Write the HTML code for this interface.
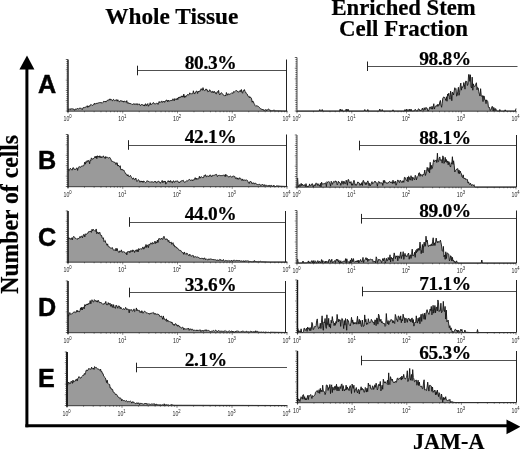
<!DOCTYPE html>
<html><head><meta charset="utf-8"><title>JAM-A flow cytometry</title>
<style>
html,body{margin:0;padding:0;background:#fff;}
body{width:520px;height:451px;overflow:hidden;font-family:"Liberation Sans",sans-serif;}
svg{display:block;will-change:transform;}
.sf{font-family:"Liberation Serif",serif;font-weight:bold;stroke:#000;stroke-width:0.2px;}
.pc{letter-spacing:-0.35px;}
.sn{font-family:"Liberation Sans",sans-serif;}
.sb{font-family:"Liberation Sans",sans-serif;font-weight:bold;}
</style></head><body>
<svg width="520" height="451" viewBox="0 0 520 451">
<rect x="0" y="0" width="520" height="451" fill="#fff"/>
<g>
<path d="M68.0 111.0 L68.0 109.03 L68.6 109.23 L69.2 109.13 L69.8 109.23 L70.4 109.71 L71.0 108.45 L71.6 109.10 L72.2 108.99 L72.8 108.75 L73.4 109.10 L74.0 109.13 L74.6 110.37 L75.2 109.21 L75.8 109.01 L76.4 109.43 L77.0 108.39 L77.6 108.58 L78.2 109.15 L78.8 108.56 L79.4 108.26 L80.0 108.44 L80.6 107.83 L81.2 109.02 L81.8 108.92 L82.4 109.52 L83.0 107.68 L83.6 107.54 L84.2 107.37 L84.8 107.63 L85.4 107.14 L86.0 107.43 L86.6 106.58 L87.2 105.70 L87.8 107.41 L88.4 105.91 L89.0 106.79 L89.6 105.65 L90.2 105.78 L90.8 104.42 L91.4 104.68 L92.0 105.41 L92.6 105.37 L93.2 104.63 L93.8 104.71 L94.4 103.16 L95.0 104.28 L95.6 103.60 L96.2 103.16 L96.8 103.96 L97.4 103.21 L98.0 102.71 L98.6 102.88 L99.2 102.70 L99.8 102.60 L100.4 102.68 L101.0 102.12 L101.6 102.95 L102.2 103.27 L102.8 102.67 L103.4 101.47 L104.0 101.06 L104.6 101.67 L105.2 101.04 L105.8 102.13 L106.4 101.09 L107.0 101.14 L107.6 100.19 L108.2 100.63 L108.8 99.49 L109.4 99.04 L110.0 100.24 L110.6 99.04 L111.2 99.31 L111.8 100.37 L112.4 100.80 L113.0 99.64 L113.6 99.37 L114.2 100.45 L114.8 100.73 L115.4 100.50 L116.0 99.51 L116.6 99.93 L117.2 101.25 L117.8 99.70 L118.4 100.73 L119.0 101.75 L119.6 101.72 L120.2 100.54 L120.8 100.94 L121.4 101.11 L122.0 100.55 L122.6 101.58 L123.2 100.99 L123.8 102.22 L124.4 101.07 L125.0 101.52 L125.6 101.69 L126.2 102.32 L126.8 100.61 L127.4 103.28 L128.0 102.55 L128.6 102.96 L129.2 103.91 L129.8 103.17 L130.4 103.60 L131.0 103.54 L131.6 104.19 L132.2 104.22 L132.8 104.68 L133.4 103.98 L134.0 103.44 L134.6 104.49 L135.2 103.70 L135.8 104.59 L136.4 104.52 L137.0 103.45 L137.6 104.78 L138.2 104.38 L138.8 104.22 L139.4 103.94 L140.0 105.45 L140.6 105.61 L141.2 104.50 L141.8 104.60 L142.4 104.77 L143.0 104.68 L143.6 105.77 L144.2 104.79 L144.8 106.08 L145.4 103.84 L146.0 104.09 L146.6 105.70 L147.2 104.78 L147.8 103.55 L148.4 106.26 L149.0 105.13 L149.6 104.77 L150.2 102.71 L150.8 104.90 L151.4 104.15 L152.0 103.91 L152.6 103.64 L153.2 102.55 L153.8 102.84 L154.4 103.86 L155.0 104.12 L155.6 103.79 L156.2 103.49 L156.8 103.23 L157.4 103.34 L158.0 104.43 L158.6 102.78 L159.2 101.47 L159.8 102.82 L160.4 102.12 L161.0 101.45 L161.6 101.20 L162.2 102.57 L162.8 101.38 L163.4 101.62 L164.0 101.00 L164.6 102.39 L165.2 101.09 L165.8 100.96 L166.4 100.01 L167.0 100.09 L167.6 101.76 L168.2 100.04 L168.8 101.48 L169.4 100.97 L170.0 100.73 L170.6 100.52 L171.2 100.23 L171.8 101.02 L172.4 100.09 L173.0 98.77 L173.6 99.53 L174.2 100.88 L174.8 98.58 L175.4 99.31 L176.0 99.06 L176.6 99.80 L177.2 97.97 L177.8 99.60 L178.4 97.35 L179.0 98.13 L179.6 96.86 L180.2 97.73 L180.8 96.87 L181.4 95.88 L182.0 97.21 L182.6 95.87 L183.2 97.10 L183.8 94.09 L184.4 97.46 L185.0 95.77 L185.6 97.19 L186.2 96.09 L186.8 95.26 L187.4 94.81 L188.0 94.36 L188.6 95.22 L189.2 94.22 L189.8 92.82 L190.4 93.75 L191.0 94.26 L191.6 93.69 L192.2 93.66 L192.8 93.66 L193.4 90.79 L194.0 93.01 L194.6 94.06 L195.2 92.92 L195.8 91.96 L196.4 91.03 L197.0 91.31 L197.6 93.48 L198.2 91.07 L198.8 91.83 L199.4 91.06 L200.0 91.53 L200.6 89.57 L201.2 88.65 L201.8 89.97 L202.4 90.25 L203.0 87.65 L203.6 90.06 L204.2 90.58 L204.8 90.31 L205.4 90.24 L206.0 88.87 L206.6 89.99 L207.2 89.81 L207.8 91.77 L208.4 91.35 L209.0 91.69 L209.6 89.79 L210.2 90.23 L210.8 91.77 L211.4 91.64 L212.0 92.75 L212.6 91.31 L213.2 91.41 L213.8 92.86 L214.4 91.42 L215.0 91.89 L215.6 93.59 L216.2 94.06 L216.8 92.34 L217.4 91.58 L218.0 92.48 L218.6 90.39 L219.2 94.00 L219.8 94.88 L220.4 93.84 L221.0 92.83 L221.6 92.77 L222.2 93.49 L222.8 94.32 L223.4 95.03 L224.0 95.46 L224.6 96.10 L225.2 95.00 L225.8 95.82 L226.4 92.54 L227.0 93.85 L227.6 95.18 L228.2 93.82 L228.8 94.13 L229.4 94.24 L230.0 94.49 L230.6 93.69 L231.2 93.41 L231.8 92.73 L232.4 93.11 L233.0 93.42 L233.6 91.52 L234.2 92.08 L234.8 91.57 L235.4 91.12 L236.0 90.41 L236.6 90.67 L237.2 90.93 L237.8 91.84 L238.4 91.85 L239.0 92.20 L239.6 91.40 L240.2 90.33 L240.8 91.77 L241.4 89.51 L242.0 92.40 L242.6 93.25 L243.2 90.65 L243.8 91.06 L244.4 89.57 L245.0 91.43 L245.6 91.98 L246.2 93.28 L246.8 94.17 L247.4 94.32 L248.0 96.26 L248.6 96.73 L249.2 96.29 L249.8 97.92 L250.4 97.06 L251.0 97.60 L251.6 98.91 L252.2 102.21 L252.8 100.94 L253.4 101.91 L254.0 103.39 L254.6 104.38 L255.2 105.67 L255.8 106.31 L256.4 105.74 L257.0 105.93 L257.6 106.10 L258.2 106.40 L258.8 106.75 L259.4 107.37 L260.0 108.11 L260.6 108.87 L261.2 109.06 L261.8 109.01 L262.4 109.84 L263.0 109.09 L263.6 110.40 L264.2 110.07 L264.8 110.64 L265.4 109.89 L266.0 109.29 L266.6 110.80 L267.2 109.91 L267.8 109.60 L268.4 109.15 L269.0 109.21 L269.6 110.35 L270.2 110.53 L270.8 110.13 L271.4 111.00 L272.0 110.46 L272.6 110.82 L273.2 110.16 L273.8 110.28 L274.4 110.25 L275.0 110.75 L275.6 110.76 L276.2 110.77 L276.8 110.79 L277.4 110.80 L278.0 110.81 L278.6 110.82 L279.2 110.84 L279.8 110.85 L280.4 110.86 L281.0 110.87 L281.6 110.89 L282.2 110.90 L282.8 110.91 L283.4 110.92 L284.0 110.94 L284.6 110.95 L285.2 110.96 L285.8 110.97 L286.4 110.99 L287.0 111.00 L287.0 111.0 Z" fill="#9a9a9a" stroke="none"/><path d="M68.0 109.03 L68.6 109.23 L69.2 109.13 L69.8 109.23 L70.4 109.71 L71.0 108.45 L71.6 109.10 L72.2 108.99 L72.8 108.75 L73.4 109.10 L74.0 109.13 L74.6 110.37 L75.2 109.21 L75.8 109.01 L76.4 109.43 L77.0 108.39 L77.6 108.58 L78.2 109.15 L78.8 108.56 L79.4 108.26 L80.0 108.44 L80.6 107.83 L81.2 109.02 L81.8 108.92 L82.4 109.52 L83.0 107.68 L83.6 107.54 L84.2 107.37 L84.8 107.63 L85.4 107.14 L86.0 107.43 L86.6 106.58 L87.2 105.70 L87.8 107.41 L88.4 105.91 L89.0 106.79 L89.6 105.65 L90.2 105.78 L90.8 104.42 L91.4 104.68 L92.0 105.41 L92.6 105.37 L93.2 104.63 L93.8 104.71 L94.4 103.16 L95.0 104.28 L95.6 103.60 L96.2 103.16 L96.8 103.96 L97.4 103.21 L98.0 102.71 L98.6 102.88 L99.2 102.70 L99.8 102.60 L100.4 102.68 L101.0 102.12 L101.6 102.95 L102.2 103.27 L102.8 102.67 L103.4 101.47 L104.0 101.06 L104.6 101.67 L105.2 101.04 L105.8 102.13 L106.4 101.09 L107.0 101.14 L107.6 100.19 L108.2 100.63 L108.8 99.49 L109.4 99.04 L110.0 100.24 L110.6 99.04 L111.2 99.31 L111.8 100.37 L112.4 100.80 L113.0 99.64 L113.6 99.37 L114.2 100.45 L114.8 100.73 L115.4 100.50 L116.0 99.51 L116.6 99.93 L117.2 101.25 L117.8 99.70 L118.4 100.73 L119.0 101.75 L119.6 101.72 L120.2 100.54 L120.8 100.94 L121.4 101.11 L122.0 100.55 L122.6 101.58 L123.2 100.99 L123.8 102.22 L124.4 101.07 L125.0 101.52 L125.6 101.69 L126.2 102.32 L126.8 100.61 L127.4 103.28 L128.0 102.55 L128.6 102.96 L129.2 103.91 L129.8 103.17 L130.4 103.60 L131.0 103.54 L131.6 104.19 L132.2 104.22 L132.8 104.68 L133.4 103.98 L134.0 103.44 L134.6 104.49 L135.2 103.70 L135.8 104.59 L136.4 104.52 L137.0 103.45 L137.6 104.78 L138.2 104.38 L138.8 104.22 L139.4 103.94 L140.0 105.45 L140.6 105.61 L141.2 104.50 L141.8 104.60 L142.4 104.77 L143.0 104.68 L143.6 105.77 L144.2 104.79 L144.8 106.08 L145.4 103.84 L146.0 104.09 L146.6 105.70 L147.2 104.78 L147.8 103.55 L148.4 106.26 L149.0 105.13 L149.6 104.77 L150.2 102.71 L150.8 104.90 L151.4 104.15 L152.0 103.91 L152.6 103.64 L153.2 102.55 L153.8 102.84 L154.4 103.86 L155.0 104.12 L155.6 103.79 L156.2 103.49 L156.8 103.23 L157.4 103.34 L158.0 104.43 L158.6 102.78 L159.2 101.47 L159.8 102.82 L160.4 102.12 L161.0 101.45 L161.6 101.20 L162.2 102.57 L162.8 101.38 L163.4 101.62 L164.0 101.00 L164.6 102.39 L165.2 101.09 L165.8 100.96 L166.4 100.01 L167.0 100.09 L167.6 101.76 L168.2 100.04 L168.8 101.48 L169.4 100.97 L170.0 100.73 L170.6 100.52 L171.2 100.23 L171.8 101.02 L172.4 100.09 L173.0 98.77 L173.6 99.53 L174.2 100.88 L174.8 98.58 L175.4 99.31 L176.0 99.06 L176.6 99.80 L177.2 97.97 L177.8 99.60 L178.4 97.35 L179.0 98.13 L179.6 96.86 L180.2 97.73 L180.8 96.87 L181.4 95.88 L182.0 97.21 L182.6 95.87 L183.2 97.10 L183.8 94.09 L184.4 97.46 L185.0 95.77 L185.6 97.19 L186.2 96.09 L186.8 95.26 L187.4 94.81 L188.0 94.36 L188.6 95.22 L189.2 94.22 L189.8 92.82 L190.4 93.75 L191.0 94.26 L191.6 93.69 L192.2 93.66 L192.8 93.66 L193.4 90.79 L194.0 93.01 L194.6 94.06 L195.2 92.92 L195.8 91.96 L196.4 91.03 L197.0 91.31 L197.6 93.48 L198.2 91.07 L198.8 91.83 L199.4 91.06 L200.0 91.53 L200.6 89.57 L201.2 88.65 L201.8 89.97 L202.4 90.25 L203.0 87.65 L203.6 90.06 L204.2 90.58 L204.8 90.31 L205.4 90.24 L206.0 88.87 L206.6 89.99 L207.2 89.81 L207.8 91.77 L208.4 91.35 L209.0 91.69 L209.6 89.79 L210.2 90.23 L210.8 91.77 L211.4 91.64 L212.0 92.75 L212.6 91.31 L213.2 91.41 L213.8 92.86 L214.4 91.42 L215.0 91.89 L215.6 93.59 L216.2 94.06 L216.8 92.34 L217.4 91.58 L218.0 92.48 L218.6 90.39 L219.2 94.00 L219.8 94.88 L220.4 93.84 L221.0 92.83 L221.6 92.77 L222.2 93.49 L222.8 94.32 L223.4 95.03 L224.0 95.46 L224.6 96.10 L225.2 95.00 L225.8 95.82 L226.4 92.54 L227.0 93.85 L227.6 95.18 L228.2 93.82 L228.8 94.13 L229.4 94.24 L230.0 94.49 L230.6 93.69 L231.2 93.41 L231.8 92.73 L232.4 93.11 L233.0 93.42 L233.6 91.52 L234.2 92.08 L234.8 91.57 L235.4 91.12 L236.0 90.41 L236.6 90.67 L237.2 90.93 L237.8 91.84 L238.4 91.85 L239.0 92.20 L239.6 91.40 L240.2 90.33 L240.8 91.77 L241.4 89.51 L242.0 92.40 L242.6 93.25 L243.2 90.65 L243.8 91.06 L244.4 89.57 L245.0 91.43 L245.6 91.98 L246.2 93.28 L246.8 94.17 L247.4 94.32 L248.0 96.26 L248.6 96.73 L249.2 96.29 L249.8 97.92 L250.4 97.06 L251.0 97.60 L251.6 98.91 L252.2 102.21 L252.8 100.94 L253.4 101.91 L254.0 103.39 L254.6 104.38 L255.2 105.67 L255.8 106.31 L256.4 105.74 L257.0 105.93 L257.6 106.10 L258.2 106.40 L258.8 106.75 L259.4 107.37 L260.0 108.11 L260.6 108.87 L261.2 109.06 L261.8 109.01 L262.4 109.84 L263.0 109.09 L263.6 110.40 L264.2 110.07 L264.8 110.64 L265.4 109.89 L266.0 109.29 L266.6 110.80 L267.2 109.91 L267.8 109.60 L268.4 109.15 L269.0 109.21 L269.6 110.35 L270.2 110.53 L270.8 110.13 L271.4 111.00 L272.0 110.46 L272.6 110.82 L273.2 110.16 L273.8 110.28 L274.4 110.25 L275.0 110.75 L275.6 110.76 L276.2 110.77 L276.8 110.79 L277.4 110.80 L278.0 110.81 L278.6 110.82 L279.2 110.84 L279.8 110.85 L280.4 110.86 L281.0 110.87 L281.6 110.89 L282.2 110.90 L282.8 110.91 L283.4 110.92 L284.0 110.94 L284.6 110.95 L285.2 110.96 L285.8 110.97 L286.4 110.99 L287.0 111.00" fill="none" stroke="#111" stroke-width="0.9" stroke-linejoin="round"/>
<line x1="68.0" y1="59.5" x2="68.0" y2="112.2" stroke="#151515" stroke-width="1.4"/><line x1="65.8" y1="111.00" x2="68.0" y2="111.00" stroke="#222" stroke-width="0.7"/><line x1="66.4" y1="108.94" x2="68.0" y2="108.94" stroke="#222" stroke-width="0.7"/><line x1="66.4" y1="106.88" x2="68.0" y2="106.88" stroke="#222" stroke-width="0.7"/><line x1="66.4" y1="104.82" x2="68.0" y2="104.82" stroke="#222" stroke-width="0.7"/><line x1="66.4" y1="102.76" x2="68.0" y2="102.76" stroke="#222" stroke-width="0.7"/><line x1="65.8" y1="100.70" x2="68.0" y2="100.70" stroke="#222" stroke-width="0.7"/><line x1="66.4" y1="98.64" x2="68.0" y2="98.64" stroke="#222" stroke-width="0.7"/><line x1="66.4" y1="96.58" x2="68.0" y2="96.58" stroke="#222" stroke-width="0.7"/><line x1="66.4" y1="94.52" x2="68.0" y2="94.52" stroke="#222" stroke-width="0.7"/><line x1="66.4" y1="92.46" x2="68.0" y2="92.46" stroke="#222" stroke-width="0.7"/><line x1="65.8" y1="90.40" x2="68.0" y2="90.40" stroke="#222" stroke-width="0.7"/><line x1="66.4" y1="88.34" x2="68.0" y2="88.34" stroke="#222" stroke-width="0.7"/><line x1="66.4" y1="86.28" x2="68.0" y2="86.28" stroke="#222" stroke-width="0.7"/><line x1="66.4" y1="84.22" x2="68.0" y2="84.22" stroke="#222" stroke-width="0.7"/><line x1="66.4" y1="82.16" x2="68.0" y2="82.16" stroke="#222" stroke-width="0.7"/><line x1="65.8" y1="80.10" x2="68.0" y2="80.10" stroke="#222" stroke-width="0.7"/><line x1="66.4" y1="78.04" x2="68.0" y2="78.04" stroke="#222" stroke-width="0.7"/><line x1="66.4" y1="75.98" x2="68.0" y2="75.98" stroke="#222" stroke-width="0.7"/><line x1="66.4" y1="73.92" x2="68.0" y2="73.92" stroke="#222" stroke-width="0.7"/><line x1="66.4" y1="71.86" x2="68.0" y2="71.86" stroke="#222" stroke-width="0.7"/><line x1="65.8" y1="69.80" x2="68.0" y2="69.80" stroke="#222" stroke-width="0.7"/><line x1="66.4" y1="67.74" x2="68.0" y2="67.74" stroke="#222" stroke-width="0.7"/><line x1="66.4" y1="65.68" x2="68.0" y2="65.68" stroke="#222" stroke-width="0.7"/><line x1="66.4" y1="63.62" x2="68.0" y2="63.62" stroke="#222" stroke-width="0.7"/><line x1="66.4" y1="61.56" x2="68.0" y2="61.56" stroke="#222" stroke-width="0.7"/><line x1="65.8" y1="59.50" x2="68.0" y2="59.50" stroke="#222" stroke-width="0.7"/>
<line x1="67.5" y1="111.2" x2="287.5" y2="111.2" stroke="#222" stroke-width="0.9"/><line x1="68.00" y1="111.0" x2="68.00" y2="113.4" stroke="#222" stroke-width="0.5"/><line x1="84.48" y1="111.0" x2="84.48" y2="112.3" stroke="#222" stroke-width="0.5"/><line x1="94.12" y1="111.0" x2="94.12" y2="112.3" stroke="#222" stroke-width="0.5"/><line x1="100.96" y1="111.0" x2="100.96" y2="112.3" stroke="#222" stroke-width="0.5"/><line x1="106.27" y1="111.0" x2="106.27" y2="112.3" stroke="#222" stroke-width="0.5"/><line x1="110.60" y1="111.0" x2="110.60" y2="112.3" stroke="#222" stroke-width="0.5"/><line x1="114.27" y1="111.0" x2="114.27" y2="112.3" stroke="#222" stroke-width="0.5"/><line x1="117.44" y1="111.0" x2="117.44" y2="112.3" stroke="#222" stroke-width="0.5"/><line x1="120.24" y1="111.0" x2="120.24" y2="112.3" stroke="#222" stroke-width="0.5"/><line x1="122.75" y1="111.0" x2="122.75" y2="113.4" stroke="#222" stroke-width="0.5"/><line x1="139.23" y1="111.0" x2="139.23" y2="112.3" stroke="#222" stroke-width="0.5"/><line x1="148.87" y1="111.0" x2="148.87" y2="112.3" stroke="#222" stroke-width="0.5"/><line x1="155.71" y1="111.0" x2="155.71" y2="112.3" stroke="#222" stroke-width="0.5"/><line x1="161.02" y1="111.0" x2="161.02" y2="112.3" stroke="#222" stroke-width="0.5"/><line x1="165.35" y1="111.0" x2="165.35" y2="112.3" stroke="#222" stroke-width="0.5"/><line x1="169.02" y1="111.0" x2="169.02" y2="112.3" stroke="#222" stroke-width="0.5"/><line x1="172.19" y1="111.0" x2="172.19" y2="112.3" stroke="#222" stroke-width="0.5"/><line x1="174.99" y1="111.0" x2="174.99" y2="112.3" stroke="#222" stroke-width="0.5"/><line x1="177.50" y1="111.0" x2="177.50" y2="113.4" stroke="#222" stroke-width="0.5"/><line x1="193.98" y1="111.0" x2="193.98" y2="112.3" stroke="#222" stroke-width="0.5"/><line x1="203.62" y1="111.0" x2="203.62" y2="112.3" stroke="#222" stroke-width="0.5"/><line x1="210.46" y1="111.0" x2="210.46" y2="112.3" stroke="#222" stroke-width="0.5"/><line x1="215.77" y1="111.0" x2="215.77" y2="112.3" stroke="#222" stroke-width="0.5"/><line x1="220.10" y1="111.0" x2="220.10" y2="112.3" stroke="#222" stroke-width="0.5"/><line x1="223.77" y1="111.0" x2="223.77" y2="112.3" stroke="#222" stroke-width="0.5"/><line x1="226.94" y1="111.0" x2="226.94" y2="112.3" stroke="#222" stroke-width="0.5"/><line x1="229.74" y1="111.0" x2="229.74" y2="112.3" stroke="#222" stroke-width="0.5"/><line x1="232.25" y1="111.0" x2="232.25" y2="113.4" stroke="#222" stroke-width="0.5"/><line x1="248.73" y1="111.0" x2="248.73" y2="112.3" stroke="#222" stroke-width="0.5"/><line x1="258.37" y1="111.0" x2="258.37" y2="112.3" stroke="#222" stroke-width="0.5"/><line x1="265.21" y1="111.0" x2="265.21" y2="112.3" stroke="#222" stroke-width="0.5"/><line x1="270.52" y1="111.0" x2="270.52" y2="112.3" stroke="#222" stroke-width="0.5"/><line x1="274.85" y1="111.0" x2="274.85" y2="112.3" stroke="#222" stroke-width="0.5"/><line x1="278.52" y1="111.0" x2="278.52" y2="112.3" stroke="#222" stroke-width="0.5"/><line x1="281.69" y1="111.0" x2="281.69" y2="112.3" stroke="#222" stroke-width="0.5"/><line x1="284.49" y1="111.0" x2="284.49" y2="112.3" stroke="#222" stroke-width="0.5"/><line x1="287.00" y1="111.0" x2="287.00" y2="113.4" stroke="#222" stroke-width="0.5"/><text class="sn" transform="translate(67.6,121.3) scale(0.82,1)" font-size="6.4" text-anchor="middle" fill="#222">10<tspan dy="-3.3" font-size="5.1">0</tspan></text><text class="sn" transform="translate(122.3,121.3) scale(0.82,1)" font-size="6.4" text-anchor="middle" fill="#222">10<tspan dy="-3.3" font-size="5.1">1</tspan></text><text class="sn" transform="translate(177.1,121.3) scale(0.82,1)" font-size="6.4" text-anchor="middle" fill="#222">10<tspan dy="-3.3" font-size="5.1">2</tspan></text><text class="sn" transform="translate(231.8,121.3) scale(0.82,1)" font-size="6.4" text-anchor="middle" fill="#222">10<tspan dy="-3.3" font-size="5.1">3</tspan></text><text class="sn" transform="translate(286.6,121.3) scale(0.82,1)" font-size="6.4" text-anchor="middle" fill="#222">10<tspan dy="-3.3" font-size="5.1">4</tspan></text>
<line x1="137.5" y1="70.5" x2="286.5" y2="70.5" stroke="#505050" stroke-width="1"/><line x1="137.5" y1="65.7" x2="137.5" y2="75.3" stroke="#222" stroke-width="1"/><line x1="286.5" y1="59.5" x2="286.5" y2="111.0" stroke="#222" stroke-width="1"/><text x="210.5" y="68.7" class="sf pc" font-size="19.4" text-anchor="middle" fill="#000">80.3%</text>
<path d="M68.0 186.5 L68.0 168.89 L68.6 170.22 L69.2 170.66 L69.8 169.16 L70.4 168.28 L71.0 169.31 L71.6 169.69 L72.2 170.14 L72.8 167.87 L73.4 167.67 L74.0 169.41 L74.6 169.07 L75.2 169.93 L75.8 169.30 L76.4 168.15 L77.0 167.87 L77.6 170.43 L78.2 167.60 L78.8 167.01 L79.4 166.54 L80.0 167.59 L80.6 167.19 L81.2 166.27 L81.8 166.09 L82.4 165.97 L83.0 165.93 L83.6 165.89 L84.2 164.56 L84.8 162.09 L85.4 164.16 L86.0 161.55 L86.6 162.37 L87.2 160.57 L87.8 161.65 L88.4 160.38 L89.0 160.98 L89.6 163.81 L90.2 159.85 L90.8 160.50 L91.4 157.87 L92.0 158.69 L92.6 159.42 L93.2 158.30 L93.8 158.51 L94.4 157.91 L95.0 156.39 L95.6 157.82 L96.2 156.00 L96.8 158.69 L97.4 155.73 L98.0 157.06 L98.6 156.34 L99.2 157.44 L99.8 155.75 L100.4 157.58 L101.0 156.37 L101.6 157.97 L102.2 157.30 L102.8 156.80 L103.4 155.82 L104.0 157.59 L104.6 157.30 L105.2 158.65 L105.8 156.45 L106.4 157.53 L107.0 157.53 L107.6 157.38 L108.2 157.70 L108.8 158.08 L109.4 157.63 L110.0 157.59 L110.6 158.66 L111.2 160.13 L111.8 161.52 L112.4 161.35 L113.0 161.83 L113.6 161.94 L114.2 162.25 L114.8 162.12 L115.4 163.13 L116.0 164.56 L116.6 162.81 L117.2 162.84 L117.8 166.06 L118.4 165.01 L119.0 166.40 L119.6 166.96 L120.2 165.69 L120.8 169.78 L121.4 169.81 L122.0 168.98 L122.6 170.18 L123.2 170.28 L123.8 170.05 L124.4 171.41 L125.0 172.51 L125.6 173.82 L126.2 174.13 L126.8 174.26 L127.4 175.99 L128.0 174.69 L128.6 176.29 L129.2 176.90 L129.8 176.15 L130.4 175.36 L131.0 176.41 L131.6 177.64 L132.2 178.21 L132.8 179.32 L133.4 177.81 L134.0 178.90 L134.6 179.72 L135.2 179.43 L135.8 178.03 L136.4 180.37 L137.0 181.54 L137.6 180.77 L138.2 179.59 L138.8 180.08 L139.4 180.64 L140.0 182.29 L140.6 181.17 L141.2 180.97 L141.8 182.05 L142.4 181.11 L143.0 182.51 L143.6 180.99 L144.2 181.27 L144.8 182.16 L145.4 182.66 L146.0 182.18 L146.6 181.96 L147.2 180.62 L147.8 181.33 L148.4 181.40 L149.0 181.46 L149.6 182.17 L150.2 181.60 L150.8 182.31 L151.4 181.87 L152.0 181.62 L152.6 181.91 L153.2 182.11 L153.8 182.39 L154.4 181.55 L155.0 181.71 L155.6 181.01 L156.2 182.88 L156.8 182.79 L157.4 181.78 L158.0 181.59 L158.6 181.12 L159.2 182.01 L159.8 182.04 L160.4 183.29 L161.0 182.08 L161.6 181.45 L162.2 180.41 L162.8 182.83 L163.4 182.07 L164.0 180.95 L164.6 182.08 L165.2 180.97 L165.8 184.16 L166.4 182.69 L167.0 182.35 L167.6 181.89 L168.2 180.63 L168.8 181.87 L169.4 180.94 L170.0 182.27 L170.6 180.52 L171.2 181.27 L171.8 182.59 L172.4 182.83 L173.0 181.02 L173.6 180.77 L174.2 182.27 L174.8 182.23 L175.4 181.03 L176.0 181.19 L176.6 181.17 L177.2 180.82 L177.8 181.12 L178.4 182.33 L179.0 181.95 L179.6 182.80 L180.2 181.40 L180.8 181.34 L181.4 180.77 L182.0 181.30 L182.6 180.50 L183.2 180.18 L183.8 181.75 L184.4 182.21 L185.0 181.79 L185.6 182.03 L186.2 181.24 L186.8 180.51 L187.4 180.95 L188.0 180.55 L188.6 179.97 L189.2 179.49 L189.8 179.53 L190.4 180.38 L191.0 180.32 L191.6 179.73 L192.2 180.87 L192.8 179.84 L193.4 179.96 L194.0 180.24 L194.6 178.63 L195.2 177.64 L195.8 179.42 L196.4 178.21 L197.0 179.49 L197.6 178.62 L198.2 178.95 L198.8 178.60 L199.4 176.32 L200.0 178.24 L200.6 177.03 L201.2 176.79 L201.8 176.86 L202.4 177.62 L203.0 177.60 L203.6 177.60 L204.2 175.45 L204.8 176.17 L205.4 174.69 L206.0 176.36 L206.6 176.81 L207.2 175.65 L207.8 176.34 L208.4 176.24 L209.0 176.76 L209.6 175.21 L210.2 175.11 L210.8 175.06 L211.4 176.98 L212.0 176.35 L212.6 175.28 L213.2 175.47 L213.8 175.28 L214.4 175.26 L215.0 174.83 L215.6 174.79 L216.2 174.10 L216.8 174.66 L217.4 176.57 L218.0 175.73 L218.6 175.41 L219.2 175.25 L219.8 175.53 L220.4 175.82 L221.0 175.08 L221.6 175.82 L222.2 175.91 L222.8 175.19 L223.4 175.21 L224.0 175.11 L224.6 175.12 L225.2 176.72 L225.8 174.22 L226.4 175.93 L227.0 175.72 L227.6 175.77 L228.2 176.40 L228.8 177.26 L229.4 176.50 L230.0 176.39 L230.6 176.08 L231.2 176.52 L231.8 177.39 L232.4 176.44 L233.0 176.02 L233.6 176.11 L234.2 176.42 L234.8 176.39 L235.4 178.45 L236.0 178.07 L236.6 177.80 L237.2 179.24 L237.8 177.86 L238.4 179.07 L239.0 179.28 L239.6 177.77 L240.2 177.95 L240.8 178.58 L241.4 180.06 L242.0 180.51 L242.6 178.93 L243.2 180.68 L243.8 179.88 L244.4 180.05 L245.0 180.13 L245.6 180.48 L246.2 179.68 L246.8 180.42 L247.4 180.47 L248.0 181.78 L248.6 182.98 L249.2 183.57 L249.8 181.83 L250.4 181.17 L251.0 182.17 L251.6 182.05 L252.2 183.99 L252.8 183.33 L253.4 182.76 L254.0 183.92 L254.6 183.87 L255.2 182.86 L255.8 183.66 L256.4 184.02 L257.0 184.35 L257.6 184.58 L258.2 184.39 L258.8 184.73 L259.4 184.39 L260.0 184.29 L260.6 185.58 L261.2 185.05 L261.8 185.15 L262.4 184.20 L263.0 184.97 L263.6 185.51 L264.2 184.55 L264.8 185.76 L265.4 185.10 L266.0 185.54 L266.6 185.35 L267.2 185.57 L267.8 186.08 L268.4 185.41 L269.0 186.35 L269.6 185.36 L270.2 185.35 L270.8 186.10 L271.4 185.35 L272.0 185.68 L272.6 186.26 L273.2 186.41 L273.8 185.16 L274.4 186.16 L275.0 186.50 L275.6 186.50 L276.2 185.92 L276.8 185.80 L277.4 185.95 L278.0 185.63 L278.6 186.02 L279.2 186.08 L279.8 186.12 L280.4 186.21 L281.0 186.24 L281.6 186.26 L282.2 186.29 L282.8 186.31 L283.4 186.34 L284.0 186.37 L284.6 186.39 L285.2 186.42 L285.8 186.45 L286.4 186.47 L287.0 186.50 L287.0 186.5 Z" fill="#9a9a9a" stroke="none"/><path d="M68.0 168.89 L68.6 170.22 L69.2 170.66 L69.8 169.16 L70.4 168.28 L71.0 169.31 L71.6 169.69 L72.2 170.14 L72.8 167.87 L73.4 167.67 L74.0 169.41 L74.6 169.07 L75.2 169.93 L75.8 169.30 L76.4 168.15 L77.0 167.87 L77.6 170.43 L78.2 167.60 L78.8 167.01 L79.4 166.54 L80.0 167.59 L80.6 167.19 L81.2 166.27 L81.8 166.09 L82.4 165.97 L83.0 165.93 L83.6 165.89 L84.2 164.56 L84.8 162.09 L85.4 164.16 L86.0 161.55 L86.6 162.37 L87.2 160.57 L87.8 161.65 L88.4 160.38 L89.0 160.98 L89.6 163.81 L90.2 159.85 L90.8 160.50 L91.4 157.87 L92.0 158.69 L92.6 159.42 L93.2 158.30 L93.8 158.51 L94.4 157.91 L95.0 156.39 L95.6 157.82 L96.2 156.00 L96.8 158.69 L97.4 155.73 L98.0 157.06 L98.6 156.34 L99.2 157.44 L99.8 155.75 L100.4 157.58 L101.0 156.37 L101.6 157.97 L102.2 157.30 L102.8 156.80 L103.4 155.82 L104.0 157.59 L104.6 157.30 L105.2 158.65 L105.8 156.45 L106.4 157.53 L107.0 157.53 L107.6 157.38 L108.2 157.70 L108.8 158.08 L109.4 157.63 L110.0 157.59 L110.6 158.66 L111.2 160.13 L111.8 161.52 L112.4 161.35 L113.0 161.83 L113.6 161.94 L114.2 162.25 L114.8 162.12 L115.4 163.13 L116.0 164.56 L116.6 162.81 L117.2 162.84 L117.8 166.06 L118.4 165.01 L119.0 166.40 L119.6 166.96 L120.2 165.69 L120.8 169.78 L121.4 169.81 L122.0 168.98 L122.6 170.18 L123.2 170.28 L123.8 170.05 L124.4 171.41 L125.0 172.51 L125.6 173.82 L126.2 174.13 L126.8 174.26 L127.4 175.99 L128.0 174.69 L128.6 176.29 L129.2 176.90 L129.8 176.15 L130.4 175.36 L131.0 176.41 L131.6 177.64 L132.2 178.21 L132.8 179.32 L133.4 177.81 L134.0 178.90 L134.6 179.72 L135.2 179.43 L135.8 178.03 L136.4 180.37 L137.0 181.54 L137.6 180.77 L138.2 179.59 L138.8 180.08 L139.4 180.64 L140.0 182.29 L140.6 181.17 L141.2 180.97 L141.8 182.05 L142.4 181.11 L143.0 182.51 L143.6 180.99 L144.2 181.27 L144.8 182.16 L145.4 182.66 L146.0 182.18 L146.6 181.96 L147.2 180.62 L147.8 181.33 L148.4 181.40 L149.0 181.46 L149.6 182.17 L150.2 181.60 L150.8 182.31 L151.4 181.87 L152.0 181.62 L152.6 181.91 L153.2 182.11 L153.8 182.39 L154.4 181.55 L155.0 181.71 L155.6 181.01 L156.2 182.88 L156.8 182.79 L157.4 181.78 L158.0 181.59 L158.6 181.12 L159.2 182.01 L159.8 182.04 L160.4 183.29 L161.0 182.08 L161.6 181.45 L162.2 180.41 L162.8 182.83 L163.4 182.07 L164.0 180.95 L164.6 182.08 L165.2 180.97 L165.8 184.16 L166.4 182.69 L167.0 182.35 L167.6 181.89 L168.2 180.63 L168.8 181.87 L169.4 180.94 L170.0 182.27 L170.6 180.52 L171.2 181.27 L171.8 182.59 L172.4 182.83 L173.0 181.02 L173.6 180.77 L174.2 182.27 L174.8 182.23 L175.4 181.03 L176.0 181.19 L176.6 181.17 L177.2 180.82 L177.8 181.12 L178.4 182.33 L179.0 181.95 L179.6 182.80 L180.2 181.40 L180.8 181.34 L181.4 180.77 L182.0 181.30 L182.6 180.50 L183.2 180.18 L183.8 181.75 L184.4 182.21 L185.0 181.79 L185.6 182.03 L186.2 181.24 L186.8 180.51 L187.4 180.95 L188.0 180.55 L188.6 179.97 L189.2 179.49 L189.8 179.53 L190.4 180.38 L191.0 180.32 L191.6 179.73 L192.2 180.87 L192.8 179.84 L193.4 179.96 L194.0 180.24 L194.6 178.63 L195.2 177.64 L195.8 179.42 L196.4 178.21 L197.0 179.49 L197.6 178.62 L198.2 178.95 L198.8 178.60 L199.4 176.32 L200.0 178.24 L200.6 177.03 L201.2 176.79 L201.8 176.86 L202.4 177.62 L203.0 177.60 L203.6 177.60 L204.2 175.45 L204.8 176.17 L205.4 174.69 L206.0 176.36 L206.6 176.81 L207.2 175.65 L207.8 176.34 L208.4 176.24 L209.0 176.76 L209.6 175.21 L210.2 175.11 L210.8 175.06 L211.4 176.98 L212.0 176.35 L212.6 175.28 L213.2 175.47 L213.8 175.28 L214.4 175.26 L215.0 174.83 L215.6 174.79 L216.2 174.10 L216.8 174.66 L217.4 176.57 L218.0 175.73 L218.6 175.41 L219.2 175.25 L219.8 175.53 L220.4 175.82 L221.0 175.08 L221.6 175.82 L222.2 175.91 L222.8 175.19 L223.4 175.21 L224.0 175.11 L224.6 175.12 L225.2 176.72 L225.8 174.22 L226.4 175.93 L227.0 175.72 L227.6 175.77 L228.2 176.40 L228.8 177.26 L229.4 176.50 L230.0 176.39 L230.6 176.08 L231.2 176.52 L231.8 177.39 L232.4 176.44 L233.0 176.02 L233.6 176.11 L234.2 176.42 L234.8 176.39 L235.4 178.45 L236.0 178.07 L236.6 177.80 L237.2 179.24 L237.8 177.86 L238.4 179.07 L239.0 179.28 L239.6 177.77 L240.2 177.95 L240.8 178.58 L241.4 180.06 L242.0 180.51 L242.6 178.93 L243.2 180.68 L243.8 179.88 L244.4 180.05 L245.0 180.13 L245.6 180.48 L246.2 179.68 L246.8 180.42 L247.4 180.47 L248.0 181.78 L248.6 182.98 L249.2 183.57 L249.8 181.83 L250.4 181.17 L251.0 182.17 L251.6 182.05 L252.2 183.99 L252.8 183.33 L253.4 182.76 L254.0 183.92 L254.6 183.87 L255.2 182.86 L255.8 183.66 L256.4 184.02 L257.0 184.35 L257.6 184.58 L258.2 184.39 L258.8 184.73 L259.4 184.39 L260.0 184.29 L260.6 185.58 L261.2 185.05 L261.8 185.15 L262.4 184.20 L263.0 184.97 L263.6 185.51 L264.2 184.55 L264.8 185.76 L265.4 185.10 L266.0 185.54 L266.6 185.35 L267.2 185.57 L267.8 186.08 L268.4 185.41 L269.0 186.35 L269.6 185.36 L270.2 185.35 L270.8 186.10 L271.4 185.35 L272.0 185.68 L272.6 186.26 L273.2 186.41 L273.8 185.16 L274.4 186.16 L275.0 186.50 L275.6 186.50 L276.2 185.92 L276.8 185.80 L277.4 185.95 L278.0 185.63 L278.6 186.02 L279.2 186.08 L279.8 186.12 L280.4 186.21 L281.0 186.24 L281.6 186.26 L282.2 186.29 L282.8 186.31 L283.4 186.34 L284.0 186.37 L284.6 186.39 L285.2 186.42 L285.8 186.45 L286.4 186.47 L287.0 186.50" fill="none" stroke="#111" stroke-width="0.9" stroke-linejoin="round"/>
<line x1="68.0" y1="134.5" x2="68.0" y2="187.7" stroke="#151515" stroke-width="1.4"/><line x1="65.8" y1="186.50" x2="68.0" y2="186.50" stroke="#222" stroke-width="0.7"/><line x1="66.4" y1="184.42" x2="68.0" y2="184.42" stroke="#222" stroke-width="0.7"/><line x1="66.4" y1="182.34" x2="68.0" y2="182.34" stroke="#222" stroke-width="0.7"/><line x1="66.4" y1="180.26" x2="68.0" y2="180.26" stroke="#222" stroke-width="0.7"/><line x1="66.4" y1="178.18" x2="68.0" y2="178.18" stroke="#222" stroke-width="0.7"/><line x1="65.8" y1="176.10" x2="68.0" y2="176.10" stroke="#222" stroke-width="0.7"/><line x1="66.4" y1="174.02" x2="68.0" y2="174.02" stroke="#222" stroke-width="0.7"/><line x1="66.4" y1="171.94" x2="68.0" y2="171.94" stroke="#222" stroke-width="0.7"/><line x1="66.4" y1="169.86" x2="68.0" y2="169.86" stroke="#222" stroke-width="0.7"/><line x1="66.4" y1="167.78" x2="68.0" y2="167.78" stroke="#222" stroke-width="0.7"/><line x1="65.8" y1="165.70" x2="68.0" y2="165.70" stroke="#222" stroke-width="0.7"/><line x1="66.4" y1="163.62" x2="68.0" y2="163.62" stroke="#222" stroke-width="0.7"/><line x1="66.4" y1="161.54" x2="68.0" y2="161.54" stroke="#222" stroke-width="0.7"/><line x1="66.4" y1="159.46" x2="68.0" y2="159.46" stroke="#222" stroke-width="0.7"/><line x1="66.4" y1="157.38" x2="68.0" y2="157.38" stroke="#222" stroke-width="0.7"/><line x1="65.8" y1="155.30" x2="68.0" y2="155.30" stroke="#222" stroke-width="0.7"/><line x1="66.4" y1="153.22" x2="68.0" y2="153.22" stroke="#222" stroke-width="0.7"/><line x1="66.4" y1="151.14" x2="68.0" y2="151.14" stroke="#222" stroke-width="0.7"/><line x1="66.4" y1="149.06" x2="68.0" y2="149.06" stroke="#222" stroke-width="0.7"/><line x1="66.4" y1="146.98" x2="68.0" y2="146.98" stroke="#222" stroke-width="0.7"/><line x1="65.8" y1="144.90" x2="68.0" y2="144.90" stroke="#222" stroke-width="0.7"/><line x1="66.4" y1="142.82" x2="68.0" y2="142.82" stroke="#222" stroke-width="0.7"/><line x1="66.4" y1="140.74" x2="68.0" y2="140.74" stroke="#222" stroke-width="0.7"/><line x1="66.4" y1="138.66" x2="68.0" y2="138.66" stroke="#222" stroke-width="0.7"/><line x1="66.4" y1="136.58" x2="68.0" y2="136.58" stroke="#222" stroke-width="0.7"/><line x1="65.8" y1="134.50" x2="68.0" y2="134.50" stroke="#222" stroke-width="0.7"/>
<line x1="67.5" y1="186.7" x2="287.5" y2="186.7" stroke="#222" stroke-width="0.9"/><line x1="68.00" y1="186.5" x2="68.00" y2="188.9" stroke="#222" stroke-width="0.5"/><line x1="84.48" y1="186.5" x2="84.48" y2="187.8" stroke="#222" stroke-width="0.5"/><line x1="94.12" y1="186.5" x2="94.12" y2="187.8" stroke="#222" stroke-width="0.5"/><line x1="100.96" y1="186.5" x2="100.96" y2="187.8" stroke="#222" stroke-width="0.5"/><line x1="106.27" y1="186.5" x2="106.27" y2="187.8" stroke="#222" stroke-width="0.5"/><line x1="110.60" y1="186.5" x2="110.60" y2="187.8" stroke="#222" stroke-width="0.5"/><line x1="114.27" y1="186.5" x2="114.27" y2="187.8" stroke="#222" stroke-width="0.5"/><line x1="117.44" y1="186.5" x2="117.44" y2="187.8" stroke="#222" stroke-width="0.5"/><line x1="120.24" y1="186.5" x2="120.24" y2="187.8" stroke="#222" stroke-width="0.5"/><line x1="122.75" y1="186.5" x2="122.75" y2="188.9" stroke="#222" stroke-width="0.5"/><line x1="139.23" y1="186.5" x2="139.23" y2="187.8" stroke="#222" stroke-width="0.5"/><line x1="148.87" y1="186.5" x2="148.87" y2="187.8" stroke="#222" stroke-width="0.5"/><line x1="155.71" y1="186.5" x2="155.71" y2="187.8" stroke="#222" stroke-width="0.5"/><line x1="161.02" y1="186.5" x2="161.02" y2="187.8" stroke="#222" stroke-width="0.5"/><line x1="165.35" y1="186.5" x2="165.35" y2="187.8" stroke="#222" stroke-width="0.5"/><line x1="169.02" y1="186.5" x2="169.02" y2="187.8" stroke="#222" stroke-width="0.5"/><line x1="172.19" y1="186.5" x2="172.19" y2="187.8" stroke="#222" stroke-width="0.5"/><line x1="174.99" y1="186.5" x2="174.99" y2="187.8" stroke="#222" stroke-width="0.5"/><line x1="177.50" y1="186.5" x2="177.50" y2="188.9" stroke="#222" stroke-width="0.5"/><line x1="193.98" y1="186.5" x2="193.98" y2="187.8" stroke="#222" stroke-width="0.5"/><line x1="203.62" y1="186.5" x2="203.62" y2="187.8" stroke="#222" stroke-width="0.5"/><line x1="210.46" y1="186.5" x2="210.46" y2="187.8" stroke="#222" stroke-width="0.5"/><line x1="215.77" y1="186.5" x2="215.77" y2="187.8" stroke="#222" stroke-width="0.5"/><line x1="220.10" y1="186.5" x2="220.10" y2="187.8" stroke="#222" stroke-width="0.5"/><line x1="223.77" y1="186.5" x2="223.77" y2="187.8" stroke="#222" stroke-width="0.5"/><line x1="226.94" y1="186.5" x2="226.94" y2="187.8" stroke="#222" stroke-width="0.5"/><line x1="229.74" y1="186.5" x2="229.74" y2="187.8" stroke="#222" stroke-width="0.5"/><line x1="232.25" y1="186.5" x2="232.25" y2="188.9" stroke="#222" stroke-width="0.5"/><line x1="248.73" y1="186.5" x2="248.73" y2="187.8" stroke="#222" stroke-width="0.5"/><line x1="258.37" y1="186.5" x2="258.37" y2="187.8" stroke="#222" stroke-width="0.5"/><line x1="265.21" y1="186.5" x2="265.21" y2="187.8" stroke="#222" stroke-width="0.5"/><line x1="270.52" y1="186.5" x2="270.52" y2="187.8" stroke="#222" stroke-width="0.5"/><line x1="274.85" y1="186.5" x2="274.85" y2="187.8" stroke="#222" stroke-width="0.5"/><line x1="278.52" y1="186.5" x2="278.52" y2="187.8" stroke="#222" stroke-width="0.5"/><line x1="281.69" y1="186.5" x2="281.69" y2="187.8" stroke="#222" stroke-width="0.5"/><line x1="284.49" y1="186.5" x2="284.49" y2="187.8" stroke="#222" stroke-width="0.5"/><line x1="287.00" y1="186.5" x2="287.00" y2="188.9" stroke="#222" stroke-width="0.5"/><text class="sn" transform="translate(67.6,196.8) scale(0.82,1)" font-size="6.4" text-anchor="middle" fill="#222">10<tspan dy="-3.3" font-size="5.1">0</tspan></text><text class="sn" transform="translate(122.3,196.8) scale(0.82,1)" font-size="6.4" text-anchor="middle" fill="#222">10<tspan dy="-3.3" font-size="5.1">1</tspan></text><text class="sn" transform="translate(177.1,196.8) scale(0.82,1)" font-size="6.4" text-anchor="middle" fill="#222">10<tspan dy="-3.3" font-size="5.1">2</tspan></text><text class="sn" transform="translate(231.8,196.8) scale(0.82,1)" font-size="6.4" text-anchor="middle" fill="#222">10<tspan dy="-3.3" font-size="5.1">3</tspan></text><text class="sn" transform="translate(286.6,196.8) scale(0.82,1)" font-size="6.4" text-anchor="middle" fill="#222">10<tspan dy="-3.3" font-size="5.1">4</tspan></text>
<line x1="128.5" y1="145.5" x2="286.5" y2="145.5" stroke="#505050" stroke-width="1"/><line x1="128.5" y1="140.2" x2="128.5" y2="149.8" stroke="#222" stroke-width="1"/><line x1="286.5" y1="134.5" x2="286.5" y2="186.5" stroke="#222" stroke-width="1"/><text x="210.5" y="143.2" class="sf pc" font-size="19.4" text-anchor="middle" fill="#000">42.1%</text>
<path d="M68.0 262.0 L68.0 237.28 L68.6 238.90 L69.2 238.29 L69.8 238.00 L70.4 239.39 L71.0 238.38 L71.6 237.94 L72.2 239.99 L72.8 237.54 L73.4 236.66 L74.0 236.45 L74.6 237.24 L75.2 238.38 L75.8 238.50 L76.4 238.71 L77.0 239.36 L77.6 239.14 L78.2 237.96 L78.8 238.59 L79.4 237.81 L80.0 236.45 L80.6 237.58 L81.2 236.44 L81.8 235.82 L82.4 237.85 L83.0 236.21 L83.6 234.52 L84.2 234.62 L84.8 236.93 L85.4 233.76 L86.0 234.51 L86.6 234.05 L87.2 233.60 L87.8 233.35 L88.4 231.82 L89.0 231.50 L89.6 231.50 L90.2 230.94 L90.8 231.94 L91.4 232.45 L92.0 229.32 L92.6 230.75 L93.2 229.28 L93.8 229.92 L94.4 230.74 L95.0 231.44 L95.6 231.11 L96.2 228.96 L96.8 233.78 L97.4 232.21 L98.0 232.10 L98.6 233.87 L99.2 232.75 L99.8 232.13 L100.4 234.95 L101.0 235.76 L101.6 235.32 L102.2 238.00 L102.8 238.40 L103.4 237.74 L104.0 241.59 L104.6 240.97 L105.2 240.48 L105.8 242.94 L106.4 243.52 L107.0 245.22 L107.6 243.86 L108.2 246.48 L108.8 246.78 L109.4 246.95 L110.0 247.26 L110.6 248.29 L111.2 248.15 L111.8 248.03 L112.4 247.59 L113.0 249.67 L113.6 249.95 L114.2 249.76 L114.8 250.04 L115.4 250.74 L116.0 248.21 L116.6 250.71 L117.2 248.54 L117.8 250.94 L118.4 251.75 L119.0 252.58 L119.6 250.81 L120.2 251.69 L120.8 251.43 L121.4 249.87 L122.0 252.37 L122.6 251.93 L123.2 252.14 L123.8 251.50 L124.4 252.36 L125.0 252.60 L125.6 253.41 L126.2 252.53 L126.8 254.92 L127.4 251.74 L128.0 251.73 L128.6 251.78 L129.2 251.05 L129.8 252.79 L130.4 251.98 L131.0 250.31 L131.6 251.31 L132.2 252.03 L132.8 249.83 L133.4 250.98 L134.0 250.54 L134.6 252.53 L135.2 250.84 L135.8 250.04 L136.4 249.79 L137.0 251.71 L137.6 249.63 L138.2 251.81 L138.8 248.47 L139.4 249.50 L140.0 249.34 L140.6 248.67 L141.2 248.81 L141.8 249.31 L142.4 247.86 L143.0 246.91 L143.6 249.07 L144.2 248.91 L144.8 246.72 L145.4 247.33 L146.0 244.47 L146.6 247.45 L147.2 245.02 L147.8 245.45 L148.4 247.67 L149.0 244.24 L149.6 245.15 L150.2 243.85 L150.8 242.84 L151.4 243.20 L152.0 244.28 L152.6 242.49 L153.2 242.84 L153.8 243.77 L154.4 242.58 L155.0 241.13 L155.6 243.54 L156.2 241.86 L156.8 242.80 L157.4 240.03 L158.0 242.43 L158.6 239.05 L159.2 238.30 L159.8 239.31 L160.4 239.03 L161.0 239.35 L161.6 238.16 L162.2 239.07 L162.8 239.47 L163.4 237.06 L164.0 236.27 L164.6 237.71 L165.2 239.39 L165.8 239.79 L166.4 239.01 L167.0 238.77 L167.6 240.17 L168.2 241.57 L168.8 240.29 L169.4 242.71 L170.0 242.05 L170.6 242.52 L171.2 242.04 L171.8 244.38 L172.4 243.52 L173.0 242.66 L173.6 245.46 L174.2 244.94 L174.8 246.94 L175.4 246.74 L176.0 246.66 L176.6 247.99 L177.2 248.05 L177.8 248.27 L178.4 249.37 L179.0 250.44 L179.6 250.18 L180.2 250.43 L180.8 250.42 L181.4 251.72 L182.0 251.85 L182.6 252.77 L183.2 252.68 L183.8 254.41 L184.4 251.96 L185.0 253.49 L185.6 254.14 L186.2 254.62 L186.8 253.04 L187.4 253.48 L188.0 254.55 L188.6 255.55 L189.2 255.78 L189.8 254.14 L190.4 255.51 L191.0 256.44 L191.6 255.86 L192.2 255.35 L192.8 255.77 L193.4 255.58 L194.0 257.47 L194.6 256.72 L195.2 256.79 L195.8 256.61 L196.4 257.19 L197.0 256.81 L197.6 256.88 L198.2 257.58 L198.8 257.57 L199.4 258.10 L200.0 258.02 L200.6 258.76 L201.2 258.11 L201.8 258.41 L202.4 258.49 L203.0 257.98 L203.6 259.28 L204.2 258.35 L204.8 257.86 L205.4 259.62 L206.0 259.38 L206.6 258.79 L207.2 259.76 L207.8 259.83 L208.4 259.72 L209.0 258.71 L209.6 259.50 L210.2 258.86 L210.8 259.13 L211.4 259.20 L212.0 259.08 L212.6 259.85 L213.2 259.18 L213.8 259.99 L214.4 259.78 L215.0 259.39 L215.6 259.85 L216.2 260.16 L216.8 260.44 L217.4 259.73 L218.0 260.83 L218.6 260.24 L219.2 260.63 L219.8 259.30 L220.4 259.49 L221.0 260.72 L221.6 260.00 L222.2 260.39 L222.8 260.81 L223.4 259.48 L224.0 260.49 L224.6 261.29 L225.2 260.74 L225.8 260.41 L226.4 260.69 L227.0 260.44 L227.6 260.86 L228.2 261.16 L228.8 260.44 L229.4 260.87 L230.0 260.77 L230.6 261.02 L231.2 261.10 L231.8 260.21 L232.4 261.33 L233.0 261.20 L233.6 260.28 L234.2 260.69 L234.8 260.15 L235.4 260.73 L236.0 261.04 L236.6 260.36 L237.2 260.56 L237.8 260.53 L238.4 260.64 L239.0 260.62 L239.6 260.51 L240.2 261.29 L240.8 260.95 L241.4 260.69 L242.0 261.54 L242.6 260.85 L243.2 261.53 L243.8 260.58 L244.4 261.80 L245.0 260.98 L245.6 260.78 L246.2 261.41 L246.8 260.65 L247.4 260.78 L248.0 261.39 L248.6 261.09 L249.2 261.50 L249.8 261.41 L250.4 261.47 L251.0 261.44 L251.6 261.71 L252.2 261.42 L252.8 261.92 L253.4 261.87 L254.0 260.65 L254.6 260.76 L255.2 262.00 L255.8 261.36 L256.4 261.64 L257.0 261.54 L257.6 261.72 L258.2 262.00 L258.8 261.35 L259.4 261.69 L260.0 261.68 L260.6 261.27 L261.2 261.71 L261.8 261.73 L262.4 261.75 L263.0 261.77 L263.6 261.79 L264.2 261.81 L264.8 261.83 L265.4 261.85 L266.0 261.87 L266.6 261.89 L267.2 261.91 L267.8 261.93 L268.4 261.95 L269.0 261.97 L269.6 261.99 L270.2 262.00 L270.8 262.00 L271.4 262.00 L272.0 262.00 L272.6 262.00 L273.2 262.00 L273.8 262.00 L274.4 262.00 L275.0 262.00 L275.6 262.00 L276.2 262.00 L276.8 262.00 L277.4 262.00 L278.0 262.00 L278.6 262.00 L279.2 262.00 L279.8 262.00 L280.4 262.00 L281.0 262.00 L281.6 262.00 L282.2 262.00 L282.8 262.00 L283.4 262.00 L284.0 262.00 L284.6 262.00 L285.2 262.00 L285.8 262.00 L286.4 262.00 L287.0 262.00 L287.0 262.0 Z" fill="#9a9a9a" stroke="none"/><path d="M68.0 237.28 L68.6 238.90 L69.2 238.29 L69.8 238.00 L70.4 239.39 L71.0 238.38 L71.6 237.94 L72.2 239.99 L72.8 237.54 L73.4 236.66 L74.0 236.45 L74.6 237.24 L75.2 238.38 L75.8 238.50 L76.4 238.71 L77.0 239.36 L77.6 239.14 L78.2 237.96 L78.8 238.59 L79.4 237.81 L80.0 236.45 L80.6 237.58 L81.2 236.44 L81.8 235.82 L82.4 237.85 L83.0 236.21 L83.6 234.52 L84.2 234.62 L84.8 236.93 L85.4 233.76 L86.0 234.51 L86.6 234.05 L87.2 233.60 L87.8 233.35 L88.4 231.82 L89.0 231.50 L89.6 231.50 L90.2 230.94 L90.8 231.94 L91.4 232.45 L92.0 229.32 L92.6 230.75 L93.2 229.28 L93.8 229.92 L94.4 230.74 L95.0 231.44 L95.6 231.11 L96.2 228.96 L96.8 233.78 L97.4 232.21 L98.0 232.10 L98.6 233.87 L99.2 232.75 L99.8 232.13 L100.4 234.95 L101.0 235.76 L101.6 235.32 L102.2 238.00 L102.8 238.40 L103.4 237.74 L104.0 241.59 L104.6 240.97 L105.2 240.48 L105.8 242.94 L106.4 243.52 L107.0 245.22 L107.6 243.86 L108.2 246.48 L108.8 246.78 L109.4 246.95 L110.0 247.26 L110.6 248.29 L111.2 248.15 L111.8 248.03 L112.4 247.59 L113.0 249.67 L113.6 249.95 L114.2 249.76 L114.8 250.04 L115.4 250.74 L116.0 248.21 L116.6 250.71 L117.2 248.54 L117.8 250.94 L118.4 251.75 L119.0 252.58 L119.6 250.81 L120.2 251.69 L120.8 251.43 L121.4 249.87 L122.0 252.37 L122.6 251.93 L123.2 252.14 L123.8 251.50 L124.4 252.36 L125.0 252.60 L125.6 253.41 L126.2 252.53 L126.8 254.92 L127.4 251.74 L128.0 251.73 L128.6 251.78 L129.2 251.05 L129.8 252.79 L130.4 251.98 L131.0 250.31 L131.6 251.31 L132.2 252.03 L132.8 249.83 L133.4 250.98 L134.0 250.54 L134.6 252.53 L135.2 250.84 L135.8 250.04 L136.4 249.79 L137.0 251.71 L137.6 249.63 L138.2 251.81 L138.8 248.47 L139.4 249.50 L140.0 249.34 L140.6 248.67 L141.2 248.81 L141.8 249.31 L142.4 247.86 L143.0 246.91 L143.6 249.07 L144.2 248.91 L144.8 246.72 L145.4 247.33 L146.0 244.47 L146.6 247.45 L147.2 245.02 L147.8 245.45 L148.4 247.67 L149.0 244.24 L149.6 245.15 L150.2 243.85 L150.8 242.84 L151.4 243.20 L152.0 244.28 L152.6 242.49 L153.2 242.84 L153.8 243.77 L154.4 242.58 L155.0 241.13 L155.6 243.54 L156.2 241.86 L156.8 242.80 L157.4 240.03 L158.0 242.43 L158.6 239.05 L159.2 238.30 L159.8 239.31 L160.4 239.03 L161.0 239.35 L161.6 238.16 L162.2 239.07 L162.8 239.47 L163.4 237.06 L164.0 236.27 L164.6 237.71 L165.2 239.39 L165.8 239.79 L166.4 239.01 L167.0 238.77 L167.6 240.17 L168.2 241.57 L168.8 240.29 L169.4 242.71 L170.0 242.05 L170.6 242.52 L171.2 242.04 L171.8 244.38 L172.4 243.52 L173.0 242.66 L173.6 245.46 L174.2 244.94 L174.8 246.94 L175.4 246.74 L176.0 246.66 L176.6 247.99 L177.2 248.05 L177.8 248.27 L178.4 249.37 L179.0 250.44 L179.6 250.18 L180.2 250.43 L180.8 250.42 L181.4 251.72 L182.0 251.85 L182.6 252.77 L183.2 252.68 L183.8 254.41 L184.4 251.96 L185.0 253.49 L185.6 254.14 L186.2 254.62 L186.8 253.04 L187.4 253.48 L188.0 254.55 L188.6 255.55 L189.2 255.78 L189.8 254.14 L190.4 255.51 L191.0 256.44 L191.6 255.86 L192.2 255.35 L192.8 255.77 L193.4 255.58 L194.0 257.47 L194.6 256.72 L195.2 256.79 L195.8 256.61 L196.4 257.19 L197.0 256.81 L197.6 256.88 L198.2 257.58 L198.8 257.57 L199.4 258.10 L200.0 258.02 L200.6 258.76 L201.2 258.11 L201.8 258.41 L202.4 258.49 L203.0 257.98 L203.6 259.28 L204.2 258.35 L204.8 257.86 L205.4 259.62 L206.0 259.38 L206.6 258.79 L207.2 259.76 L207.8 259.83 L208.4 259.72 L209.0 258.71 L209.6 259.50 L210.2 258.86 L210.8 259.13 L211.4 259.20 L212.0 259.08 L212.6 259.85 L213.2 259.18 L213.8 259.99 L214.4 259.78 L215.0 259.39 L215.6 259.85 L216.2 260.16 L216.8 260.44 L217.4 259.73 L218.0 260.83 L218.6 260.24 L219.2 260.63 L219.8 259.30 L220.4 259.49 L221.0 260.72 L221.6 260.00 L222.2 260.39 L222.8 260.81 L223.4 259.48 L224.0 260.49 L224.6 261.29 L225.2 260.74 L225.8 260.41 L226.4 260.69 L227.0 260.44 L227.6 260.86 L228.2 261.16 L228.8 260.44 L229.4 260.87 L230.0 260.77 L230.6 261.02 L231.2 261.10 L231.8 260.21 L232.4 261.33 L233.0 261.20 L233.6 260.28 L234.2 260.69 L234.8 260.15 L235.4 260.73 L236.0 261.04 L236.6 260.36 L237.2 260.56 L237.8 260.53 L238.4 260.64 L239.0 260.62 L239.6 260.51 L240.2 261.29 L240.8 260.95 L241.4 260.69 L242.0 261.54 L242.6 260.85 L243.2 261.53 L243.8 260.58 L244.4 261.80 L245.0 260.98 L245.6 260.78 L246.2 261.41 L246.8 260.65 L247.4 260.78 L248.0 261.39 L248.6 261.09 L249.2 261.50 L249.8 261.41 L250.4 261.47 L251.0 261.44 L251.6 261.71 L252.2 261.42 L252.8 261.92 L253.4 261.87 L254.0 260.65 L254.6 260.76 L255.2 262.00 L255.8 261.36 L256.4 261.64 L257.0 261.54 L257.6 261.72 L258.2 262.00 L258.8 261.35 L259.4 261.69 L260.0 261.68 L260.6 261.27 L261.2 261.71 L261.8 261.73 L262.4 261.75 L263.0 261.77 L263.6 261.79 L264.2 261.81 L264.8 261.83 L265.4 261.85 L266.0 261.87 L266.6 261.89 L267.2 261.91 L267.8 261.93 L268.4 261.95 L269.0 261.97 L269.6 261.99 L270.2 262.00 L270.8 262.00 L271.4 262.00 L272.0 262.00 L272.6 262.00 L273.2 262.00 L273.8 262.00 L274.4 262.00 L275.0 262.00 L275.6 262.00 L276.2 262.00 L276.8 262.00 L277.4 262.00 L278.0 262.00 L278.6 262.00 L279.2 262.00 L279.8 262.00 L280.4 262.00 L281.0 262.00 L281.6 262.00 L282.2 262.00 L282.8 262.00 L283.4 262.00 L284.0 262.00 L284.6 262.00 L285.2 262.00 L285.8 262.00 L286.4 262.00 L287.0 262.00" fill="none" stroke="#111" stroke-width="0.9" stroke-linejoin="round"/>
<line x1="68.0" y1="211.0" x2="68.0" y2="263.2" stroke="#151515" stroke-width="1.6"/><line x1="65.8" y1="262.00" x2="68.0" y2="262.00" stroke="#222" stroke-width="0.7"/><line x1="66.4" y1="259.96" x2="68.0" y2="259.96" stroke="#222" stroke-width="0.7"/><line x1="66.4" y1="257.92" x2="68.0" y2="257.92" stroke="#222" stroke-width="0.7"/><line x1="66.4" y1="255.88" x2="68.0" y2="255.88" stroke="#222" stroke-width="0.7"/><line x1="66.4" y1="253.84" x2="68.0" y2="253.84" stroke="#222" stroke-width="0.7"/><line x1="65.8" y1="251.80" x2="68.0" y2="251.80" stroke="#222" stroke-width="0.7"/><line x1="66.4" y1="249.76" x2="68.0" y2="249.76" stroke="#222" stroke-width="0.7"/><line x1="66.4" y1="247.72" x2="68.0" y2="247.72" stroke="#222" stroke-width="0.7"/><line x1="66.4" y1="245.68" x2="68.0" y2="245.68" stroke="#222" stroke-width="0.7"/><line x1="66.4" y1="243.64" x2="68.0" y2="243.64" stroke="#222" stroke-width="0.7"/><line x1="65.8" y1="241.60" x2="68.0" y2="241.60" stroke="#222" stroke-width="0.7"/><line x1="66.4" y1="239.56" x2="68.0" y2="239.56" stroke="#222" stroke-width="0.7"/><line x1="66.4" y1="237.52" x2="68.0" y2="237.52" stroke="#222" stroke-width="0.7"/><line x1="66.4" y1="235.48" x2="68.0" y2="235.48" stroke="#222" stroke-width="0.7"/><line x1="66.4" y1="233.44" x2="68.0" y2="233.44" stroke="#222" stroke-width="0.7"/><line x1="65.8" y1="231.40" x2="68.0" y2="231.40" stroke="#222" stroke-width="0.7"/><line x1="66.4" y1="229.36" x2="68.0" y2="229.36" stroke="#222" stroke-width="0.7"/><line x1="66.4" y1="227.32" x2="68.0" y2="227.32" stroke="#222" stroke-width="0.7"/><line x1="66.4" y1="225.28" x2="68.0" y2="225.28" stroke="#222" stroke-width="0.7"/><line x1="66.4" y1="223.24" x2="68.0" y2="223.24" stroke="#222" stroke-width="0.7"/><line x1="65.8" y1="221.20" x2="68.0" y2="221.20" stroke="#222" stroke-width="0.7"/><line x1="66.4" y1="219.16" x2="68.0" y2="219.16" stroke="#222" stroke-width="0.7"/><line x1="66.4" y1="217.12" x2="68.0" y2="217.12" stroke="#222" stroke-width="0.7"/><line x1="66.4" y1="215.08" x2="68.0" y2="215.08" stroke="#222" stroke-width="0.7"/><line x1="66.4" y1="213.04" x2="68.0" y2="213.04" stroke="#222" stroke-width="0.7"/><line x1="65.8" y1="211.00" x2="68.0" y2="211.00" stroke="#222" stroke-width="0.7"/>
<line x1="67.5" y1="262.2" x2="287.5" y2="262.2" stroke="#222" stroke-width="0.9"/><line x1="68.00" y1="262.0" x2="68.00" y2="264.4" stroke="#222" stroke-width="0.5"/><line x1="84.48" y1="262.0" x2="84.48" y2="263.3" stroke="#222" stroke-width="0.5"/><line x1="94.12" y1="262.0" x2="94.12" y2="263.3" stroke="#222" stroke-width="0.5"/><line x1="100.96" y1="262.0" x2="100.96" y2="263.3" stroke="#222" stroke-width="0.5"/><line x1="106.27" y1="262.0" x2="106.27" y2="263.3" stroke="#222" stroke-width="0.5"/><line x1="110.60" y1="262.0" x2="110.60" y2="263.3" stroke="#222" stroke-width="0.5"/><line x1="114.27" y1="262.0" x2="114.27" y2="263.3" stroke="#222" stroke-width="0.5"/><line x1="117.44" y1="262.0" x2="117.44" y2="263.3" stroke="#222" stroke-width="0.5"/><line x1="120.24" y1="262.0" x2="120.24" y2="263.3" stroke="#222" stroke-width="0.5"/><line x1="122.75" y1="262.0" x2="122.75" y2="264.4" stroke="#222" stroke-width="0.5"/><line x1="139.23" y1="262.0" x2="139.23" y2="263.3" stroke="#222" stroke-width="0.5"/><line x1="148.87" y1="262.0" x2="148.87" y2="263.3" stroke="#222" stroke-width="0.5"/><line x1="155.71" y1="262.0" x2="155.71" y2="263.3" stroke="#222" stroke-width="0.5"/><line x1="161.02" y1="262.0" x2="161.02" y2="263.3" stroke="#222" stroke-width="0.5"/><line x1="165.35" y1="262.0" x2="165.35" y2="263.3" stroke="#222" stroke-width="0.5"/><line x1="169.02" y1="262.0" x2="169.02" y2="263.3" stroke="#222" stroke-width="0.5"/><line x1="172.19" y1="262.0" x2="172.19" y2="263.3" stroke="#222" stroke-width="0.5"/><line x1="174.99" y1="262.0" x2="174.99" y2="263.3" stroke="#222" stroke-width="0.5"/><line x1="177.50" y1="262.0" x2="177.50" y2="264.4" stroke="#222" stroke-width="0.5"/><line x1="193.98" y1="262.0" x2="193.98" y2="263.3" stroke="#222" stroke-width="0.5"/><line x1="203.62" y1="262.0" x2="203.62" y2="263.3" stroke="#222" stroke-width="0.5"/><line x1="210.46" y1="262.0" x2="210.46" y2="263.3" stroke="#222" stroke-width="0.5"/><line x1="215.77" y1="262.0" x2="215.77" y2="263.3" stroke="#222" stroke-width="0.5"/><line x1="220.10" y1="262.0" x2="220.10" y2="263.3" stroke="#222" stroke-width="0.5"/><line x1="223.77" y1="262.0" x2="223.77" y2="263.3" stroke="#222" stroke-width="0.5"/><line x1="226.94" y1="262.0" x2="226.94" y2="263.3" stroke="#222" stroke-width="0.5"/><line x1="229.74" y1="262.0" x2="229.74" y2="263.3" stroke="#222" stroke-width="0.5"/><line x1="232.25" y1="262.0" x2="232.25" y2="264.4" stroke="#222" stroke-width="0.5"/><line x1="248.73" y1="262.0" x2="248.73" y2="263.3" stroke="#222" stroke-width="0.5"/><line x1="258.37" y1="262.0" x2="258.37" y2="263.3" stroke="#222" stroke-width="0.5"/><line x1="265.21" y1="262.0" x2="265.21" y2="263.3" stroke="#222" stroke-width="0.5"/><line x1="270.52" y1="262.0" x2="270.52" y2="263.3" stroke="#222" stroke-width="0.5"/><line x1="274.85" y1="262.0" x2="274.85" y2="263.3" stroke="#222" stroke-width="0.5"/><line x1="278.52" y1="262.0" x2="278.52" y2="263.3" stroke="#222" stroke-width="0.5"/><line x1="281.69" y1="262.0" x2="281.69" y2="263.3" stroke="#222" stroke-width="0.5"/><line x1="284.49" y1="262.0" x2="284.49" y2="263.3" stroke="#222" stroke-width="0.5"/><line x1="287.00" y1="262.0" x2="287.00" y2="264.4" stroke="#222" stroke-width="0.5"/><text class="sn" transform="translate(67.6,272.3) scale(0.82,1)" font-size="6.4" text-anchor="middle" fill="#222">10<tspan dy="-3.3" font-size="5.1">0</tspan></text><text class="sn" transform="translate(122.3,272.3) scale(0.82,1)" font-size="6.4" text-anchor="middle" fill="#222">10<tspan dy="-3.3" font-size="5.1">1</tspan></text><text class="sn" transform="translate(177.1,272.3) scale(0.82,1)" font-size="6.4" text-anchor="middle" fill="#222">10<tspan dy="-3.3" font-size="5.1">2</tspan></text><text class="sn" transform="translate(231.8,272.3) scale(0.82,1)" font-size="6.4" text-anchor="middle" fill="#222">10<tspan dy="-3.3" font-size="5.1">3</tspan></text><text class="sn" transform="translate(286.6,272.3) scale(0.82,1)" font-size="6.4" text-anchor="middle" fill="#222">10<tspan dy="-3.3" font-size="5.1">4</tspan></text>
<line x1="129.5" y1="222.5" x2="285.5" y2="222.5" stroke="#505050" stroke-width="1"/><line x1="129.5" y1="217.2" x2="129.5" y2="226.8" stroke="#222" stroke-width="1"/><line x1="285.5" y1="211.0" x2="285.5" y2="262.0" stroke="#222" stroke-width="1"/><text x="210.5" y="220.2" class="sf pc" font-size="19.4" text-anchor="middle" fill="#000">44.0%</text>
<path d="M68.0 332.5 L68.0 314.92 L68.6 316.16 L69.2 313.77 L69.8 312.58 L70.4 314.27 L71.0 314.38 L71.6 313.91 L72.2 313.80 L72.8 312.95 L73.4 312.24 L74.0 311.84 L74.6 312.12 L75.2 311.71 L75.8 312.75 L76.4 312.21 L77.0 310.10 L77.6 311.79 L78.2 310.82 L78.8 311.73 L79.4 311.87 L80.0 310.67 L80.6 307.84 L81.2 309.88 L81.8 307.14 L82.4 309.95 L83.0 307.17 L83.6 307.21 L84.2 308.90 L84.8 304.62 L85.4 306.10 L86.0 304.45 L86.6 304.60 L87.2 303.84 L87.8 305.02 L88.4 303.49 L89.0 303.76 L89.6 303.64 L90.2 300.59 L90.8 303.81 L91.4 301.65 L92.0 299.73 L92.6 300.57 L93.2 302.03 L93.8 301.89 L94.4 299.63 L95.0 300.25 L95.6 300.63 L96.2 301.78 L96.8 300.65 L97.4 302.16 L98.0 300.23 L98.6 300.65 L99.2 302.47 L99.8 302.76 L100.4 302.10 L101.0 303.07 L101.6 302.84 L102.2 303.70 L102.8 304.37 L103.4 303.86 L104.0 304.43 L104.6 303.29 L105.2 303.30 L105.8 301.44 L106.4 304.67 L107.0 304.40 L107.6 305.10 L108.2 302.58 L108.8 304.26 L109.4 304.33 L110.0 303.10 L110.6 306.23 L111.2 306.72 L111.8 304.13 L112.4 306.16 L113.0 307.70 L113.6 304.64 L114.2 307.19 L114.8 307.98 L115.4 308.43 L116.0 305.07 L116.6 305.54 L117.2 307.06 L117.8 308.28 L118.4 305.77 L119.0 306.47 L119.6 306.22 L120.2 308.75 L120.8 307.11 L121.4 308.47 L122.0 308.69 L122.6 309.37 L123.2 308.69 L123.8 308.72 L124.4 309.70 L125.0 309.09 L125.6 307.37 L126.2 308.24 L126.8 309.87 L127.4 309.18 L128.0 308.77 L128.6 309.51 L129.2 312.83 L129.8 309.42 L130.4 310.09 L131.0 310.17 L131.6 309.53 L132.2 311.16 L132.8 310.92 L133.4 310.56 L134.0 308.86 L134.6 311.66 L135.2 311.26 L135.8 310.50 L136.4 307.94 L137.0 310.75 L137.6 309.68 L138.2 310.80 L138.8 310.62 L139.4 310.41 L140.0 312.39 L140.6 311.58 L141.2 312.82 L141.8 310.70 L142.4 311.58 L143.0 313.25 L143.6 312.31 L144.2 311.36 L144.8 311.29 L145.4 311.70 L146.0 312.31 L146.6 313.18 L147.2 312.74 L147.8 313.45 L148.4 313.63 L149.0 313.02 L149.6 314.28 L150.2 313.84 L150.8 313.03 L151.4 313.15 L152.0 313.40 L152.6 312.80 L153.2 312.31 L153.8 313.76 L154.4 313.33 L155.0 314.50 L155.6 313.45 L156.2 314.23 L156.8 314.43 L157.4 313.89 L158.0 314.84 L158.6 314.33 L159.2 314.97 L159.8 316.49 L160.4 316.46 L161.0 316.45 L161.6 316.09 L162.2 317.81 L162.8 319.34 L163.4 315.93 L164.0 319.19 L164.6 318.80 L165.2 319.94 L165.8 320.36 L166.4 318.84 L167.0 321.58 L167.6 319.97 L168.2 320.63 L168.8 321.74 L169.4 321.52 L170.0 322.18 L170.6 321.92 L171.2 321.88 L171.8 323.10 L172.4 322.61 L173.0 324.86 L173.6 324.39 L174.2 325.63 L174.8 324.03 L175.4 323.71 L176.0 323.80 L176.6 325.40 L177.2 324.98 L177.8 326.38 L178.4 325.33 L179.0 325.61 L179.6 326.99 L180.2 326.75 L180.8 327.70 L181.4 328.01 L182.0 327.93 L182.6 327.13 L183.2 327.59 L183.8 329.80 L184.4 328.45 L185.0 328.99 L185.6 328.97 L186.2 328.95 L186.8 328.93 L187.4 328.77 L188.0 328.88 L188.6 328.06 L189.2 330.33 L189.8 329.35 L190.4 328.72 L191.0 329.86 L191.6 330.02 L192.2 328.88 L192.8 329.49 L193.4 330.71 L194.0 330.24 L194.6 330.25 L195.2 330.63 L195.8 330.03 L196.4 329.98 L197.0 331.06 L197.6 330.11 L198.2 330.21 L198.8 330.64 L199.4 330.34 L200.0 329.68 L200.6 331.42 L201.2 330.39 L201.8 331.43 L202.4 330.77 L203.0 330.05 L203.6 331.40 L204.2 330.51 L204.8 330.19 L205.4 330.66 L206.0 329.59 L206.6 330.96 L207.2 330.41 L207.8 330.68 L208.4 330.36 L209.0 331.20 L209.6 331.05 L210.2 331.43 L210.8 331.75 L211.4 331.05 L212.0 330.97 L212.6 331.10 L213.2 330.54 L213.8 330.69 L214.4 331.37 L215.0 330.57 L215.6 330.03 L216.2 330.86 L216.8 331.18 L217.4 331.81 L218.0 330.72 L218.6 330.63 L219.2 331.16 L219.8 331.05 L220.4 331.27 L221.0 330.90 L221.6 331.28 L222.2 330.90 L222.8 331.70 L223.4 331.36 L224.0 331.52 L224.6 331.04 L225.2 330.57 L225.8 331.29 L226.4 331.28 L227.0 331.86 L227.6 331.81 L228.2 331.33 L228.8 331.34 L229.4 330.90 L230.0 331.38 L230.6 331.52 L231.2 331.23 L231.8 330.93 L232.4 332.07 L233.0 331.04 L233.6 332.28 L234.2 332.07 L234.8 332.25 L235.4 331.14 L236.0 331.85 L236.6 330.92 L237.2 331.42 L237.8 330.89 L238.4 331.28 L239.0 331.40 L239.6 332.09 L240.2 332.16 L240.8 331.51 L241.4 331.57 L242.0 331.28 L242.6 331.21 L243.2 330.93 L243.8 331.66 L244.4 332.04 L245.0 331.45 L245.6 331.97 L246.2 331.30 L246.8 331.37 L247.4 331.60 L248.0 332.24 L248.6 331.62 L249.2 332.20 L249.8 331.72 L250.4 331.40 L251.0 331.01 L251.6 331.70 L252.2 331.50 L252.8 332.32 L253.4 332.13 L254.0 331.24 L254.6 332.32 L255.2 332.20 L255.8 330.73 L256.4 331.54 L257.0 332.10 L257.6 331.33 L258.2 331.71 L258.8 332.25 L259.4 332.15 L260.0 332.24 L260.6 332.32 L261.2 331.70 L261.8 332.50 L262.4 332.31 L263.0 332.50 L263.6 332.01 L264.2 332.36 L264.8 332.28 L265.4 332.09 L266.0 332.29 L266.6 332.27 L267.2 332.50 L267.8 332.32 L268.4 332.22 L269.0 332.41 L269.6 332.50 L270.2 332.26 L270.8 332.21 L271.4 332.22 L272.0 332.23 L272.6 332.24 L273.2 332.25 L273.8 332.26 L274.4 332.27 L275.0 332.29 L275.6 332.30 L276.2 332.31 L276.8 332.32 L277.4 332.33 L278.0 332.34 L278.6 332.35 L279.2 332.36 L279.8 332.37 L280.4 332.38 L281.0 332.39 L281.6 332.40 L282.2 332.41 L282.8 332.43 L283.4 332.44 L284.0 332.45 L284.6 332.46 L285.2 332.47 L285.8 332.48 L286.4 332.49 L287.0 332.50 L287.0 332.5 Z" fill="#9a9a9a" stroke="none"/><path d="M68.0 314.92 L68.6 316.16 L69.2 313.77 L69.8 312.58 L70.4 314.27 L71.0 314.38 L71.6 313.91 L72.2 313.80 L72.8 312.95 L73.4 312.24 L74.0 311.84 L74.6 312.12 L75.2 311.71 L75.8 312.75 L76.4 312.21 L77.0 310.10 L77.6 311.79 L78.2 310.82 L78.8 311.73 L79.4 311.87 L80.0 310.67 L80.6 307.84 L81.2 309.88 L81.8 307.14 L82.4 309.95 L83.0 307.17 L83.6 307.21 L84.2 308.90 L84.8 304.62 L85.4 306.10 L86.0 304.45 L86.6 304.60 L87.2 303.84 L87.8 305.02 L88.4 303.49 L89.0 303.76 L89.6 303.64 L90.2 300.59 L90.8 303.81 L91.4 301.65 L92.0 299.73 L92.6 300.57 L93.2 302.03 L93.8 301.89 L94.4 299.63 L95.0 300.25 L95.6 300.63 L96.2 301.78 L96.8 300.65 L97.4 302.16 L98.0 300.23 L98.6 300.65 L99.2 302.47 L99.8 302.76 L100.4 302.10 L101.0 303.07 L101.6 302.84 L102.2 303.70 L102.8 304.37 L103.4 303.86 L104.0 304.43 L104.6 303.29 L105.2 303.30 L105.8 301.44 L106.4 304.67 L107.0 304.40 L107.6 305.10 L108.2 302.58 L108.8 304.26 L109.4 304.33 L110.0 303.10 L110.6 306.23 L111.2 306.72 L111.8 304.13 L112.4 306.16 L113.0 307.70 L113.6 304.64 L114.2 307.19 L114.8 307.98 L115.4 308.43 L116.0 305.07 L116.6 305.54 L117.2 307.06 L117.8 308.28 L118.4 305.77 L119.0 306.47 L119.6 306.22 L120.2 308.75 L120.8 307.11 L121.4 308.47 L122.0 308.69 L122.6 309.37 L123.2 308.69 L123.8 308.72 L124.4 309.70 L125.0 309.09 L125.6 307.37 L126.2 308.24 L126.8 309.87 L127.4 309.18 L128.0 308.77 L128.6 309.51 L129.2 312.83 L129.8 309.42 L130.4 310.09 L131.0 310.17 L131.6 309.53 L132.2 311.16 L132.8 310.92 L133.4 310.56 L134.0 308.86 L134.6 311.66 L135.2 311.26 L135.8 310.50 L136.4 307.94 L137.0 310.75 L137.6 309.68 L138.2 310.80 L138.8 310.62 L139.4 310.41 L140.0 312.39 L140.6 311.58 L141.2 312.82 L141.8 310.70 L142.4 311.58 L143.0 313.25 L143.6 312.31 L144.2 311.36 L144.8 311.29 L145.4 311.70 L146.0 312.31 L146.6 313.18 L147.2 312.74 L147.8 313.45 L148.4 313.63 L149.0 313.02 L149.6 314.28 L150.2 313.84 L150.8 313.03 L151.4 313.15 L152.0 313.40 L152.6 312.80 L153.2 312.31 L153.8 313.76 L154.4 313.33 L155.0 314.50 L155.6 313.45 L156.2 314.23 L156.8 314.43 L157.4 313.89 L158.0 314.84 L158.6 314.33 L159.2 314.97 L159.8 316.49 L160.4 316.46 L161.0 316.45 L161.6 316.09 L162.2 317.81 L162.8 319.34 L163.4 315.93 L164.0 319.19 L164.6 318.80 L165.2 319.94 L165.8 320.36 L166.4 318.84 L167.0 321.58 L167.6 319.97 L168.2 320.63 L168.8 321.74 L169.4 321.52 L170.0 322.18 L170.6 321.92 L171.2 321.88 L171.8 323.10 L172.4 322.61 L173.0 324.86 L173.6 324.39 L174.2 325.63 L174.8 324.03 L175.4 323.71 L176.0 323.80 L176.6 325.40 L177.2 324.98 L177.8 326.38 L178.4 325.33 L179.0 325.61 L179.6 326.99 L180.2 326.75 L180.8 327.70 L181.4 328.01 L182.0 327.93 L182.6 327.13 L183.2 327.59 L183.8 329.80 L184.4 328.45 L185.0 328.99 L185.6 328.97 L186.2 328.95 L186.8 328.93 L187.4 328.77 L188.0 328.88 L188.6 328.06 L189.2 330.33 L189.8 329.35 L190.4 328.72 L191.0 329.86 L191.6 330.02 L192.2 328.88 L192.8 329.49 L193.4 330.71 L194.0 330.24 L194.6 330.25 L195.2 330.63 L195.8 330.03 L196.4 329.98 L197.0 331.06 L197.6 330.11 L198.2 330.21 L198.8 330.64 L199.4 330.34 L200.0 329.68 L200.6 331.42 L201.2 330.39 L201.8 331.43 L202.4 330.77 L203.0 330.05 L203.6 331.40 L204.2 330.51 L204.8 330.19 L205.4 330.66 L206.0 329.59 L206.6 330.96 L207.2 330.41 L207.8 330.68 L208.4 330.36 L209.0 331.20 L209.6 331.05 L210.2 331.43 L210.8 331.75 L211.4 331.05 L212.0 330.97 L212.6 331.10 L213.2 330.54 L213.8 330.69 L214.4 331.37 L215.0 330.57 L215.6 330.03 L216.2 330.86 L216.8 331.18 L217.4 331.81 L218.0 330.72 L218.6 330.63 L219.2 331.16 L219.8 331.05 L220.4 331.27 L221.0 330.90 L221.6 331.28 L222.2 330.90 L222.8 331.70 L223.4 331.36 L224.0 331.52 L224.6 331.04 L225.2 330.57 L225.8 331.29 L226.4 331.28 L227.0 331.86 L227.6 331.81 L228.2 331.33 L228.8 331.34 L229.4 330.90 L230.0 331.38 L230.6 331.52 L231.2 331.23 L231.8 330.93 L232.4 332.07 L233.0 331.04 L233.6 332.28 L234.2 332.07 L234.8 332.25 L235.4 331.14 L236.0 331.85 L236.6 330.92 L237.2 331.42 L237.8 330.89 L238.4 331.28 L239.0 331.40 L239.6 332.09 L240.2 332.16 L240.8 331.51 L241.4 331.57 L242.0 331.28 L242.6 331.21 L243.2 330.93 L243.8 331.66 L244.4 332.04 L245.0 331.45 L245.6 331.97 L246.2 331.30 L246.8 331.37 L247.4 331.60 L248.0 332.24 L248.6 331.62 L249.2 332.20 L249.8 331.72 L250.4 331.40 L251.0 331.01 L251.6 331.70 L252.2 331.50 L252.8 332.32 L253.4 332.13 L254.0 331.24 L254.6 332.32 L255.2 332.20 L255.8 330.73 L256.4 331.54 L257.0 332.10 L257.6 331.33 L258.2 331.71 L258.8 332.25 L259.4 332.15 L260.0 332.24 L260.6 332.32 L261.2 331.70 L261.8 332.50 L262.4 332.31 L263.0 332.50 L263.6 332.01 L264.2 332.36 L264.8 332.28 L265.4 332.09 L266.0 332.29 L266.6 332.27 L267.2 332.50 L267.8 332.32 L268.4 332.22 L269.0 332.41 L269.6 332.50 L270.2 332.26 L270.8 332.21 L271.4 332.22 L272.0 332.23 L272.6 332.24 L273.2 332.25 L273.8 332.26 L274.4 332.27 L275.0 332.29 L275.6 332.30 L276.2 332.31 L276.8 332.32 L277.4 332.33 L278.0 332.34 L278.6 332.35 L279.2 332.36 L279.8 332.37 L280.4 332.38 L281.0 332.39 L281.6 332.40 L282.2 332.41 L282.8 332.43 L283.4 332.44 L284.0 332.45 L284.6 332.46 L285.2 332.47 L285.8 332.48 L286.4 332.49 L287.0 332.50" fill="none" stroke="#111" stroke-width="0.9" stroke-linejoin="round"/>
<line x1="68.0" y1="281.0" x2="68.0" y2="333.7" stroke="#151515" stroke-width="1.6"/><line x1="65.8" y1="332.50" x2="68.0" y2="332.50" stroke="#222" stroke-width="0.7"/><line x1="66.4" y1="330.44" x2="68.0" y2="330.44" stroke="#222" stroke-width="0.7"/><line x1="66.4" y1="328.38" x2="68.0" y2="328.38" stroke="#222" stroke-width="0.7"/><line x1="66.4" y1="326.32" x2="68.0" y2="326.32" stroke="#222" stroke-width="0.7"/><line x1="66.4" y1="324.26" x2="68.0" y2="324.26" stroke="#222" stroke-width="0.7"/><line x1="65.8" y1="322.20" x2="68.0" y2="322.20" stroke="#222" stroke-width="0.7"/><line x1="66.4" y1="320.14" x2="68.0" y2="320.14" stroke="#222" stroke-width="0.7"/><line x1="66.4" y1="318.08" x2="68.0" y2="318.08" stroke="#222" stroke-width="0.7"/><line x1="66.4" y1="316.02" x2="68.0" y2="316.02" stroke="#222" stroke-width="0.7"/><line x1="66.4" y1="313.96" x2="68.0" y2="313.96" stroke="#222" stroke-width="0.7"/><line x1="65.8" y1="311.90" x2="68.0" y2="311.90" stroke="#222" stroke-width="0.7"/><line x1="66.4" y1="309.84" x2="68.0" y2="309.84" stroke="#222" stroke-width="0.7"/><line x1="66.4" y1="307.78" x2="68.0" y2="307.78" stroke="#222" stroke-width="0.7"/><line x1="66.4" y1="305.72" x2="68.0" y2="305.72" stroke="#222" stroke-width="0.7"/><line x1="66.4" y1="303.66" x2="68.0" y2="303.66" stroke="#222" stroke-width="0.7"/><line x1="65.8" y1="301.60" x2="68.0" y2="301.60" stroke="#222" stroke-width="0.7"/><line x1="66.4" y1="299.54" x2="68.0" y2="299.54" stroke="#222" stroke-width="0.7"/><line x1="66.4" y1="297.48" x2="68.0" y2="297.48" stroke="#222" stroke-width="0.7"/><line x1="66.4" y1="295.42" x2="68.0" y2="295.42" stroke="#222" stroke-width="0.7"/><line x1="66.4" y1="293.36" x2="68.0" y2="293.36" stroke="#222" stroke-width="0.7"/><line x1="65.8" y1="291.30" x2="68.0" y2="291.30" stroke="#222" stroke-width="0.7"/><line x1="66.4" y1="289.24" x2="68.0" y2="289.24" stroke="#222" stroke-width="0.7"/><line x1="66.4" y1="287.18" x2="68.0" y2="287.18" stroke="#222" stroke-width="0.7"/><line x1="66.4" y1="285.12" x2="68.0" y2="285.12" stroke="#222" stroke-width="0.7"/><line x1="66.4" y1="283.06" x2="68.0" y2="283.06" stroke="#222" stroke-width="0.7"/><line x1="65.8" y1="281.00" x2="68.0" y2="281.00" stroke="#222" stroke-width="0.7"/>
<line x1="67.5" y1="332.7" x2="287.5" y2="332.7" stroke="#222" stroke-width="0.9"/><line x1="68.00" y1="332.5" x2="68.00" y2="334.9" stroke="#222" stroke-width="0.5"/><line x1="84.48" y1="332.5" x2="84.48" y2="333.8" stroke="#222" stroke-width="0.5"/><line x1="94.12" y1="332.5" x2="94.12" y2="333.8" stroke="#222" stroke-width="0.5"/><line x1="100.96" y1="332.5" x2="100.96" y2="333.8" stroke="#222" stroke-width="0.5"/><line x1="106.27" y1="332.5" x2="106.27" y2="333.8" stroke="#222" stroke-width="0.5"/><line x1="110.60" y1="332.5" x2="110.60" y2="333.8" stroke="#222" stroke-width="0.5"/><line x1="114.27" y1="332.5" x2="114.27" y2="333.8" stroke="#222" stroke-width="0.5"/><line x1="117.44" y1="332.5" x2="117.44" y2="333.8" stroke="#222" stroke-width="0.5"/><line x1="120.24" y1="332.5" x2="120.24" y2="333.8" stroke="#222" stroke-width="0.5"/><line x1="122.75" y1="332.5" x2="122.75" y2="334.9" stroke="#222" stroke-width="0.5"/><line x1="139.23" y1="332.5" x2="139.23" y2="333.8" stroke="#222" stroke-width="0.5"/><line x1="148.87" y1="332.5" x2="148.87" y2="333.8" stroke="#222" stroke-width="0.5"/><line x1="155.71" y1="332.5" x2="155.71" y2="333.8" stroke="#222" stroke-width="0.5"/><line x1="161.02" y1="332.5" x2="161.02" y2="333.8" stroke="#222" stroke-width="0.5"/><line x1="165.35" y1="332.5" x2="165.35" y2="333.8" stroke="#222" stroke-width="0.5"/><line x1="169.02" y1="332.5" x2="169.02" y2="333.8" stroke="#222" stroke-width="0.5"/><line x1="172.19" y1="332.5" x2="172.19" y2="333.8" stroke="#222" stroke-width="0.5"/><line x1="174.99" y1="332.5" x2="174.99" y2="333.8" stroke="#222" stroke-width="0.5"/><line x1="177.50" y1="332.5" x2="177.50" y2="334.9" stroke="#222" stroke-width="0.5"/><line x1="193.98" y1="332.5" x2="193.98" y2="333.8" stroke="#222" stroke-width="0.5"/><line x1="203.62" y1="332.5" x2="203.62" y2="333.8" stroke="#222" stroke-width="0.5"/><line x1="210.46" y1="332.5" x2="210.46" y2="333.8" stroke="#222" stroke-width="0.5"/><line x1="215.77" y1="332.5" x2="215.77" y2="333.8" stroke="#222" stroke-width="0.5"/><line x1="220.10" y1="332.5" x2="220.10" y2="333.8" stroke="#222" stroke-width="0.5"/><line x1="223.77" y1="332.5" x2="223.77" y2="333.8" stroke="#222" stroke-width="0.5"/><line x1="226.94" y1="332.5" x2="226.94" y2="333.8" stroke="#222" stroke-width="0.5"/><line x1="229.74" y1="332.5" x2="229.74" y2="333.8" stroke="#222" stroke-width="0.5"/><line x1="232.25" y1="332.5" x2="232.25" y2="334.9" stroke="#222" stroke-width="0.5"/><line x1="248.73" y1="332.5" x2="248.73" y2="333.8" stroke="#222" stroke-width="0.5"/><line x1="258.37" y1="332.5" x2="258.37" y2="333.8" stroke="#222" stroke-width="0.5"/><line x1="265.21" y1="332.5" x2="265.21" y2="333.8" stroke="#222" stroke-width="0.5"/><line x1="270.52" y1="332.5" x2="270.52" y2="333.8" stroke="#222" stroke-width="0.5"/><line x1="274.85" y1="332.5" x2="274.85" y2="333.8" stroke="#222" stroke-width="0.5"/><line x1="278.52" y1="332.5" x2="278.52" y2="333.8" stroke="#222" stroke-width="0.5"/><line x1="281.69" y1="332.5" x2="281.69" y2="333.8" stroke="#222" stroke-width="0.5"/><line x1="284.49" y1="332.5" x2="284.49" y2="333.8" stroke="#222" stroke-width="0.5"/><line x1="287.00" y1="332.5" x2="287.00" y2="334.9" stroke="#222" stroke-width="0.5"/><text class="sn" transform="translate(67.6,342.8) scale(0.82,1)" font-size="6.4" text-anchor="middle" fill="#222">10<tspan dy="-3.3" font-size="5.1">0</tspan></text><text class="sn" transform="translate(122.3,342.8) scale(0.82,1)" font-size="6.4" text-anchor="middle" fill="#222">10<tspan dy="-3.3" font-size="5.1">1</tspan></text><text class="sn" transform="translate(177.1,342.8) scale(0.82,1)" font-size="6.4" text-anchor="middle" fill="#222">10<tspan dy="-3.3" font-size="5.1">2</tspan></text><text class="sn" transform="translate(231.8,342.8) scale(0.82,1)" font-size="6.4" text-anchor="middle" fill="#222">10<tspan dy="-3.3" font-size="5.1">3</tspan></text><text class="sn" transform="translate(286.6,342.8) scale(0.82,1)" font-size="6.4" text-anchor="middle" fill="#222">10<tspan dy="-3.3" font-size="5.1">4</tspan></text>
<line x1="129.5" y1="292.5" x2="285.5" y2="292.5" stroke="#505050" stroke-width="1"/><line x1="129.5" y1="287.7" x2="129.5" y2="297.3" stroke="#222" stroke-width="1"/><line x1="285.5" y1="281.0" x2="285.5" y2="332.5" stroke="#222" stroke-width="1"/><text x="210.5" y="290.7" class="sf pc" font-size="19.4" text-anchor="middle" fill="#000">33.6%</text>
<path d="M67.0 405.5 L67.0 386.19 L67.6 385.61 L68.2 382.95 L68.8 382.03 L69.4 383.51 L70.0 384.03 L70.6 382.78 L71.2 381.10 L71.8 381.72 L72.4 383.36 L73.0 380.11 L73.6 382.28 L74.2 381.39 L74.8 381.00 L75.4 380.96 L76.0 379.23 L76.6 379.34 L77.2 381.04 L77.8 378.36 L78.4 377.97 L79.0 376.56 L79.6 377.22 L80.2 378.13 L80.8 378.17 L81.4 376.99 L82.0 376.45 L82.6 375.88 L83.2 375.08 L83.8 375.32 L84.4 373.49 L85.0 374.36 L85.6 372.53 L86.2 370.24 L86.8 370.07 L87.4 370.80 L88.0 369.97 L88.6 368.55 L89.2 368.55 L89.8 369.15 L90.4 369.10 L91.0 369.42 L91.6 367.16 L92.2 368.44 L92.8 369.02 L93.4 367.99 L94.0 369.49 L94.6 366.57 L95.2 367.14 L95.8 367.79 L96.4 367.51 L97.0 368.36 L97.6 369.12 L98.2 369.23 L98.8 369.11 L99.4 369.60 L100.0 370.46 L100.6 369.19 L101.2 371.81 L101.8 371.39 L102.4 373.40 L103.0 373.51 L103.6 375.86 L104.2 376.38 L104.8 377.55 L105.4 378.09 L106.0 380.03 L106.6 382.57 L107.2 380.17 L107.8 383.46 L108.4 384.07 L109.0 384.38 L109.6 384.45 L110.2 388.03 L110.8 387.63 L111.4 389.26 L112.0 388.92 L112.6 389.49 L113.2 391.98 L113.8 392.57 L114.4 392.61 L115.0 393.58 L115.6 394.74 L116.2 394.13 L116.8 394.61 L117.4 395.72 L118.0 397.00 L118.6 397.38 L119.2 397.39 L119.8 398.70 L120.4 398.15 L121.0 398.42 L121.6 400.81 L122.2 399.43 L122.8 400.46 L123.4 400.57 L124.0 400.44 L124.6 400.65 L125.2 401.09 L125.8 401.14 L126.4 400.58 L127.0 401.09 L127.6 402.06 L128.2 401.81 L128.8 401.26 L129.4 401.70 L130.0 401.23 L130.6 401.21 L131.2 401.79 L131.8 403.14 L132.4 402.03 L133.0 401.43 L133.6 402.61 L134.2 402.44 L134.8 403.35 L135.4 403.69 L136.0 402.91 L136.6 403.19 L137.2 402.70 L137.8 403.85 L138.4 402.88 L139.0 403.32 L139.6 404.58 L140.2 402.92 L140.8 403.53 L141.4 403.46 L142.0 403.77 L142.6 403.81 L143.2 404.37 L143.8 403.91 L144.4 404.01 L145.0 403.15 L145.6 404.00 L146.2 403.19 L146.8 404.48 L147.4 403.91 L148.0 404.45 L148.6 403.79 L149.2 404.18 L149.8 404.16 L150.4 404.42 L151.0 404.16 L151.6 403.98 L152.2 404.12 L152.8 404.04 L153.4 403.97 L154.0 403.88 L154.6 403.82 L155.2 405.36 L155.8 404.21 L156.4 404.07 L157.0 405.02 L157.6 404.73 L158.2 404.57 L158.8 405.15 L159.4 405.48 L160.0 404.32 L160.6 405.33 L161.2 404.99 L161.8 405.26 L162.4 404.56 L163.0 405.50 L163.6 405.32 L164.2 403.76 L164.8 405.41 L165.4 405.46 L166.0 404.34 L166.6 405.08 L167.2 404.89 L167.8 405.08 L168.4 404.66 L169.0 405.29 L169.6 405.35 L170.2 405.04 L170.8 405.07 L171.4 404.44 L172.0 405.36 L172.6 404.67 L173.2 405.20 L173.8 405.20 L174.4 405.23 L175.0 405.25 L175.6 405.25 L176.2 405.25 L176.8 405.25 L177.4 405.26 L178.0 405.26 L178.6 405.26 L179.2 405.26 L179.8 405.26 L180.4 405.26 L181.0 405.26 L181.6 405.26 L182.2 405.27 L182.8 405.27 L183.4 405.27 L184.0 405.27 L184.6 405.27 L185.2 405.27 L185.8 405.27 L186.4 405.28 L187.0 405.28 L187.6 405.28 L188.2 405.28 L188.8 405.28 L189.4 405.28 L190.0 405.28 L190.6 405.28 L191.2 405.29 L191.8 405.29 L192.4 405.29 L193.0 405.29 L193.6 405.29 L194.2 405.29 L194.8 405.29 L195.4 405.30 L196.0 405.30 L196.6 405.30 L197.2 405.30 L197.8 405.30 L198.4 405.30 L199.0 405.30 L199.6 405.30 L200.2 405.31 L200.8 405.31 L201.4 405.31 L202.0 405.31 L202.6 405.31 L203.2 405.31 L203.8 405.31 L204.4 405.32 L205.0 405.32 L205.6 405.32 L206.2 405.32 L206.8 405.32 L207.4 405.32 L208.0 405.32 L208.6 405.32 L209.2 405.33 L209.8 405.33 L210.4 405.33 L211.0 405.33 L211.6 405.33 L212.2 405.33 L212.8 405.33 L213.4 405.34 L214.0 405.34 L214.6 405.34 L215.2 405.34 L215.8 405.34 L216.4 405.34 L217.0 405.34 L217.6 405.35 L218.2 405.35 L218.8 405.35 L219.4 405.35 L220.0 405.35 L220.6 405.35 L221.2 405.35 L221.8 405.35 L222.4 405.36 L223.0 405.36 L223.6 405.36 L224.2 405.36 L224.8 405.36 L225.4 405.36 L226.0 405.36 L226.6 405.37 L227.2 405.37 L227.8 405.37 L228.4 405.37 L229.0 405.37 L229.6 405.37 L230.2 405.37 L230.8 405.37 L231.4 405.38 L232.0 405.38 L232.6 405.38 L233.2 405.38 L233.8 405.38 L234.4 405.38 L235.0 405.38 L235.6 405.39 L236.2 405.39 L236.8 405.39 L237.4 405.39 L238.0 405.39 L238.6 405.39 L239.2 405.39 L239.8 405.39 L240.4 405.40 L241.0 405.40 L241.6 405.40 L242.2 405.40 L242.8 405.40 L243.4 405.40 L244.0 405.40 L244.6 405.41 L245.2 405.41 L245.8 405.41 L246.4 405.41 L247.0 405.41 L247.6 405.41 L248.2 405.41 L248.8 405.41 L249.4 405.42 L250.0 405.42 L250.6 405.42 L251.2 405.42 L251.8 405.42 L252.4 405.42 L253.0 405.42 L253.6 405.43 L254.2 405.43 L254.8 405.43 L255.4 405.43 L256.0 405.43 L256.6 405.43 L257.2 405.43 L257.8 405.43 L258.4 405.44 L259.0 405.44 L259.6 405.44 L260.2 405.44 L260.8 405.44 L261.4 405.44 L262.0 405.44 L262.6 405.45 L263.2 405.45 L263.8 405.45 L264.4 405.45 L265.0 405.45 L265.6 405.45 L266.2 405.45 L266.8 405.45 L267.4 405.46 L268.0 405.46 L268.6 405.46 L269.2 405.46 L269.8 405.46 L270.4 405.46 L271.0 405.46 L271.6 405.47 L272.2 405.47 L272.8 405.47 L273.4 405.47 L274.0 405.47 L274.6 405.47 L275.2 405.47 L275.8 405.48 L276.4 405.48 L277.0 405.48 L277.6 405.48 L278.2 405.48 L278.8 405.48 L279.4 405.48 L280.0 405.48 L280.6 405.49 L281.2 405.49 L281.8 405.49 L282.4 405.49 L283.0 405.49 L283.6 405.49 L284.2 405.49 L284.8 405.50 L285.4 405.50 L286.0 405.50 L286.6 405.50 L286.6 405.5 Z" fill="#9a9a9a" stroke="none"/><path d="M67.0 386.19 L67.6 385.61 L68.2 382.95 L68.8 382.03 L69.4 383.51 L70.0 384.03 L70.6 382.78 L71.2 381.10 L71.8 381.72 L72.4 383.36 L73.0 380.11 L73.6 382.28 L74.2 381.39 L74.8 381.00 L75.4 380.96 L76.0 379.23 L76.6 379.34 L77.2 381.04 L77.8 378.36 L78.4 377.97 L79.0 376.56 L79.6 377.22 L80.2 378.13 L80.8 378.17 L81.4 376.99 L82.0 376.45 L82.6 375.88 L83.2 375.08 L83.8 375.32 L84.4 373.49 L85.0 374.36 L85.6 372.53 L86.2 370.24 L86.8 370.07 L87.4 370.80 L88.0 369.97 L88.6 368.55 L89.2 368.55 L89.8 369.15 L90.4 369.10 L91.0 369.42 L91.6 367.16 L92.2 368.44 L92.8 369.02 L93.4 367.99 L94.0 369.49 L94.6 366.57 L95.2 367.14 L95.8 367.79 L96.4 367.51 L97.0 368.36 L97.6 369.12 L98.2 369.23 L98.8 369.11 L99.4 369.60 L100.0 370.46 L100.6 369.19 L101.2 371.81 L101.8 371.39 L102.4 373.40 L103.0 373.51 L103.6 375.86 L104.2 376.38 L104.8 377.55 L105.4 378.09 L106.0 380.03 L106.6 382.57 L107.2 380.17 L107.8 383.46 L108.4 384.07 L109.0 384.38 L109.6 384.45 L110.2 388.03 L110.8 387.63 L111.4 389.26 L112.0 388.92 L112.6 389.49 L113.2 391.98 L113.8 392.57 L114.4 392.61 L115.0 393.58 L115.6 394.74 L116.2 394.13 L116.8 394.61 L117.4 395.72 L118.0 397.00 L118.6 397.38 L119.2 397.39 L119.8 398.70 L120.4 398.15 L121.0 398.42 L121.6 400.81 L122.2 399.43 L122.8 400.46 L123.4 400.57 L124.0 400.44 L124.6 400.65 L125.2 401.09 L125.8 401.14 L126.4 400.58 L127.0 401.09 L127.6 402.06 L128.2 401.81 L128.8 401.26 L129.4 401.70 L130.0 401.23 L130.6 401.21 L131.2 401.79 L131.8 403.14 L132.4 402.03 L133.0 401.43 L133.6 402.61 L134.2 402.44 L134.8 403.35 L135.4 403.69 L136.0 402.91 L136.6 403.19 L137.2 402.70 L137.8 403.85 L138.4 402.88 L139.0 403.32 L139.6 404.58 L140.2 402.92 L140.8 403.53 L141.4 403.46 L142.0 403.77 L142.6 403.81 L143.2 404.37 L143.8 403.91 L144.4 404.01 L145.0 403.15 L145.6 404.00 L146.2 403.19 L146.8 404.48 L147.4 403.91 L148.0 404.45 L148.6 403.79 L149.2 404.18 L149.8 404.16 L150.4 404.42 L151.0 404.16 L151.6 403.98 L152.2 404.12 L152.8 404.04 L153.4 403.97 L154.0 403.88 L154.6 403.82 L155.2 405.36 L155.8 404.21 L156.4 404.07 L157.0 405.02 L157.6 404.73 L158.2 404.57 L158.8 405.15 L159.4 405.48 L160.0 404.32 L160.6 405.33 L161.2 404.99 L161.8 405.26 L162.4 404.56 L163.0 405.50 L163.6 405.32 L164.2 403.76 L164.8 405.41 L165.4 405.46 L166.0 404.34 L166.6 405.08 L167.2 404.89 L167.8 405.08 L168.4 404.66 L169.0 405.29 L169.6 405.35 L170.2 405.04 L170.8 405.07 L171.4 404.44 L172.0 405.36 L172.6 404.67 L173.2 405.20 L173.8 405.20 L174.4 405.23 L175.0 405.25 L175.6 405.25 L176.2 405.25 L176.8 405.25 L177.4 405.26 L178.0 405.26 L178.6 405.26 L179.2 405.26 L179.8 405.26 L180.4 405.26 L181.0 405.26 L181.6 405.26 L182.2 405.27 L182.8 405.27 L183.4 405.27 L184.0 405.27 L184.6 405.27 L185.2 405.27 L185.8 405.27 L186.4 405.28 L187.0 405.28 L187.6 405.28 L188.2 405.28 L188.8 405.28 L189.4 405.28 L190.0 405.28 L190.6 405.28 L191.2 405.29 L191.8 405.29 L192.4 405.29 L193.0 405.29 L193.6 405.29 L194.2 405.29 L194.8 405.29 L195.4 405.30 L196.0 405.30 L196.6 405.30 L197.2 405.30 L197.8 405.30 L198.4 405.30 L199.0 405.30 L199.6 405.30 L200.2 405.31 L200.8 405.31 L201.4 405.31 L202.0 405.31 L202.6 405.31 L203.2 405.31 L203.8 405.31 L204.4 405.32 L205.0 405.32 L205.6 405.32 L206.2 405.32 L206.8 405.32 L207.4 405.32 L208.0 405.32 L208.6 405.32 L209.2 405.33 L209.8 405.33 L210.4 405.33 L211.0 405.33 L211.6 405.33 L212.2 405.33 L212.8 405.33 L213.4 405.34 L214.0 405.34 L214.6 405.34 L215.2 405.34 L215.8 405.34 L216.4 405.34 L217.0 405.34 L217.6 405.35 L218.2 405.35 L218.8 405.35 L219.4 405.35 L220.0 405.35 L220.6 405.35 L221.2 405.35 L221.8 405.35 L222.4 405.36 L223.0 405.36 L223.6 405.36 L224.2 405.36 L224.8 405.36 L225.4 405.36 L226.0 405.36 L226.6 405.37 L227.2 405.37 L227.8 405.37 L228.4 405.37 L229.0 405.37 L229.6 405.37 L230.2 405.37 L230.8 405.37 L231.4 405.38 L232.0 405.38 L232.6 405.38 L233.2 405.38 L233.8 405.38 L234.4 405.38 L235.0 405.38 L235.6 405.39 L236.2 405.39 L236.8 405.39 L237.4 405.39 L238.0 405.39 L238.6 405.39 L239.2 405.39 L239.8 405.39 L240.4 405.40 L241.0 405.40 L241.6 405.40 L242.2 405.40 L242.8 405.40 L243.4 405.40 L244.0 405.40 L244.6 405.41 L245.2 405.41 L245.8 405.41 L246.4 405.41 L247.0 405.41 L247.6 405.41 L248.2 405.41 L248.8 405.41 L249.4 405.42 L250.0 405.42 L250.6 405.42 L251.2 405.42 L251.8 405.42 L252.4 405.42 L253.0 405.42 L253.6 405.43 L254.2 405.43 L254.8 405.43 L255.4 405.43 L256.0 405.43 L256.6 405.43 L257.2 405.43 L257.8 405.43 L258.4 405.44 L259.0 405.44 L259.6 405.44 L260.2 405.44 L260.8 405.44 L261.4 405.44 L262.0 405.44 L262.6 405.45 L263.2 405.45 L263.8 405.45 L264.4 405.45 L265.0 405.45 L265.6 405.45 L266.2 405.45 L266.8 405.45 L267.4 405.46 L268.0 405.46 L268.6 405.46 L269.2 405.46 L269.8 405.46 L270.4 405.46 L271.0 405.46 L271.6 405.47 L272.2 405.47 L272.8 405.47 L273.4 405.47 L274.0 405.47 L274.6 405.47 L275.2 405.47 L275.8 405.48 L276.4 405.48 L277.0 405.48 L277.6 405.48 L278.2 405.48 L278.8 405.48 L279.4 405.48 L280.0 405.48 L280.6 405.49 L281.2 405.49 L281.8 405.49 L282.4 405.49 L283.0 405.49 L283.6 405.49 L284.2 405.49 L284.8 405.50 L285.4 405.50 L286.0 405.50 L286.6 405.50" fill="none" stroke="#111" stroke-width="0.9" stroke-linejoin="round"/>
<line x1="67.0" y1="352.0" x2="67.0" y2="406.7" stroke="#151515" stroke-width="1.9"/><line x1="64.8" y1="405.50" x2="67.0" y2="405.50" stroke="#222" stroke-width="0.7"/><line x1="65.4" y1="403.36" x2="67.0" y2="403.36" stroke="#222" stroke-width="0.7"/><line x1="65.4" y1="401.22" x2="67.0" y2="401.22" stroke="#222" stroke-width="0.7"/><line x1="65.4" y1="399.08" x2="67.0" y2="399.08" stroke="#222" stroke-width="0.7"/><line x1="65.4" y1="396.94" x2="67.0" y2="396.94" stroke="#222" stroke-width="0.7"/><line x1="64.8" y1="394.80" x2="67.0" y2="394.80" stroke="#222" stroke-width="0.7"/><line x1="65.4" y1="392.66" x2="67.0" y2="392.66" stroke="#222" stroke-width="0.7"/><line x1="65.4" y1="390.52" x2="67.0" y2="390.52" stroke="#222" stroke-width="0.7"/><line x1="65.4" y1="388.38" x2="67.0" y2="388.38" stroke="#222" stroke-width="0.7"/><line x1="65.4" y1="386.24" x2="67.0" y2="386.24" stroke="#222" stroke-width="0.7"/><line x1="64.8" y1="384.10" x2="67.0" y2="384.10" stroke="#222" stroke-width="0.7"/><line x1="65.4" y1="381.96" x2="67.0" y2="381.96" stroke="#222" stroke-width="0.7"/><line x1="65.4" y1="379.82" x2="67.0" y2="379.82" stroke="#222" stroke-width="0.7"/><line x1="65.4" y1="377.68" x2="67.0" y2="377.68" stroke="#222" stroke-width="0.7"/><line x1="65.4" y1="375.54" x2="67.0" y2="375.54" stroke="#222" stroke-width="0.7"/><line x1="64.8" y1="373.40" x2="67.0" y2="373.40" stroke="#222" stroke-width="0.7"/><line x1="65.4" y1="371.26" x2="67.0" y2="371.26" stroke="#222" stroke-width="0.7"/><line x1="65.4" y1="369.12" x2="67.0" y2="369.12" stroke="#222" stroke-width="0.7"/><line x1="65.4" y1="366.98" x2="67.0" y2="366.98" stroke="#222" stroke-width="0.7"/><line x1="65.4" y1="364.84" x2="67.0" y2="364.84" stroke="#222" stroke-width="0.7"/><line x1="64.8" y1="362.70" x2="67.0" y2="362.70" stroke="#222" stroke-width="0.7"/><line x1="65.4" y1="360.56" x2="67.0" y2="360.56" stroke="#222" stroke-width="0.7"/><line x1="65.4" y1="358.42" x2="67.0" y2="358.42" stroke="#222" stroke-width="0.7"/><line x1="65.4" y1="356.28" x2="67.0" y2="356.28" stroke="#222" stroke-width="0.7"/><line x1="65.4" y1="354.14" x2="67.0" y2="354.14" stroke="#222" stroke-width="0.7"/><line x1="64.8" y1="352.00" x2="67.0" y2="352.00" stroke="#222" stroke-width="0.7"/>
<line x1="66.5" y1="405.7" x2="287.5" y2="405.7" stroke="#222" stroke-width="0.9"/><line x1="67.00" y1="405.5" x2="67.00" y2="407.9" stroke="#222" stroke-width="0.5"/><line x1="83.56" y1="405.5" x2="83.56" y2="406.8" stroke="#222" stroke-width="0.5"/><line x1="93.24" y1="405.5" x2="93.24" y2="406.8" stroke="#222" stroke-width="0.5"/><line x1="100.11" y1="405.5" x2="100.11" y2="406.8" stroke="#222" stroke-width="0.5"/><line x1="105.44" y1="405.5" x2="105.44" y2="406.8" stroke="#222" stroke-width="0.5"/><line x1="109.80" y1="405.5" x2="109.80" y2="406.8" stroke="#222" stroke-width="0.5"/><line x1="113.48" y1="405.5" x2="113.48" y2="406.8" stroke="#222" stroke-width="0.5"/><line x1="116.67" y1="405.5" x2="116.67" y2="406.8" stroke="#222" stroke-width="0.5"/><line x1="119.48" y1="405.5" x2="119.48" y2="406.8" stroke="#222" stroke-width="0.5"/><line x1="122.00" y1="405.5" x2="122.00" y2="407.9" stroke="#222" stroke-width="0.5"/><line x1="138.56" y1="405.5" x2="138.56" y2="406.8" stroke="#222" stroke-width="0.5"/><line x1="148.24" y1="405.5" x2="148.24" y2="406.8" stroke="#222" stroke-width="0.5"/><line x1="155.11" y1="405.5" x2="155.11" y2="406.8" stroke="#222" stroke-width="0.5"/><line x1="160.44" y1="405.5" x2="160.44" y2="406.8" stroke="#222" stroke-width="0.5"/><line x1="164.80" y1="405.5" x2="164.80" y2="406.8" stroke="#222" stroke-width="0.5"/><line x1="168.48" y1="405.5" x2="168.48" y2="406.8" stroke="#222" stroke-width="0.5"/><line x1="171.67" y1="405.5" x2="171.67" y2="406.8" stroke="#222" stroke-width="0.5"/><line x1="174.48" y1="405.5" x2="174.48" y2="406.8" stroke="#222" stroke-width="0.5"/><line x1="177.00" y1="405.5" x2="177.00" y2="407.9" stroke="#222" stroke-width="0.5"/><line x1="193.56" y1="405.5" x2="193.56" y2="406.8" stroke="#222" stroke-width="0.5"/><line x1="203.24" y1="405.5" x2="203.24" y2="406.8" stroke="#222" stroke-width="0.5"/><line x1="210.11" y1="405.5" x2="210.11" y2="406.8" stroke="#222" stroke-width="0.5"/><line x1="215.44" y1="405.5" x2="215.44" y2="406.8" stroke="#222" stroke-width="0.5"/><line x1="219.80" y1="405.5" x2="219.80" y2="406.8" stroke="#222" stroke-width="0.5"/><line x1="223.48" y1="405.5" x2="223.48" y2="406.8" stroke="#222" stroke-width="0.5"/><line x1="226.67" y1="405.5" x2="226.67" y2="406.8" stroke="#222" stroke-width="0.5"/><line x1="229.48" y1="405.5" x2="229.48" y2="406.8" stroke="#222" stroke-width="0.5"/><line x1="232.00" y1="405.5" x2="232.00" y2="407.9" stroke="#222" stroke-width="0.5"/><line x1="248.56" y1="405.5" x2="248.56" y2="406.8" stroke="#222" stroke-width="0.5"/><line x1="258.24" y1="405.5" x2="258.24" y2="406.8" stroke="#222" stroke-width="0.5"/><line x1="265.11" y1="405.5" x2="265.11" y2="406.8" stroke="#222" stroke-width="0.5"/><line x1="270.44" y1="405.5" x2="270.44" y2="406.8" stroke="#222" stroke-width="0.5"/><line x1="274.80" y1="405.5" x2="274.80" y2="406.8" stroke="#222" stroke-width="0.5"/><line x1="278.48" y1="405.5" x2="278.48" y2="406.8" stroke="#222" stroke-width="0.5"/><line x1="281.67" y1="405.5" x2="281.67" y2="406.8" stroke="#222" stroke-width="0.5"/><line x1="284.48" y1="405.5" x2="284.48" y2="406.8" stroke="#222" stroke-width="0.5"/><line x1="287.00" y1="405.5" x2="287.00" y2="407.9" stroke="#222" stroke-width="0.5"/><text class="sn" transform="translate(66.6,415.8) scale(0.82,1)" font-size="6.4" text-anchor="middle" fill="#222">10<tspan dy="-3.3" font-size="5.1">0</tspan></text><text class="sn" transform="translate(121.6,415.8) scale(0.82,1)" font-size="6.4" text-anchor="middle" fill="#222">10<tspan dy="-3.3" font-size="5.1">1</tspan></text><text class="sn" transform="translate(176.6,415.8) scale(0.82,1)" font-size="6.4" text-anchor="middle" fill="#222">10<tspan dy="-3.3" font-size="5.1">2</tspan></text><text class="sn" transform="translate(231.6,415.8) scale(0.82,1)" font-size="6.4" text-anchor="middle" fill="#222">10<tspan dy="-3.3" font-size="5.1">3</tspan></text><text class="sn" transform="translate(286.6,415.8) scale(0.82,1)" font-size="6.4" text-anchor="middle" fill="#222">10<tspan dy="-3.3" font-size="5.1">4</tspan></text>
<line x1="136.5" y1="367.5" x2="287.0" y2="367.5" stroke="#505050" stroke-width="1"/><line x1="136.5" y1="362.7" x2="136.5" y2="372.3" stroke="#222" stroke-width="1"/><text x="205.8" y="365.7" class="sf pc" font-size="19.4" text-anchor="middle" fill="#000">2.1%</text>
<path d="M297.0 111.0 L297.0 111.00 L297.6 111.00 L298.2 111.00 L298.8 111.00 L299.4 111.00 L300.0 111.00 L300.6 111.00 L301.2 111.00 L301.8 111.00 L302.4 111.00 L303.0 111.00 L303.6 111.00 L304.2 111.00 L304.8 111.00 L305.4 111.00 L306.0 111.00 L306.6 111.00 L307.2 111.00 L307.8 111.00 L308.4 111.00 L309.0 111.00 L309.6 111.00 L310.2 111.00 L310.8 111.00 L311.4 111.00 L312.0 111.00 L312.6 111.00 L313.2 111.00 L313.8 111.00 L314.4 111.00 L315.0 111.00 L315.6 111.00 L316.2 111.00 L316.8 111.00 L317.4 111.00 L318.0 111.00 L318.6 111.00 L319.2 111.00 L319.8 109.50 L320.4 111.00 L321.0 111.00 L321.6 111.00 L322.2 109.50 L322.8 111.00 L323.4 111.00 L324.0 111.00 L324.6 111.00 L325.2 111.00 L325.8 111.00 L326.4 111.00 L327.0 111.00 L327.6 111.00 L328.2 111.00 L328.8 111.00 L329.4 111.00 L330.0 111.00 L330.6 111.00 L331.2 111.00 L331.8 111.00 L332.4 111.00 L333.0 111.00 L333.6 111.00 L334.2 111.00 L334.8 111.00 L335.4 111.00 L336.0 111.00 L336.6 111.00 L337.2 111.00 L337.8 111.00 L338.4 111.00 L339.0 111.00 L339.6 111.00 L340.2 109.00 L340.8 111.00 L341.4 111.00 L342.0 109.50 L342.6 111.00 L343.2 111.00 L343.8 111.00 L344.4 111.00 L345.0 111.00 L345.6 111.00 L346.2 109.00 L346.8 111.00 L347.4 111.00 L348.0 109.00 L348.6 111.00 L349.2 111.00 L349.8 111.00 L350.4 111.00 L351.0 111.00 L351.6 111.00 L352.2 111.00 L352.8 111.00 L353.4 111.00 L354.0 111.00 L354.6 111.00 L355.2 111.00 L355.8 111.00 L356.4 111.00 L357.0 111.00 L357.6 111.00 L358.2 111.00 L358.8 111.00 L359.4 111.00 L360.0 111.00 L360.6 111.00 L361.2 111.00 L361.8 111.00 L362.4 111.00 L363.0 111.00 L363.6 111.00 L364.2 111.00 L364.8 109.50 L365.4 111.00 L366.0 111.00 L366.6 111.00 L367.2 111.00 L367.8 109.50 L368.4 111.00 L369.0 111.00 L369.6 111.00 L370.2 111.00 L370.8 111.00 L371.4 111.00 L372.0 111.00 L372.6 111.00 L373.2 111.00 L373.8 111.00 L374.4 111.00 L375.0 111.00 L375.6 111.00 L376.2 111.00 L376.8 111.00 L377.4 111.00 L378.0 111.00 L378.6 111.00 L379.2 111.00 L379.8 109.00 L380.4 111.00 L381.0 111.00 L381.6 111.00 L382.2 109.50 L382.8 111.00 L383.4 111.00 L384.0 111.00 L384.6 111.00 L385.2 111.00 L385.8 111.00 L386.4 111.00 L387.0 111.00 L387.6 111.00 L388.2 111.00 L388.8 111.00 L389.4 111.00 L390.0 111.00 L390.6 111.00 L391.2 111.00 L391.8 111.00 L392.4 111.00 L393.0 109.80 L393.6 111.00 L394.2 111.00 L394.8 111.00 L395.4 111.00 L396.0 111.00 L396.6 111.00 L397.2 111.00 L397.8 111.00 L398.4 111.00 L399.0 111.00 L399.6 111.00 L400.2 111.00 L400.8 111.00 L401.4 111.00 L402.0 111.00 L402.6 111.00 L403.2 111.00 L403.8 111.00 L404.4 111.00 L405.0 109.50 L405.6 111.00 L406.2 111.00 L406.8 109.00 L407.4 111.00 L408.0 111.00 L408.6 111.00 L409.2 109.00 L409.8 111.00 L410.4 111.00 L411.0 109.00 L411.6 111.00 L412.2 110.98 L412.8 110.92 L413.4 110.86 L414.0 110.80 L414.6 110.74 L415.2 109.28 L415.8 109.92 L416.4 111.00 L417.0 111.00 L417.6 111.00 L418.2 109.12 L418.8 108.82 L419.4 109.40 L420.0 111.00 L420.6 109.92 L421.2 110.51 L421.8 109.42 L422.4 108.13 L423.0 110.23 L423.6 110.38 L424.2 107.72 L424.8 109.86 L425.4 109.52 L426.0 107.32 L426.6 108.42 L427.2 108.37 L427.8 111.00 L428.4 111.00 L429.0 109.62 L429.6 107.35 L430.2 106.86 L430.8 108.70 L431.4 108.90 L432.0 106.29 L432.6 109.18 L433.2 106.92 L433.8 103.73 L434.4 109.06 L435.0 107.15 L435.6 106.23 L436.2 105.52 L436.8 106.41 L437.4 104.42 L438.0 106.30 L438.6 104.56 L439.2 105.20 L439.8 101.98 L440.4 100.45 L441.0 105.15 L441.6 107.26 L442.2 103.28 L442.8 98.26 L443.4 97.30 L444.0 96.83 L444.6 98.06 L445.2 98.57 L445.8 100.45 L446.4 96.72 L447.0 101.25 L447.6 93.98 L448.2 95.64 L448.8 93.19 L449.4 97.59 L450.0 99.18 L450.6 91.16 L451.2 94.38 L451.8 100.73 L452.4 92.05 L453.0 93.02 L453.6 94.99 L454.2 90.94 L454.8 87.73 L455.4 89.33 L456.0 88.69 L456.6 96.11 L457.2 95.65 L457.8 91.25 L458.4 87.31 L459.0 95.30 L459.6 92.58 L460.2 86.27 L460.8 83.05 L461.4 90.17 L462.0 86.44 L462.6 87.52 L463.2 86.61 L463.8 82.55 L464.4 84.81 L465.0 89.18 L465.6 81.24 L466.2 81.38 L466.8 81.43 L467.4 85.50 L468.0 84.12 L468.6 74.60 L469.2 74.60 L469.8 81.36 L470.4 74.77 L471.0 86.89 L471.6 88.04 L472.2 77.13 L472.8 90.23 L473.4 83.87 L474.0 86.13 L474.6 86.72 L475.2 85.95 L475.8 84.13 L476.4 82.76 L477.0 89.79 L477.6 87.34 L478.2 87.91 L478.8 91.76 L479.4 94.20 L480.0 96.05 L480.6 88.70 L481.2 95.16 L481.8 96.47 L482.4 95.61 L483.0 101.56 L483.6 95.92 L484.2 96.10 L484.8 100.06 L485.4 100.01 L486.0 103.67 L486.6 99.85 L487.2 100.78 L487.8 101.72 L488.4 107.02 L489.0 107.87 L489.6 107.53 L490.2 110.64 L490.8 110.05 L491.4 108.89 L492.0 106.36 L492.6 106.73 L493.2 111.00 L493.8 107.46 L494.4 109.05 L495.0 110.96 L495.6 108.55 L496.2 109.58 L496.8 110.77 L497.4 110.95 L498.0 111.00 L498.6 111.00 L499.2 111.00 L499.8 109.50 L500.4 111.00 L501.0 111.00 L501.6 111.00 L502.2 111.00 L502.8 111.00 L503.4 111.00 L504.0 111.00 L504.6 111.00 L505.2 109.80 L505.8 111.00 L506.4 111.00 L507.0 111.00 L507.6 111.00 L508.2 111.00 L508.8 111.00 L509.4 111.00 L510.0 111.00 L510.6 111.00 L511.2 111.00 L511.8 111.00 L512.4 111.00 L513.0 111.00 L513.6 111.00 L514.2 111.00 L514.8 111.00 L515.4 111.00 L516.0 108.50 L516.0 111.0 Z" fill="#9a9a9a" stroke="none"/><path d="M297.0 111.00 L297.6 111.00 L298.2 111.00 L298.8 111.00 L299.4 111.00 L300.0 111.00 L300.6 111.00 L301.2 111.00 L301.8 111.00 L302.4 111.00 L303.0 111.00 L303.6 111.00 L304.2 111.00 L304.8 111.00 L305.4 111.00 L306.0 111.00 L306.6 111.00 L307.2 111.00 L307.8 111.00 L308.4 111.00 L309.0 111.00 L309.6 111.00 L310.2 111.00 L310.8 111.00 L311.4 111.00 L312.0 111.00 L312.6 111.00 L313.2 111.00 L313.8 111.00 L314.4 111.00 L315.0 111.00 L315.6 111.00 L316.2 111.00 L316.8 111.00 L317.4 111.00 L318.0 111.00 L318.6 111.00 L319.2 111.00 L319.8 109.50 L320.4 111.00 L321.0 111.00 L321.6 111.00 L322.2 109.50 L322.8 111.00 L323.4 111.00 L324.0 111.00 L324.6 111.00 L325.2 111.00 L325.8 111.00 L326.4 111.00 L327.0 111.00 L327.6 111.00 L328.2 111.00 L328.8 111.00 L329.4 111.00 L330.0 111.00 L330.6 111.00 L331.2 111.00 L331.8 111.00 L332.4 111.00 L333.0 111.00 L333.6 111.00 L334.2 111.00 L334.8 111.00 L335.4 111.00 L336.0 111.00 L336.6 111.00 L337.2 111.00 L337.8 111.00 L338.4 111.00 L339.0 111.00 L339.6 111.00 L340.2 109.00 L340.8 111.00 L341.4 111.00 L342.0 109.50 L342.6 111.00 L343.2 111.00 L343.8 111.00 L344.4 111.00 L345.0 111.00 L345.6 111.00 L346.2 109.00 L346.8 111.00 L347.4 111.00 L348.0 109.00 L348.6 111.00 L349.2 111.00 L349.8 111.00 L350.4 111.00 L351.0 111.00 L351.6 111.00 L352.2 111.00 L352.8 111.00 L353.4 111.00 L354.0 111.00 L354.6 111.00 L355.2 111.00 L355.8 111.00 L356.4 111.00 L357.0 111.00 L357.6 111.00 L358.2 111.00 L358.8 111.00 L359.4 111.00 L360.0 111.00 L360.6 111.00 L361.2 111.00 L361.8 111.00 L362.4 111.00 L363.0 111.00 L363.6 111.00 L364.2 111.00 L364.8 109.50 L365.4 111.00 L366.0 111.00 L366.6 111.00 L367.2 111.00 L367.8 109.50 L368.4 111.00 L369.0 111.00 L369.6 111.00 L370.2 111.00 L370.8 111.00 L371.4 111.00 L372.0 111.00 L372.6 111.00 L373.2 111.00 L373.8 111.00 L374.4 111.00 L375.0 111.00 L375.6 111.00 L376.2 111.00 L376.8 111.00 L377.4 111.00 L378.0 111.00 L378.6 111.00 L379.2 111.00 L379.8 109.00 L380.4 111.00 L381.0 111.00 L381.6 111.00 L382.2 109.50 L382.8 111.00 L383.4 111.00 L384.0 111.00 L384.6 111.00 L385.2 111.00 L385.8 111.00 L386.4 111.00 L387.0 111.00 L387.6 111.00 L388.2 111.00 L388.8 111.00 L389.4 111.00 L390.0 111.00 L390.6 111.00 L391.2 111.00 L391.8 111.00 L392.4 111.00 L393.0 109.80 L393.6 111.00 L394.2 111.00 L394.8 111.00 L395.4 111.00 L396.0 111.00 L396.6 111.00 L397.2 111.00 L397.8 111.00 L398.4 111.00 L399.0 111.00 L399.6 111.00 L400.2 111.00 L400.8 111.00 L401.4 111.00 L402.0 111.00 L402.6 111.00 L403.2 111.00 L403.8 111.00 L404.4 111.00 L405.0 109.50 L405.6 111.00 L406.2 111.00 L406.8 109.00 L407.4 111.00 L408.0 111.00 L408.6 111.00 L409.2 109.00 L409.8 111.00 L410.4 111.00 L411.0 109.00 L411.6 111.00 L412.2 110.98 L412.8 110.92 L413.4 110.86 L414.0 110.80 L414.6 110.74 L415.2 109.28 L415.8 109.92 L416.4 111.00 L417.0 111.00 L417.6 111.00 L418.2 109.12 L418.8 108.82 L419.4 109.40 L420.0 111.00 L420.6 109.92 L421.2 110.51 L421.8 109.42 L422.4 108.13 L423.0 110.23 L423.6 110.38 L424.2 107.72 L424.8 109.86 L425.4 109.52 L426.0 107.32 L426.6 108.42 L427.2 108.37 L427.8 111.00 L428.4 111.00 L429.0 109.62 L429.6 107.35 L430.2 106.86 L430.8 108.70 L431.4 108.90 L432.0 106.29 L432.6 109.18 L433.2 106.92 L433.8 103.73 L434.4 109.06 L435.0 107.15 L435.6 106.23 L436.2 105.52 L436.8 106.41 L437.4 104.42 L438.0 106.30 L438.6 104.56 L439.2 105.20 L439.8 101.98 L440.4 100.45 L441.0 105.15 L441.6 107.26 L442.2 103.28 L442.8 98.26 L443.4 97.30 L444.0 96.83 L444.6 98.06 L445.2 98.57 L445.8 100.45 L446.4 96.72 L447.0 101.25 L447.6 93.98 L448.2 95.64 L448.8 93.19 L449.4 97.59 L450.0 99.18 L450.6 91.16 L451.2 94.38 L451.8 100.73 L452.4 92.05 L453.0 93.02 L453.6 94.99 L454.2 90.94 L454.8 87.73 L455.4 89.33 L456.0 88.69 L456.6 96.11 L457.2 95.65 L457.8 91.25 L458.4 87.31 L459.0 95.30 L459.6 92.58 L460.2 86.27 L460.8 83.05 L461.4 90.17 L462.0 86.44 L462.6 87.52 L463.2 86.61 L463.8 82.55 L464.4 84.81 L465.0 89.18 L465.6 81.24 L466.2 81.38 L466.8 81.43 L467.4 85.50 L468.0 84.12 L468.6 74.60 L469.2 74.60 L469.8 81.36 L470.4 74.77 L471.0 86.89 L471.6 88.04 L472.2 77.13 L472.8 90.23 L473.4 83.87 L474.0 86.13 L474.6 86.72 L475.2 85.95 L475.8 84.13 L476.4 82.76 L477.0 89.79 L477.6 87.34 L478.2 87.91 L478.8 91.76 L479.4 94.20 L480.0 96.05 L480.6 88.70 L481.2 95.16 L481.8 96.47 L482.4 95.61 L483.0 101.56 L483.6 95.92 L484.2 96.10 L484.8 100.06 L485.4 100.01 L486.0 103.67 L486.6 99.85 L487.2 100.78 L487.8 101.72 L488.4 107.02 L489.0 107.87 L489.6 107.53 L490.2 110.64 L490.8 110.05 L491.4 108.89 L492.0 106.36 L492.6 106.73 L493.2 111.00 L493.8 107.46 L494.4 109.05 L495.0 110.96 L495.6 108.55 L496.2 109.58 L496.8 110.77 L497.4 110.95 L498.0 111.00 L498.6 111.00 L499.2 111.00 L499.8 109.50 L500.4 111.00 L501.0 111.00 L501.6 111.00 L502.2 111.00 L502.8 111.00 L503.4 111.00 L504.0 111.00 L504.6 111.00 L505.2 109.80 L505.8 111.00 L506.4 111.00 L507.0 111.00 L507.6 111.00 L508.2 111.00 L508.8 111.00 L509.4 111.00 L510.0 111.00 L510.6 111.00 L511.2 111.00 L511.8 111.00 L512.4 111.00 L513.0 111.00 L513.6 111.00 L514.2 111.00 L514.8 111.00 L515.4 111.00 L516.0 108.50" fill="none" stroke="#111" stroke-width="0.9" stroke-linejoin="round"/>
<line x1="297.0" y1="57.5" x2="297.0" y2="112.2" stroke="#4a4a4a" stroke-width="1.0"/><line x1="294.8" y1="111.00" x2="297.0" y2="111.00" stroke="#222" stroke-width="0.7"/><line x1="295.4" y1="108.86" x2="297.0" y2="108.86" stroke="#222" stroke-width="0.7"/><line x1="295.4" y1="106.72" x2="297.0" y2="106.72" stroke="#222" stroke-width="0.7"/><line x1="295.4" y1="104.58" x2="297.0" y2="104.58" stroke="#222" stroke-width="0.7"/><line x1="295.4" y1="102.44" x2="297.0" y2="102.44" stroke="#222" stroke-width="0.7"/><line x1="294.8" y1="100.30" x2="297.0" y2="100.30" stroke="#222" stroke-width="0.7"/><line x1="295.4" y1="98.16" x2="297.0" y2="98.16" stroke="#222" stroke-width="0.7"/><line x1="295.4" y1="96.02" x2="297.0" y2="96.02" stroke="#222" stroke-width="0.7"/><line x1="295.4" y1="93.88" x2="297.0" y2="93.88" stroke="#222" stroke-width="0.7"/><line x1="295.4" y1="91.74" x2="297.0" y2="91.74" stroke="#222" stroke-width="0.7"/><line x1="294.8" y1="89.60" x2="297.0" y2="89.60" stroke="#222" stroke-width="0.7"/><line x1="295.4" y1="87.46" x2="297.0" y2="87.46" stroke="#222" stroke-width="0.7"/><line x1="295.4" y1="85.32" x2="297.0" y2="85.32" stroke="#222" stroke-width="0.7"/><line x1="295.4" y1="83.18" x2="297.0" y2="83.18" stroke="#222" stroke-width="0.7"/><line x1="295.4" y1="81.04" x2="297.0" y2="81.04" stroke="#222" stroke-width="0.7"/><line x1="294.8" y1="78.90" x2="297.0" y2="78.90" stroke="#222" stroke-width="0.7"/><line x1="295.4" y1="76.76" x2="297.0" y2="76.76" stroke="#222" stroke-width="0.7"/><line x1="295.4" y1="74.62" x2="297.0" y2="74.62" stroke="#222" stroke-width="0.7"/><line x1="295.4" y1="72.48" x2="297.0" y2="72.48" stroke="#222" stroke-width="0.7"/><line x1="295.4" y1="70.34" x2="297.0" y2="70.34" stroke="#222" stroke-width="0.7"/><line x1="294.8" y1="68.20" x2="297.0" y2="68.20" stroke="#222" stroke-width="0.7"/><line x1="295.4" y1="66.06" x2="297.0" y2="66.06" stroke="#222" stroke-width="0.7"/><line x1="295.4" y1="63.92" x2="297.0" y2="63.92" stroke="#222" stroke-width="0.7"/><line x1="295.4" y1="61.78" x2="297.0" y2="61.78" stroke="#222" stroke-width="0.7"/><line x1="295.4" y1="59.64" x2="297.0" y2="59.64" stroke="#222" stroke-width="0.7"/><line x1="294.8" y1="57.50" x2="297.0" y2="57.50" stroke="#222" stroke-width="0.7"/>
<line x1="296.5" y1="111.2" x2="516.5" y2="111.2" stroke="#222" stroke-width="0.9"/><line x1="297.00" y1="111.0" x2="297.00" y2="113.4" stroke="#222" stroke-width="0.5"/><line x1="313.48" y1="111.0" x2="313.48" y2="112.3" stroke="#222" stroke-width="0.5"/><line x1="323.12" y1="111.0" x2="323.12" y2="112.3" stroke="#222" stroke-width="0.5"/><line x1="329.96" y1="111.0" x2="329.96" y2="112.3" stroke="#222" stroke-width="0.5"/><line x1="335.27" y1="111.0" x2="335.27" y2="112.3" stroke="#222" stroke-width="0.5"/><line x1="339.60" y1="111.0" x2="339.60" y2="112.3" stroke="#222" stroke-width="0.5"/><line x1="343.27" y1="111.0" x2="343.27" y2="112.3" stroke="#222" stroke-width="0.5"/><line x1="346.44" y1="111.0" x2="346.44" y2="112.3" stroke="#222" stroke-width="0.5"/><line x1="349.24" y1="111.0" x2="349.24" y2="112.3" stroke="#222" stroke-width="0.5"/><line x1="351.75" y1="111.0" x2="351.75" y2="113.4" stroke="#222" stroke-width="0.5"/><line x1="368.23" y1="111.0" x2="368.23" y2="112.3" stroke="#222" stroke-width="0.5"/><line x1="377.87" y1="111.0" x2="377.87" y2="112.3" stroke="#222" stroke-width="0.5"/><line x1="384.71" y1="111.0" x2="384.71" y2="112.3" stroke="#222" stroke-width="0.5"/><line x1="390.02" y1="111.0" x2="390.02" y2="112.3" stroke="#222" stroke-width="0.5"/><line x1="394.35" y1="111.0" x2="394.35" y2="112.3" stroke="#222" stroke-width="0.5"/><line x1="398.02" y1="111.0" x2="398.02" y2="112.3" stroke="#222" stroke-width="0.5"/><line x1="401.19" y1="111.0" x2="401.19" y2="112.3" stroke="#222" stroke-width="0.5"/><line x1="403.99" y1="111.0" x2="403.99" y2="112.3" stroke="#222" stroke-width="0.5"/><line x1="406.50" y1="111.0" x2="406.50" y2="113.4" stroke="#222" stroke-width="0.5"/><line x1="422.98" y1="111.0" x2="422.98" y2="112.3" stroke="#222" stroke-width="0.5"/><line x1="432.62" y1="111.0" x2="432.62" y2="112.3" stroke="#222" stroke-width="0.5"/><line x1="439.46" y1="111.0" x2="439.46" y2="112.3" stroke="#222" stroke-width="0.5"/><line x1="444.77" y1="111.0" x2="444.77" y2="112.3" stroke="#222" stroke-width="0.5"/><line x1="449.10" y1="111.0" x2="449.10" y2="112.3" stroke="#222" stroke-width="0.5"/><line x1="452.77" y1="111.0" x2="452.77" y2="112.3" stroke="#222" stroke-width="0.5"/><line x1="455.94" y1="111.0" x2="455.94" y2="112.3" stroke="#222" stroke-width="0.5"/><line x1="458.74" y1="111.0" x2="458.74" y2="112.3" stroke="#222" stroke-width="0.5"/><line x1="461.25" y1="111.0" x2="461.25" y2="113.4" stroke="#222" stroke-width="0.5"/><line x1="477.73" y1="111.0" x2="477.73" y2="112.3" stroke="#222" stroke-width="0.5"/><line x1="487.37" y1="111.0" x2="487.37" y2="112.3" stroke="#222" stroke-width="0.5"/><line x1="494.21" y1="111.0" x2="494.21" y2="112.3" stroke="#222" stroke-width="0.5"/><line x1="499.52" y1="111.0" x2="499.52" y2="112.3" stroke="#222" stroke-width="0.5"/><line x1="503.85" y1="111.0" x2="503.85" y2="112.3" stroke="#222" stroke-width="0.5"/><line x1="507.52" y1="111.0" x2="507.52" y2="112.3" stroke="#222" stroke-width="0.5"/><line x1="510.69" y1="111.0" x2="510.69" y2="112.3" stroke="#222" stroke-width="0.5"/><line x1="513.49" y1="111.0" x2="513.49" y2="112.3" stroke="#222" stroke-width="0.5"/><line x1="516.00" y1="111.0" x2="516.00" y2="113.4" stroke="#222" stroke-width="0.5"/><text class="sn" transform="translate(296.6,121.3) scale(0.82,1)" font-size="6.4" text-anchor="middle" fill="#222">10<tspan dy="-3.3" font-size="5.1">0</tspan></text><text class="sn" transform="translate(351.4,121.3) scale(0.82,1)" font-size="6.4" text-anchor="middle" fill="#222">10<tspan dy="-3.3" font-size="5.1">1</tspan></text><text class="sn" transform="translate(406.1,121.3) scale(0.82,1)" font-size="6.4" text-anchor="middle" fill="#222">10<tspan dy="-3.3" font-size="5.1">2</tspan></text><text class="sn" transform="translate(460.9,121.3) scale(0.82,1)" font-size="6.4" text-anchor="middle" fill="#222">10<tspan dy="-3.3" font-size="5.1">3</tspan></text><text class="sn" transform="translate(515.6,121.3) scale(0.82,1)" font-size="6.4" text-anchor="middle" fill="#222">10<tspan dy="-3.3" font-size="5.1">4</tspan></text>
<line x1="367.5" y1="66.5" x2="517.5" y2="66.5" stroke="#505050" stroke-width="1"/><line x1="367.5" y1="61.5" x2="367.5" y2="71.0" stroke="#222" stroke-width="1"/><text x="445.0" y="64.5" class="sf pc" font-size="19.4" text-anchor="middle" fill="#000">98.8%</text>
<path d="M297.0 187.0 L297.0 187.00 L297.6 178.00 L298.2 187.00 L298.8 185.45 L299.4 184.59 L300.0 186.63 L300.6 184.42 L301.2 183.38 L301.8 185.80 L302.4 184.11 L303.0 185.10 L303.6 185.74 L304.2 184.69 L304.8 185.03 L305.4 186.66 L306.0 183.62 L306.6 186.57 L307.2 186.12 L307.8 187.00 L308.4 186.11 L309.0 186.38 L309.6 183.92 L310.2 185.85 L310.8 185.93 L311.4 184.95 L312.0 183.59 L312.6 183.97 L313.2 187.00 L313.8 185.43 L314.4 184.77 L315.0 186.09 L315.6 183.76 L316.2 182.88 L316.8 183.58 L317.4 185.43 L318.0 183.65 L318.6 185.33 L319.2 185.06 L319.8 186.31 L320.4 183.40 L321.0 186.88 L321.6 182.20 L322.2 184.32 L322.8 183.76 L323.4 183.81 L324.0 183.74 L324.6 183.81 L325.2 182.77 L325.8 183.15 L326.4 186.65 L327.0 181.68 L327.6 182.58 L328.2 182.11 L328.8 181.49 L329.4 182.33 L330.0 183.80 L330.6 186.18 L331.2 181.25 L331.8 182.42 L332.4 184.38 L333.0 182.93 L333.6 181.47 L334.2 181.90 L334.8 182.17 L335.4 180.81 L336.0 182.13 L336.6 181.60 L337.2 184.87 L337.8 183.64 L338.4 181.25 L339.0 182.52 L339.6 182.41 L340.2 183.02 L340.8 185.39 L341.4 183.06 L342.0 180.88 L342.6 183.51 L343.2 184.30 L343.8 181.12 L344.4 181.86 L345.0 184.06 L345.6 183.49 L346.2 180.17 L346.8 182.29 L347.4 185.27 L348.0 179.58 L348.6 179.62 L349.2 181.75 L349.8 183.01 L350.4 183.12 L351.0 181.55 L351.6 185.29 L352.2 183.69 L352.8 185.40 L353.4 181.81 L354.0 180.25 L354.6 182.45 L355.2 185.37 L355.8 184.27 L356.4 185.35 L357.0 184.09 L357.6 182.04 L358.2 182.04 L358.8 182.86 L359.4 183.15 L360.0 185.45 L360.6 183.81 L361.2 184.94 L361.8 182.59 L362.4 185.56 L363.0 180.56 L363.6 180.60 L364.2 182.79 L364.8 182.63 L365.4 184.68 L366.0 182.49 L366.6 184.45 L367.2 182.35 L367.8 180.87 L368.4 182.26 L369.0 185.56 L369.6 183.38 L370.2 185.90 L370.8 184.95 L371.4 182.86 L372.0 181.65 L372.6 183.77 L373.2 183.49 L373.8 182.44 L374.4 182.18 L375.0 181.01 L375.6 182.35 L376.2 182.38 L376.8 183.25 L377.4 186.18 L378.0 182.71 L378.6 181.55 L379.2 181.79 L379.8 183.29 L380.4 182.82 L381.0 182.97 L381.6 182.84 L382.2 183.00 L382.8 185.45 L383.4 180.47 L384.0 183.08 L384.6 180.39 L385.2 182.10 L385.8 182.75 L386.4 182.61 L387.0 183.71 L387.6 182.77 L388.2 182.95 L388.8 182.11 L389.4 181.47 L390.0 181.54 L390.6 182.77 L391.2 182.08 L391.8 181.99 L392.4 183.55 L393.0 180.17 L393.6 183.10 L394.2 183.50 L394.8 181.78 L395.4 181.10 L396.0 185.28 L396.6 183.85 L397.2 181.56 L397.8 179.91 L398.4 180.61 L399.0 182.20 L399.6 182.59 L400.2 180.02 L400.8 180.71 L401.4 181.90 L402.0 182.75 L402.6 180.91 L403.2 180.75 L403.8 182.37 L404.4 177.43 L405.0 177.27 L405.6 179.35 L406.2 179.83 L406.8 180.73 L407.4 177.23 L408.0 181.80 L408.6 176.34 L409.2 176.91 L409.8 180.08 L410.4 180.06 L411.0 175.71 L411.6 178.32 L412.2 180.59 L412.8 176.98 L413.4 178.76 L414.0 178.80 L414.6 179.73 L415.2 175.28 L415.8 175.90 L416.4 179.90 L417.0 177.64 L417.6 176.59 L418.2 176.06 L418.8 173.08 L419.4 172.68 L420.0 176.34 L420.6 174.12 L421.2 174.49 L421.8 175.75 L422.4 176.27 L423.0 174.18 L423.6 174.83 L424.2 173.32 L424.8 170.10 L425.4 175.53 L426.0 173.73 L426.6 171.32 L427.2 167.35 L427.8 170.70 L428.4 171.54 L429.0 167.78 L429.6 173.02 L430.2 162.34 L430.8 169.47 L431.4 165.35 L432.0 168.58 L432.6 166.82 L433.2 162.66 L433.8 159.74 L434.4 161.72 L435.0 160.92 L435.6 160.62 L436.2 159.86 L436.8 162.53 L437.4 153.19 L438.0 161.55 L438.6 161.69 L439.2 158.45 L439.8 156.95 L440.4 160.30 L441.0 160.11 L441.6 159.80 L442.2 163.14 L442.8 155.85 L443.4 157.18 L444.0 163.43 L444.6 162.06 L445.2 157.32 L445.8 161.96 L446.4 159.53 L447.0 162.65 L447.6 160.93 L448.2 164.85 L448.8 161.54 L449.4 162.65 L450.0 166.05 L450.6 167.06 L451.2 162.71 L451.8 163.84 L452.4 156.73 L453.0 164.37 L453.6 160.77 L454.2 165.14 L454.8 171.98 L455.4 170.63 L456.0 170.19 L456.6 169.10 L457.2 168.90 L457.8 168.58 L458.4 173.38 L459.0 169.97 L459.6 173.69 L460.2 171.06 L460.8 172.96 L461.4 173.68 L462.0 176.66 L462.6 177.56 L463.2 174.86 L463.8 178.21 L464.4 179.00 L465.0 178.09 L465.6 179.55 L466.2 179.66 L466.8 179.13 L467.4 179.49 L468.0 183.04 L468.6 181.92 L469.2 183.75 L469.8 184.66 L470.4 183.16 L471.0 184.35 L471.6 185.64 L472.2 184.51 L472.8 185.23 L473.4 185.61 L474.0 184.67 L474.6 186.74 L475.2 187.00 L475.8 187.00 L476.4 187.00 L477.0 187.00 L477.6 187.00 L478.2 187.00 L478.8 187.00 L479.4 187.00 L480.0 187.00 L480.6 187.00 L481.2 187.00 L481.8 187.00 L482.4 187.00 L483.0 187.00 L483.6 187.00 L484.2 187.00 L484.8 187.00 L485.4 187.00 L486.0 187.00 L486.6 187.00 L487.2 187.00 L487.8 187.00 L488.4 187.00 L489.0 187.00 L489.6 187.00 L490.2 187.00 L490.8 187.00 L491.4 187.00 L492.0 187.00 L492.6 187.00 L493.2 187.00 L493.8 187.00 L494.4 187.00 L495.0 187.00 L495.6 187.00 L496.2 187.00 L496.8 187.00 L497.4 187.00 L498.0 187.00 L498.6 187.00 L499.2 187.00 L499.8 187.00 L500.4 187.00 L501.0 187.00 L501.6 187.00 L502.2 187.00 L502.8 187.00 L503.4 187.00 L504.0 187.00 L504.6 187.00 L505.2 187.00 L505.8 187.00 L506.4 187.00 L507.0 187.00 L507.6 187.00 L508.2 187.00 L508.8 187.00 L509.4 187.00 L510.0 187.00 L510.6 187.00 L511.2 187.00 L511.8 187.00 L512.4 187.00 L513.0 187.00 L513.6 187.00 L514.2 187.00 L514.8 187.00 L515.4 187.00 L516.0 187.00 L516.0 187.0 Z" fill="#9a9a9a" stroke="none"/><path d="M297.0 187.00 L297.6 178.00 L298.2 187.00 L298.8 185.45 L299.4 184.59 L300.0 186.63 L300.6 184.42 L301.2 183.38 L301.8 185.80 L302.4 184.11 L303.0 185.10 L303.6 185.74 L304.2 184.69 L304.8 185.03 L305.4 186.66 L306.0 183.62 L306.6 186.57 L307.2 186.12 L307.8 187.00 L308.4 186.11 L309.0 186.38 L309.6 183.92 L310.2 185.85 L310.8 185.93 L311.4 184.95 L312.0 183.59 L312.6 183.97 L313.2 187.00 L313.8 185.43 L314.4 184.77 L315.0 186.09 L315.6 183.76 L316.2 182.88 L316.8 183.58 L317.4 185.43 L318.0 183.65 L318.6 185.33 L319.2 185.06 L319.8 186.31 L320.4 183.40 L321.0 186.88 L321.6 182.20 L322.2 184.32 L322.8 183.76 L323.4 183.81 L324.0 183.74 L324.6 183.81 L325.2 182.77 L325.8 183.15 L326.4 186.65 L327.0 181.68 L327.6 182.58 L328.2 182.11 L328.8 181.49 L329.4 182.33 L330.0 183.80 L330.6 186.18 L331.2 181.25 L331.8 182.42 L332.4 184.38 L333.0 182.93 L333.6 181.47 L334.2 181.90 L334.8 182.17 L335.4 180.81 L336.0 182.13 L336.6 181.60 L337.2 184.87 L337.8 183.64 L338.4 181.25 L339.0 182.52 L339.6 182.41 L340.2 183.02 L340.8 185.39 L341.4 183.06 L342.0 180.88 L342.6 183.51 L343.2 184.30 L343.8 181.12 L344.4 181.86 L345.0 184.06 L345.6 183.49 L346.2 180.17 L346.8 182.29 L347.4 185.27 L348.0 179.58 L348.6 179.62 L349.2 181.75 L349.8 183.01 L350.4 183.12 L351.0 181.55 L351.6 185.29 L352.2 183.69 L352.8 185.40 L353.4 181.81 L354.0 180.25 L354.6 182.45 L355.2 185.37 L355.8 184.27 L356.4 185.35 L357.0 184.09 L357.6 182.04 L358.2 182.04 L358.8 182.86 L359.4 183.15 L360.0 185.45 L360.6 183.81 L361.2 184.94 L361.8 182.59 L362.4 185.56 L363.0 180.56 L363.6 180.60 L364.2 182.79 L364.8 182.63 L365.4 184.68 L366.0 182.49 L366.6 184.45 L367.2 182.35 L367.8 180.87 L368.4 182.26 L369.0 185.56 L369.6 183.38 L370.2 185.90 L370.8 184.95 L371.4 182.86 L372.0 181.65 L372.6 183.77 L373.2 183.49 L373.8 182.44 L374.4 182.18 L375.0 181.01 L375.6 182.35 L376.2 182.38 L376.8 183.25 L377.4 186.18 L378.0 182.71 L378.6 181.55 L379.2 181.79 L379.8 183.29 L380.4 182.82 L381.0 182.97 L381.6 182.84 L382.2 183.00 L382.8 185.45 L383.4 180.47 L384.0 183.08 L384.6 180.39 L385.2 182.10 L385.8 182.75 L386.4 182.61 L387.0 183.71 L387.6 182.77 L388.2 182.95 L388.8 182.11 L389.4 181.47 L390.0 181.54 L390.6 182.77 L391.2 182.08 L391.8 181.99 L392.4 183.55 L393.0 180.17 L393.6 183.10 L394.2 183.50 L394.8 181.78 L395.4 181.10 L396.0 185.28 L396.6 183.85 L397.2 181.56 L397.8 179.91 L398.4 180.61 L399.0 182.20 L399.6 182.59 L400.2 180.02 L400.8 180.71 L401.4 181.90 L402.0 182.75 L402.6 180.91 L403.2 180.75 L403.8 182.37 L404.4 177.43 L405.0 177.27 L405.6 179.35 L406.2 179.83 L406.8 180.73 L407.4 177.23 L408.0 181.80 L408.6 176.34 L409.2 176.91 L409.8 180.08 L410.4 180.06 L411.0 175.71 L411.6 178.32 L412.2 180.59 L412.8 176.98 L413.4 178.76 L414.0 178.80 L414.6 179.73 L415.2 175.28 L415.8 175.90 L416.4 179.90 L417.0 177.64 L417.6 176.59 L418.2 176.06 L418.8 173.08 L419.4 172.68 L420.0 176.34 L420.6 174.12 L421.2 174.49 L421.8 175.75 L422.4 176.27 L423.0 174.18 L423.6 174.83 L424.2 173.32 L424.8 170.10 L425.4 175.53 L426.0 173.73 L426.6 171.32 L427.2 167.35 L427.8 170.70 L428.4 171.54 L429.0 167.78 L429.6 173.02 L430.2 162.34 L430.8 169.47 L431.4 165.35 L432.0 168.58 L432.6 166.82 L433.2 162.66 L433.8 159.74 L434.4 161.72 L435.0 160.92 L435.6 160.62 L436.2 159.86 L436.8 162.53 L437.4 153.19 L438.0 161.55 L438.6 161.69 L439.2 158.45 L439.8 156.95 L440.4 160.30 L441.0 160.11 L441.6 159.80 L442.2 163.14 L442.8 155.85 L443.4 157.18 L444.0 163.43 L444.6 162.06 L445.2 157.32 L445.8 161.96 L446.4 159.53 L447.0 162.65 L447.6 160.93 L448.2 164.85 L448.8 161.54 L449.4 162.65 L450.0 166.05 L450.6 167.06 L451.2 162.71 L451.8 163.84 L452.4 156.73 L453.0 164.37 L453.6 160.77 L454.2 165.14 L454.8 171.98 L455.4 170.63 L456.0 170.19 L456.6 169.10 L457.2 168.90 L457.8 168.58 L458.4 173.38 L459.0 169.97 L459.6 173.69 L460.2 171.06 L460.8 172.96 L461.4 173.68 L462.0 176.66 L462.6 177.56 L463.2 174.86 L463.8 178.21 L464.4 179.00 L465.0 178.09 L465.6 179.55 L466.2 179.66 L466.8 179.13 L467.4 179.49 L468.0 183.04 L468.6 181.92 L469.2 183.75 L469.8 184.66 L470.4 183.16 L471.0 184.35 L471.6 185.64 L472.2 184.51 L472.8 185.23 L473.4 185.61 L474.0 184.67 L474.6 186.74 L475.2 187.00 L475.8 187.00 L476.4 187.00 L477.0 187.00 L477.6 187.00 L478.2 187.00 L478.8 187.00 L479.4 187.00 L480.0 187.00 L480.6 187.00 L481.2 187.00 L481.8 187.00 L482.4 187.00 L483.0 187.00 L483.6 187.00 L484.2 187.00 L484.8 187.00 L485.4 187.00 L486.0 187.00 L486.6 187.00 L487.2 187.00 L487.8 187.00 L488.4 187.00 L489.0 187.00 L489.6 187.00 L490.2 187.00 L490.8 187.00 L491.4 187.00 L492.0 187.00 L492.6 187.00 L493.2 187.00 L493.8 187.00 L494.4 187.00 L495.0 187.00 L495.6 187.00 L496.2 187.00 L496.8 187.00 L497.4 187.00 L498.0 187.00 L498.6 187.00 L499.2 187.00 L499.8 187.00 L500.4 187.00 L501.0 187.00 L501.6 187.00 L502.2 187.00 L502.8 187.00 L503.4 187.00 L504.0 187.00 L504.6 187.00 L505.2 187.00 L505.8 187.00 L506.4 187.00 L507.0 187.00 L507.6 187.00 L508.2 187.00 L508.8 187.00 L509.4 187.00 L510.0 187.00 L510.6 187.00 L511.2 187.00 L511.8 187.00 L512.4 187.00 L513.0 187.00 L513.6 187.00 L514.2 187.00 L514.8 187.00 L515.4 187.00 L516.0 187.00" fill="none" stroke="#111" stroke-width="0.9" stroke-linejoin="round"/>
<line x1="297.0" y1="135.0" x2="297.0" y2="188.2" stroke="#4a4a4a" stroke-width="1.0"/><line x1="294.8" y1="187.00" x2="297.0" y2="187.00" stroke="#222" stroke-width="0.7"/><line x1="295.4" y1="184.92" x2="297.0" y2="184.92" stroke="#222" stroke-width="0.7"/><line x1="295.4" y1="182.84" x2="297.0" y2="182.84" stroke="#222" stroke-width="0.7"/><line x1="295.4" y1="180.76" x2="297.0" y2="180.76" stroke="#222" stroke-width="0.7"/><line x1="295.4" y1="178.68" x2="297.0" y2="178.68" stroke="#222" stroke-width="0.7"/><line x1="294.8" y1="176.60" x2="297.0" y2="176.60" stroke="#222" stroke-width="0.7"/><line x1="295.4" y1="174.52" x2="297.0" y2="174.52" stroke="#222" stroke-width="0.7"/><line x1="295.4" y1="172.44" x2="297.0" y2="172.44" stroke="#222" stroke-width="0.7"/><line x1="295.4" y1="170.36" x2="297.0" y2="170.36" stroke="#222" stroke-width="0.7"/><line x1="295.4" y1="168.28" x2="297.0" y2="168.28" stroke="#222" stroke-width="0.7"/><line x1="294.8" y1="166.20" x2="297.0" y2="166.20" stroke="#222" stroke-width="0.7"/><line x1="295.4" y1="164.12" x2="297.0" y2="164.12" stroke="#222" stroke-width="0.7"/><line x1="295.4" y1="162.04" x2="297.0" y2="162.04" stroke="#222" stroke-width="0.7"/><line x1="295.4" y1="159.96" x2="297.0" y2="159.96" stroke="#222" stroke-width="0.7"/><line x1="295.4" y1="157.88" x2="297.0" y2="157.88" stroke="#222" stroke-width="0.7"/><line x1="294.8" y1="155.80" x2="297.0" y2="155.80" stroke="#222" stroke-width="0.7"/><line x1="295.4" y1="153.72" x2="297.0" y2="153.72" stroke="#222" stroke-width="0.7"/><line x1="295.4" y1="151.64" x2="297.0" y2="151.64" stroke="#222" stroke-width="0.7"/><line x1="295.4" y1="149.56" x2="297.0" y2="149.56" stroke="#222" stroke-width="0.7"/><line x1="295.4" y1="147.48" x2="297.0" y2="147.48" stroke="#222" stroke-width="0.7"/><line x1="294.8" y1="145.40" x2="297.0" y2="145.40" stroke="#222" stroke-width="0.7"/><line x1="295.4" y1="143.32" x2="297.0" y2="143.32" stroke="#222" stroke-width="0.7"/><line x1="295.4" y1="141.24" x2="297.0" y2="141.24" stroke="#222" stroke-width="0.7"/><line x1="295.4" y1="139.16" x2="297.0" y2="139.16" stroke="#222" stroke-width="0.7"/><line x1="295.4" y1="137.08" x2="297.0" y2="137.08" stroke="#222" stroke-width="0.7"/><line x1="294.8" y1="135.00" x2="297.0" y2="135.00" stroke="#222" stroke-width="0.7"/>
<line x1="296.5" y1="187.2" x2="516.5" y2="187.2" stroke="#222" stroke-width="0.9"/><line x1="297.00" y1="187.0" x2="297.00" y2="189.4" stroke="#222" stroke-width="0.5"/><line x1="313.48" y1="187.0" x2="313.48" y2="188.3" stroke="#222" stroke-width="0.5"/><line x1="323.12" y1="187.0" x2="323.12" y2="188.3" stroke="#222" stroke-width="0.5"/><line x1="329.96" y1="187.0" x2="329.96" y2="188.3" stroke="#222" stroke-width="0.5"/><line x1="335.27" y1="187.0" x2="335.27" y2="188.3" stroke="#222" stroke-width="0.5"/><line x1="339.60" y1="187.0" x2="339.60" y2="188.3" stroke="#222" stroke-width="0.5"/><line x1="343.27" y1="187.0" x2="343.27" y2="188.3" stroke="#222" stroke-width="0.5"/><line x1="346.44" y1="187.0" x2="346.44" y2="188.3" stroke="#222" stroke-width="0.5"/><line x1="349.24" y1="187.0" x2="349.24" y2="188.3" stroke="#222" stroke-width="0.5"/><line x1="351.75" y1="187.0" x2="351.75" y2="189.4" stroke="#222" stroke-width="0.5"/><line x1="368.23" y1="187.0" x2="368.23" y2="188.3" stroke="#222" stroke-width="0.5"/><line x1="377.87" y1="187.0" x2="377.87" y2="188.3" stroke="#222" stroke-width="0.5"/><line x1="384.71" y1="187.0" x2="384.71" y2="188.3" stroke="#222" stroke-width="0.5"/><line x1="390.02" y1="187.0" x2="390.02" y2="188.3" stroke="#222" stroke-width="0.5"/><line x1="394.35" y1="187.0" x2="394.35" y2="188.3" stroke="#222" stroke-width="0.5"/><line x1="398.02" y1="187.0" x2="398.02" y2="188.3" stroke="#222" stroke-width="0.5"/><line x1="401.19" y1="187.0" x2="401.19" y2="188.3" stroke="#222" stroke-width="0.5"/><line x1="403.99" y1="187.0" x2="403.99" y2="188.3" stroke="#222" stroke-width="0.5"/><line x1="406.50" y1="187.0" x2="406.50" y2="189.4" stroke="#222" stroke-width="0.5"/><line x1="422.98" y1="187.0" x2="422.98" y2="188.3" stroke="#222" stroke-width="0.5"/><line x1="432.62" y1="187.0" x2="432.62" y2="188.3" stroke="#222" stroke-width="0.5"/><line x1="439.46" y1="187.0" x2="439.46" y2="188.3" stroke="#222" stroke-width="0.5"/><line x1="444.77" y1="187.0" x2="444.77" y2="188.3" stroke="#222" stroke-width="0.5"/><line x1="449.10" y1="187.0" x2="449.10" y2="188.3" stroke="#222" stroke-width="0.5"/><line x1="452.77" y1="187.0" x2="452.77" y2="188.3" stroke="#222" stroke-width="0.5"/><line x1="455.94" y1="187.0" x2="455.94" y2="188.3" stroke="#222" stroke-width="0.5"/><line x1="458.74" y1="187.0" x2="458.74" y2="188.3" stroke="#222" stroke-width="0.5"/><line x1="461.25" y1="187.0" x2="461.25" y2="189.4" stroke="#222" stroke-width="0.5"/><line x1="477.73" y1="187.0" x2="477.73" y2="188.3" stroke="#222" stroke-width="0.5"/><line x1="487.37" y1="187.0" x2="487.37" y2="188.3" stroke="#222" stroke-width="0.5"/><line x1="494.21" y1="187.0" x2="494.21" y2="188.3" stroke="#222" stroke-width="0.5"/><line x1="499.52" y1="187.0" x2="499.52" y2="188.3" stroke="#222" stroke-width="0.5"/><line x1="503.85" y1="187.0" x2="503.85" y2="188.3" stroke="#222" stroke-width="0.5"/><line x1="507.52" y1="187.0" x2="507.52" y2="188.3" stroke="#222" stroke-width="0.5"/><line x1="510.69" y1="187.0" x2="510.69" y2="188.3" stroke="#222" stroke-width="0.5"/><line x1="513.49" y1="187.0" x2="513.49" y2="188.3" stroke="#222" stroke-width="0.5"/><line x1="516.00" y1="187.0" x2="516.00" y2="189.4" stroke="#222" stroke-width="0.5"/><text class="sn" transform="translate(296.6,197.3) scale(0.82,1)" font-size="6.4" text-anchor="middle" fill="#222">10<tspan dy="-3.3" font-size="5.1">0</tspan></text><text class="sn" transform="translate(351.4,197.3) scale(0.82,1)" font-size="6.4" text-anchor="middle" fill="#222">10<tspan dy="-3.3" font-size="5.1">1</tspan></text><text class="sn" transform="translate(406.1,197.3) scale(0.82,1)" font-size="6.4" text-anchor="middle" fill="#222">10<tspan dy="-3.3" font-size="5.1">2</tspan></text><text class="sn" transform="translate(460.9,197.3) scale(0.82,1)" font-size="6.4" text-anchor="middle" fill="#222">10<tspan dy="-3.3" font-size="5.1">3</tspan></text><text class="sn" transform="translate(515.6,197.3) scale(0.82,1)" font-size="6.4" text-anchor="middle" fill="#222">10<tspan dy="-3.3" font-size="5.1">4</tspan></text>
<line x1="359.5" y1="145.5" x2="516.5" y2="145.5" stroke="#505050" stroke-width="1"/><line x1="359.5" y1="140.7" x2="359.5" y2="150.3" stroke="#222" stroke-width="1"/><line x1="516.5" y1="135.0" x2="516.5" y2="187.0" stroke="#222" stroke-width="1"/><text x="445.0" y="143.7" class="sf pc" font-size="19.4" text-anchor="middle" fill="#000">88.1%</text>
<path d="M297.0 263.0 L297.0 263.00 L297.6 259.00 L298.2 262.96 L298.8 262.94 L299.4 262.93 L300.0 262.91 L300.6 262.89 L301.2 262.87 L301.8 262.85 L302.4 262.83 L303.0 261.00 L303.6 262.80 L304.2 262.78 L304.8 262.76 L305.4 262.74 L306.0 262.72 L306.6 262.70 L307.2 262.52 L307.8 262.36 L308.4 260.91 L309.0 263.00 L309.6 261.82 L310.2 263.00 L310.8 262.75 L311.4 260.91 L312.0 260.83 L312.6 263.00 L313.2 260.50 L313.8 263.00 L314.4 263.00 L315.0 260.67 L315.6 261.38 L316.2 263.00 L316.8 263.00 L317.4 261.10 L318.0 260.50 L318.6 262.99 L319.2 261.64 L319.8 261.23 L320.4 263.00 L321.0 261.79 L321.6 259.52 L322.2 263.00 L322.8 260.56 L323.4 261.66 L324.0 262.36 L324.6 262.63 L325.2 261.00 L325.8 263.00 L326.4 261.56 L327.0 261.20 L327.6 262.16 L328.2 263.00 L328.8 259.86 L329.4 259.28 L330.0 260.00 L330.6 262.37 L331.2 261.18 L331.8 259.20 L332.4 263.00 L333.0 262.27 L333.6 261.98 L334.2 261.11 L334.8 260.47 L335.4 262.67 L336.0 260.00 L336.6 259.06 L337.2 260.66 L337.8 259.37 L338.4 262.16 L339.0 260.37 L339.6 263.00 L340.2 263.00 L340.8 260.73 L341.4 263.00 L342.0 262.20 L342.6 261.79 L343.2 261.75 L343.8 260.89 L344.4 261.29 L345.0 261.57 L345.6 258.61 L346.2 263.00 L346.8 258.82 L347.4 261.47 L348.0 262.38 L348.6 261.70 L349.2 261.51 L349.8 263.00 L350.4 259.95 L351.0 263.00 L351.6 258.37 L352.2 259.60 L352.8 261.88 L353.4 258.56 L354.0 261.45 L354.6 262.19 L355.2 261.82 L355.8 260.93 L356.4 261.90 L357.0 260.69 L357.6 262.03 L358.2 260.06 L358.8 263.00 L359.4 260.85 L360.0 261.39 L360.6 259.49 L361.2 261.15 L361.8 262.03 L362.4 260.71 L363.0 257.40 L363.6 262.60 L364.2 260.62 L364.8 259.91 L365.4 259.09 L366.0 257.62 L366.6 259.84 L367.2 258.24 L367.8 261.56 L368.4 259.27 L369.0 260.41 L369.6 259.52 L370.2 259.08 L370.8 259.41 L371.4 259.57 L372.0 260.07 L372.6 259.52 L373.2 262.21 L373.8 261.42 L374.4 261.62 L375.0 261.12 L375.6 262.98 L376.2 256.82 L376.8 258.51 L377.4 262.61 L378.0 261.14 L378.6 259.39 L379.2 260.25 L379.8 259.39 L380.4 260.16 L381.0 261.20 L381.6 262.68 L382.2 260.57 L382.8 258.55 L383.4 260.82 L384.0 258.29 L384.6 258.15 L385.2 263.00 L385.8 261.79 L386.4 258.35 L387.0 260.92 L387.6 260.79 L388.2 257.45 L388.8 259.42 L389.4 260.05 L390.0 254.80 L390.6 262.09 L391.2 257.21 L391.8 258.85 L392.4 258.15 L393.0 261.30 L393.6 256.82 L394.2 252.90 L394.8 255.87 L395.4 258.72 L396.0 255.87 L396.6 256.99 L397.2 255.77 L397.8 260.84 L398.4 256.25 L399.0 255.94 L399.6 258.29 L400.2 254.39 L400.8 251.87 L401.4 258.58 L402.0 255.52 L402.6 255.87 L403.2 251.67 L403.8 259.38 L404.4 256.14 L405.0 253.37 L405.6 256.29 L406.2 255.67 L406.8 256.82 L407.4 255.50 L408.0 254.03 L408.6 253.01 L409.2 259.24 L409.8 255.78 L410.4 254.76 L411.0 258.46 L411.6 254.76 L412.2 249.15 L412.8 256.07 L413.4 255.39 L414.0 255.39 L414.6 252.20 L415.2 257.30 L415.8 250.51 L416.4 252.82 L417.0 248.97 L417.6 251.44 L418.2 248.22 L418.8 250.37 L419.4 250.18 L420.0 242.06 L420.6 248.30 L421.2 253.64 L421.8 249.61 L422.4 244.48 L423.0 252.84 L423.6 245.66 L424.2 242.08 L424.8 246.47 L425.4 246.14 L426.0 236.18 L426.6 242.07 L427.2 240.12 L427.8 244.34 L428.4 246.58 L429.0 245.39 L429.6 245.27 L430.2 246.08 L430.8 244.48 L431.4 244.05 L432.0 245.97 L432.6 241.22 L433.2 237.77 L433.8 245.48 L434.4 242.86 L435.0 245.48 L435.6 241.72 L436.2 238.08 L436.8 241.87 L437.4 242.77 L438.0 241.10 L438.6 242.34 L439.2 242.04 L439.8 241.89 L440.4 240.17 L441.0 242.72 L441.6 246.07 L442.2 250.68 L442.8 251.36 L443.4 246.40 L444.0 256.80 L444.6 255.13 L445.2 259.37 L445.8 251.82 L446.4 258.53 L447.0 253.15 L447.6 253.22 L448.2 253.70 L448.8 254.21 L449.4 260.75 L450.0 259.85 L450.6 255.76 L451.2 256.29 L451.8 261.04 L452.4 257.31 L453.0 260.95 L453.6 260.23 L454.2 262.31 L454.8 261.21 L455.4 263.00 L456.0 262.08 L456.6 260.84 L457.2 262.70 L457.8 262.80 L458.4 262.90 L459.0 263.00 L459.6 263.00 L460.2 263.00 L460.8 263.00 L461.4 263.00 L462.0 263.00 L462.6 263.00 L463.2 263.00 L463.8 263.00 L464.4 263.00 L465.0 263.00 L465.6 263.00 L466.2 263.00 L466.8 263.00 L467.4 263.00 L468.0 263.00 L468.6 263.00 L469.2 263.00 L469.8 263.00 L470.4 263.00 L471.0 263.00 L471.6 263.00 L472.2 263.00 L472.8 263.00 L473.4 263.00 L474.0 263.00 L474.6 263.00 L475.2 263.00 L475.8 263.00 L476.4 263.00 L477.0 263.00 L477.6 263.00 L478.2 263.00 L478.8 263.00 L479.4 263.00 L480.0 263.00 L480.6 263.00 L481.2 263.00 L481.8 260.00 L482.4 263.00 L483.0 263.00 L483.6 263.00 L484.2 263.00 L484.8 263.00 L485.4 263.00 L486.0 263.00 L486.6 263.00 L487.2 263.00 L487.8 263.00 L488.4 263.00 L489.0 263.00 L489.6 263.00 L490.2 263.00 L490.8 263.00 L491.4 263.00 L492.0 263.00 L492.6 263.00 L493.2 263.00 L493.8 263.00 L494.4 263.00 L495.0 263.00 L495.6 263.00 L496.2 263.00 L496.8 263.00 L497.4 263.00 L498.0 263.00 L498.6 263.00 L499.2 263.00 L499.8 263.00 L500.4 263.00 L501.0 263.00 L501.6 263.00 L502.2 263.00 L502.8 263.00 L503.4 263.00 L504.0 263.00 L504.6 263.00 L505.2 263.00 L505.8 263.00 L506.4 263.00 L507.0 263.00 L507.6 263.00 L508.2 263.00 L508.8 263.00 L509.4 263.00 L510.0 263.00 L510.6 263.00 L511.2 263.00 L511.8 263.00 L512.4 263.00 L513.0 263.00 L513.6 263.00 L514.2 263.00 L514.8 263.00 L515.4 263.00 L516.0 263.00 L516.0 263.0 Z" fill="#9a9a9a" stroke="none"/><path d="M297.0 263.00 L297.6 259.00 L298.2 262.96 L298.8 262.94 L299.4 262.93 L300.0 262.91 L300.6 262.89 L301.2 262.87 L301.8 262.85 L302.4 262.83 L303.0 261.00 L303.6 262.80 L304.2 262.78 L304.8 262.76 L305.4 262.74 L306.0 262.72 L306.6 262.70 L307.2 262.52 L307.8 262.36 L308.4 260.91 L309.0 263.00 L309.6 261.82 L310.2 263.00 L310.8 262.75 L311.4 260.91 L312.0 260.83 L312.6 263.00 L313.2 260.50 L313.8 263.00 L314.4 263.00 L315.0 260.67 L315.6 261.38 L316.2 263.00 L316.8 263.00 L317.4 261.10 L318.0 260.50 L318.6 262.99 L319.2 261.64 L319.8 261.23 L320.4 263.00 L321.0 261.79 L321.6 259.52 L322.2 263.00 L322.8 260.56 L323.4 261.66 L324.0 262.36 L324.6 262.63 L325.2 261.00 L325.8 263.00 L326.4 261.56 L327.0 261.20 L327.6 262.16 L328.2 263.00 L328.8 259.86 L329.4 259.28 L330.0 260.00 L330.6 262.37 L331.2 261.18 L331.8 259.20 L332.4 263.00 L333.0 262.27 L333.6 261.98 L334.2 261.11 L334.8 260.47 L335.4 262.67 L336.0 260.00 L336.6 259.06 L337.2 260.66 L337.8 259.37 L338.4 262.16 L339.0 260.37 L339.6 263.00 L340.2 263.00 L340.8 260.73 L341.4 263.00 L342.0 262.20 L342.6 261.79 L343.2 261.75 L343.8 260.89 L344.4 261.29 L345.0 261.57 L345.6 258.61 L346.2 263.00 L346.8 258.82 L347.4 261.47 L348.0 262.38 L348.6 261.70 L349.2 261.51 L349.8 263.00 L350.4 259.95 L351.0 263.00 L351.6 258.37 L352.2 259.60 L352.8 261.88 L353.4 258.56 L354.0 261.45 L354.6 262.19 L355.2 261.82 L355.8 260.93 L356.4 261.90 L357.0 260.69 L357.6 262.03 L358.2 260.06 L358.8 263.00 L359.4 260.85 L360.0 261.39 L360.6 259.49 L361.2 261.15 L361.8 262.03 L362.4 260.71 L363.0 257.40 L363.6 262.60 L364.2 260.62 L364.8 259.91 L365.4 259.09 L366.0 257.62 L366.6 259.84 L367.2 258.24 L367.8 261.56 L368.4 259.27 L369.0 260.41 L369.6 259.52 L370.2 259.08 L370.8 259.41 L371.4 259.57 L372.0 260.07 L372.6 259.52 L373.2 262.21 L373.8 261.42 L374.4 261.62 L375.0 261.12 L375.6 262.98 L376.2 256.82 L376.8 258.51 L377.4 262.61 L378.0 261.14 L378.6 259.39 L379.2 260.25 L379.8 259.39 L380.4 260.16 L381.0 261.20 L381.6 262.68 L382.2 260.57 L382.8 258.55 L383.4 260.82 L384.0 258.29 L384.6 258.15 L385.2 263.00 L385.8 261.79 L386.4 258.35 L387.0 260.92 L387.6 260.79 L388.2 257.45 L388.8 259.42 L389.4 260.05 L390.0 254.80 L390.6 262.09 L391.2 257.21 L391.8 258.85 L392.4 258.15 L393.0 261.30 L393.6 256.82 L394.2 252.90 L394.8 255.87 L395.4 258.72 L396.0 255.87 L396.6 256.99 L397.2 255.77 L397.8 260.84 L398.4 256.25 L399.0 255.94 L399.6 258.29 L400.2 254.39 L400.8 251.87 L401.4 258.58 L402.0 255.52 L402.6 255.87 L403.2 251.67 L403.8 259.38 L404.4 256.14 L405.0 253.37 L405.6 256.29 L406.2 255.67 L406.8 256.82 L407.4 255.50 L408.0 254.03 L408.6 253.01 L409.2 259.24 L409.8 255.78 L410.4 254.76 L411.0 258.46 L411.6 254.76 L412.2 249.15 L412.8 256.07 L413.4 255.39 L414.0 255.39 L414.6 252.20 L415.2 257.30 L415.8 250.51 L416.4 252.82 L417.0 248.97 L417.6 251.44 L418.2 248.22 L418.8 250.37 L419.4 250.18 L420.0 242.06 L420.6 248.30 L421.2 253.64 L421.8 249.61 L422.4 244.48 L423.0 252.84 L423.6 245.66 L424.2 242.08 L424.8 246.47 L425.4 246.14 L426.0 236.18 L426.6 242.07 L427.2 240.12 L427.8 244.34 L428.4 246.58 L429.0 245.39 L429.6 245.27 L430.2 246.08 L430.8 244.48 L431.4 244.05 L432.0 245.97 L432.6 241.22 L433.2 237.77 L433.8 245.48 L434.4 242.86 L435.0 245.48 L435.6 241.72 L436.2 238.08 L436.8 241.87 L437.4 242.77 L438.0 241.10 L438.6 242.34 L439.2 242.04 L439.8 241.89 L440.4 240.17 L441.0 242.72 L441.6 246.07 L442.2 250.68 L442.8 251.36 L443.4 246.40 L444.0 256.80 L444.6 255.13 L445.2 259.37 L445.8 251.82 L446.4 258.53 L447.0 253.15 L447.6 253.22 L448.2 253.70 L448.8 254.21 L449.4 260.75 L450.0 259.85 L450.6 255.76 L451.2 256.29 L451.8 261.04 L452.4 257.31 L453.0 260.95 L453.6 260.23 L454.2 262.31 L454.8 261.21 L455.4 263.00 L456.0 262.08 L456.6 260.84 L457.2 262.70 L457.8 262.80 L458.4 262.90 L459.0 263.00 L459.6 263.00 L460.2 263.00 L460.8 263.00 L461.4 263.00 L462.0 263.00 L462.6 263.00 L463.2 263.00 L463.8 263.00 L464.4 263.00 L465.0 263.00 L465.6 263.00 L466.2 263.00 L466.8 263.00 L467.4 263.00 L468.0 263.00 L468.6 263.00 L469.2 263.00 L469.8 263.00 L470.4 263.00 L471.0 263.00 L471.6 263.00 L472.2 263.00 L472.8 263.00 L473.4 263.00 L474.0 263.00 L474.6 263.00 L475.2 263.00 L475.8 263.00 L476.4 263.00 L477.0 263.00 L477.6 263.00 L478.2 263.00 L478.8 263.00 L479.4 263.00 L480.0 263.00 L480.6 263.00 L481.2 263.00 L481.8 260.00 L482.4 263.00 L483.0 263.00 L483.6 263.00 L484.2 263.00 L484.8 263.00 L485.4 263.00 L486.0 263.00 L486.6 263.00 L487.2 263.00 L487.8 263.00 L488.4 263.00 L489.0 263.00 L489.6 263.00 L490.2 263.00 L490.8 263.00 L491.4 263.00 L492.0 263.00 L492.6 263.00 L493.2 263.00 L493.8 263.00 L494.4 263.00 L495.0 263.00 L495.6 263.00 L496.2 263.00 L496.8 263.00 L497.4 263.00 L498.0 263.00 L498.6 263.00 L499.2 263.00 L499.8 263.00 L500.4 263.00 L501.0 263.00 L501.6 263.00 L502.2 263.00 L502.8 263.00 L503.4 263.00 L504.0 263.00 L504.6 263.00 L505.2 263.00 L505.8 263.00 L506.4 263.00 L507.0 263.00 L507.6 263.00 L508.2 263.00 L508.8 263.00 L509.4 263.00 L510.0 263.00 L510.6 263.00 L511.2 263.00 L511.8 263.00 L512.4 263.00 L513.0 263.00 L513.6 263.00 L514.2 263.00 L514.8 263.00 L515.4 263.00 L516.0 263.00" fill="none" stroke="#111" stroke-width="0.9" stroke-linejoin="round"/>
<line x1="297.0" y1="210.5" x2="297.0" y2="264.2" stroke="#4a4a4a" stroke-width="1.0"/><line x1="294.8" y1="263.00" x2="297.0" y2="263.00" stroke="#222" stroke-width="0.7"/><line x1="295.4" y1="260.90" x2="297.0" y2="260.90" stroke="#222" stroke-width="0.7"/><line x1="295.4" y1="258.80" x2="297.0" y2="258.80" stroke="#222" stroke-width="0.7"/><line x1="295.4" y1="256.70" x2="297.0" y2="256.70" stroke="#222" stroke-width="0.7"/><line x1="295.4" y1="254.60" x2="297.0" y2="254.60" stroke="#222" stroke-width="0.7"/><line x1="294.8" y1="252.50" x2="297.0" y2="252.50" stroke="#222" stroke-width="0.7"/><line x1="295.4" y1="250.40" x2="297.0" y2="250.40" stroke="#222" stroke-width="0.7"/><line x1="295.4" y1="248.30" x2="297.0" y2="248.30" stroke="#222" stroke-width="0.7"/><line x1="295.4" y1="246.20" x2="297.0" y2="246.20" stroke="#222" stroke-width="0.7"/><line x1="295.4" y1="244.10" x2="297.0" y2="244.10" stroke="#222" stroke-width="0.7"/><line x1="294.8" y1="242.00" x2="297.0" y2="242.00" stroke="#222" stroke-width="0.7"/><line x1="295.4" y1="239.90" x2="297.0" y2="239.90" stroke="#222" stroke-width="0.7"/><line x1="295.4" y1="237.80" x2="297.0" y2="237.80" stroke="#222" stroke-width="0.7"/><line x1="295.4" y1="235.70" x2="297.0" y2="235.70" stroke="#222" stroke-width="0.7"/><line x1="295.4" y1="233.60" x2="297.0" y2="233.60" stroke="#222" stroke-width="0.7"/><line x1="294.8" y1="231.50" x2="297.0" y2="231.50" stroke="#222" stroke-width="0.7"/><line x1="295.4" y1="229.40" x2="297.0" y2="229.40" stroke="#222" stroke-width="0.7"/><line x1="295.4" y1="227.30" x2="297.0" y2="227.30" stroke="#222" stroke-width="0.7"/><line x1="295.4" y1="225.20" x2="297.0" y2="225.20" stroke="#222" stroke-width="0.7"/><line x1="295.4" y1="223.10" x2="297.0" y2="223.10" stroke="#222" stroke-width="0.7"/><line x1="294.8" y1="221.00" x2="297.0" y2="221.00" stroke="#222" stroke-width="0.7"/><line x1="295.4" y1="218.90" x2="297.0" y2="218.90" stroke="#222" stroke-width="0.7"/><line x1="295.4" y1="216.80" x2="297.0" y2="216.80" stroke="#222" stroke-width="0.7"/><line x1="295.4" y1="214.70" x2="297.0" y2="214.70" stroke="#222" stroke-width="0.7"/><line x1="295.4" y1="212.60" x2="297.0" y2="212.60" stroke="#222" stroke-width="0.7"/><line x1="294.8" y1="210.50" x2="297.0" y2="210.50" stroke="#222" stroke-width="0.7"/>
<line x1="296.5" y1="263.2" x2="516.5" y2="263.2" stroke="#222" stroke-width="0.9"/><line x1="297.00" y1="263.0" x2="297.00" y2="265.4" stroke="#222" stroke-width="0.5"/><line x1="313.48" y1="263.0" x2="313.48" y2="264.3" stroke="#222" stroke-width="0.5"/><line x1="323.12" y1="263.0" x2="323.12" y2="264.3" stroke="#222" stroke-width="0.5"/><line x1="329.96" y1="263.0" x2="329.96" y2="264.3" stroke="#222" stroke-width="0.5"/><line x1="335.27" y1="263.0" x2="335.27" y2="264.3" stroke="#222" stroke-width="0.5"/><line x1="339.60" y1="263.0" x2="339.60" y2="264.3" stroke="#222" stroke-width="0.5"/><line x1="343.27" y1="263.0" x2="343.27" y2="264.3" stroke="#222" stroke-width="0.5"/><line x1="346.44" y1="263.0" x2="346.44" y2="264.3" stroke="#222" stroke-width="0.5"/><line x1="349.24" y1="263.0" x2="349.24" y2="264.3" stroke="#222" stroke-width="0.5"/><line x1="351.75" y1="263.0" x2="351.75" y2="265.4" stroke="#222" stroke-width="0.5"/><line x1="368.23" y1="263.0" x2="368.23" y2="264.3" stroke="#222" stroke-width="0.5"/><line x1="377.87" y1="263.0" x2="377.87" y2="264.3" stroke="#222" stroke-width="0.5"/><line x1="384.71" y1="263.0" x2="384.71" y2="264.3" stroke="#222" stroke-width="0.5"/><line x1="390.02" y1="263.0" x2="390.02" y2="264.3" stroke="#222" stroke-width="0.5"/><line x1="394.35" y1="263.0" x2="394.35" y2="264.3" stroke="#222" stroke-width="0.5"/><line x1="398.02" y1="263.0" x2="398.02" y2="264.3" stroke="#222" stroke-width="0.5"/><line x1="401.19" y1="263.0" x2="401.19" y2="264.3" stroke="#222" stroke-width="0.5"/><line x1="403.99" y1="263.0" x2="403.99" y2="264.3" stroke="#222" stroke-width="0.5"/><line x1="406.50" y1="263.0" x2="406.50" y2="265.4" stroke="#222" stroke-width="0.5"/><line x1="422.98" y1="263.0" x2="422.98" y2="264.3" stroke="#222" stroke-width="0.5"/><line x1="432.62" y1="263.0" x2="432.62" y2="264.3" stroke="#222" stroke-width="0.5"/><line x1="439.46" y1="263.0" x2="439.46" y2="264.3" stroke="#222" stroke-width="0.5"/><line x1="444.77" y1="263.0" x2="444.77" y2="264.3" stroke="#222" stroke-width="0.5"/><line x1="449.10" y1="263.0" x2="449.10" y2="264.3" stroke="#222" stroke-width="0.5"/><line x1="452.77" y1="263.0" x2="452.77" y2="264.3" stroke="#222" stroke-width="0.5"/><line x1="455.94" y1="263.0" x2="455.94" y2="264.3" stroke="#222" stroke-width="0.5"/><line x1="458.74" y1="263.0" x2="458.74" y2="264.3" stroke="#222" stroke-width="0.5"/><line x1="461.25" y1="263.0" x2="461.25" y2="265.4" stroke="#222" stroke-width="0.5"/><line x1="477.73" y1="263.0" x2="477.73" y2="264.3" stroke="#222" stroke-width="0.5"/><line x1="487.37" y1="263.0" x2="487.37" y2="264.3" stroke="#222" stroke-width="0.5"/><line x1="494.21" y1="263.0" x2="494.21" y2="264.3" stroke="#222" stroke-width="0.5"/><line x1="499.52" y1="263.0" x2="499.52" y2="264.3" stroke="#222" stroke-width="0.5"/><line x1="503.85" y1="263.0" x2="503.85" y2="264.3" stroke="#222" stroke-width="0.5"/><line x1="507.52" y1="263.0" x2="507.52" y2="264.3" stroke="#222" stroke-width="0.5"/><line x1="510.69" y1="263.0" x2="510.69" y2="264.3" stroke="#222" stroke-width="0.5"/><line x1="513.49" y1="263.0" x2="513.49" y2="264.3" stroke="#222" stroke-width="0.5"/><line x1="516.00" y1="263.0" x2="516.00" y2="265.4" stroke="#222" stroke-width="0.5"/><text class="sn" transform="translate(296.6,273.3) scale(0.82,1)" font-size="6.4" text-anchor="middle" fill="#222">10<tspan dy="-3.3" font-size="5.1">0</tspan></text><text class="sn" transform="translate(351.4,273.3) scale(0.82,1)" font-size="6.4" text-anchor="middle" fill="#222">10<tspan dy="-3.3" font-size="5.1">1</tspan></text><text class="sn" transform="translate(406.1,273.3) scale(0.82,1)" font-size="6.4" text-anchor="middle" fill="#222">10<tspan dy="-3.3" font-size="5.1">2</tspan></text><text class="sn" transform="translate(460.9,273.3) scale(0.82,1)" font-size="6.4" text-anchor="middle" fill="#222">10<tspan dy="-3.3" font-size="5.1">3</tspan></text><text class="sn" transform="translate(515.6,273.3) scale(0.82,1)" font-size="6.4" text-anchor="middle" fill="#222">10<tspan dy="-3.3" font-size="5.1">4</tspan></text>
<line x1="361.5" y1="218.5" x2="516.5" y2="218.5" stroke="#505050" stroke-width="1"/><line x1="361.5" y1="213.9" x2="361.5" y2="223.6" stroke="#222" stroke-width="1"/><line x1="516.5" y1="210.5" x2="516.5" y2="263.0" stroke="#222" stroke-width="1"/><text x="445.0" y="216.9" class="sf pc" font-size="19.4" text-anchor="middle" fill="#000">89.0%</text>
<path d="M297.5 332.5 L297.5 327.50 L298.1 329.34 L298.7 332.12 L299.3 330.93 L299.9 331.04 L300.5 332.31 L301.1 328.82 L301.7 332.32 L302.3 332.50 L302.9 332.32 L303.5 331.59 L304.1 328.08 L304.7 328.53 L305.3 330.52 L305.9 329.90 L306.5 328.25 L307.1 331.35 L307.7 326.99 L308.3 328.71 L308.9 328.10 L309.5 330.48 L310.1 327.51 L310.7 330.71 L311.3 329.41 L311.9 322.40 L312.5 323.96 L313.1 329.71 L313.7 329.21 L314.3 326.96 L314.9 326.18 L315.5 326.75 L316.1 325.68 L316.7 320.51 L317.3 318.91 L317.9 325.84 L318.5 328.58 L319.1 328.36 L319.7 326.90 L320.3 323.20 L320.9 328.55 L321.5 322.73 L322.1 315.84 L322.7 325.77 L323.3 330.27 L323.9 321.92 L324.5 322.80 L325.1 318.49 L325.7 326.00 L326.3 328.40 L326.9 314.80 L327.5 324.26 L328.1 325.28 L328.7 318.37 L329.3 326.87 L329.9 323.87 L330.5 328.11 L331.1 320.22 L331.7 322.95 L332.3 316.59 L332.9 320.66 L333.5 321.55 L334.1 325.65 L334.7 323.04 L335.3 325.27 L335.9 321.54 L336.5 323.23 L337.1 314.41 L337.7 319.21 L338.3 321.99 L338.9 319.04 L339.5 321.08 L340.1 320.07 L340.7 326.40 L341.3 319.52 L341.9 318.38 L342.5 318.95 L343.1 323.50 L343.7 328.61 L344.3 320.54 L344.9 325.19 L345.5 318.55 L346.1 322.66 L346.7 330.27 L347.3 319.21 L347.9 321.30 L348.5 320.79 L349.1 324.29 L349.7 325.20 L350.3 325.94 L350.9 322.81 L351.5 317.37 L352.1 322.58 L352.7 319.92 L353.3 324.28 L353.9 322.07 L354.5 323.99 L355.1 322.82 L355.7 322.74 L356.3 324.18 L356.9 321.09 L357.5 316.24 L358.1 324.17 L358.7 321.65 L359.3 319.32 L359.9 323.99 L360.5 320.63 L361.1 325.39 L361.7 326.59 L362.3 320.00 L362.9 324.23 L363.5 326.49 L364.1 325.84 L364.7 314.91 L365.3 321.92 L365.9 319.23 L366.5 324.51 L367.1 323.05 L367.7 324.26 L368.3 318.73 L368.9 321.38 L369.5 322.92 L370.1 322.88 L370.7 322.23 L371.3 319.30 L371.9 320.40 L372.5 321.03 L373.1 322.81 L373.7 322.16 L374.3 324.76 L374.9 319.83 L375.5 320.20 L376.1 325.63 L376.7 318.03 L377.3 318.33 L377.9 324.18 L378.5 314.12 L379.1 315.40 L379.7 321.41 L380.3 321.31 L380.9 319.17 L381.5 322.78 L382.1 321.56 L382.7 322.80 L383.3 323.79 L383.9 323.04 L384.5 323.59 L385.1 326.37 L385.7 325.54 L386.3 313.53 L386.9 320.94 L387.5 323.71 L388.1 320.54 L388.7 324.69 L389.3 322.80 L389.9 320.71 L390.5 321.29 L391.1 319.37 L391.7 320.23 L392.3 320.28 L392.9 323.06 L393.5 320.76 L394.1 322.42 L394.7 323.54 L395.3 314.44 L395.9 316.38 L396.5 319.63 L397.1 319.53 L397.7 321.65 L398.3 315.93 L398.9 316.37 L399.5 318.33 L400.1 320.12 L400.7 315.85 L401.3 322.73 L401.9 319.41 L402.5 320.84 L403.1 314.18 L403.7 317.76 L404.3 317.70 L404.9 322.97 L405.5 318.41 L406.1 318.14 L406.7 319.79 L407.3 322.31 L407.9 318.65 L408.5 318.52 L409.1 318.41 L409.7 320.78 L410.3 319.33 L410.9 322.06 L411.5 318.91 L412.1 317.91 L412.7 322.68 L413.3 319.55 L413.9 326.14 L414.5 323.42 L415.1 322.01 L415.7 322.67 L416.3 315.84 L416.9 321.86 L417.5 323.11 L418.1 318.20 L418.7 321.21 L419.3 317.38 L419.9 323.75 L420.5 318.11 L421.1 314.26 L421.7 321.43 L422.3 314.33 L422.9 313.66 L423.5 316.11 L424.1 319.28 L424.7 313.03 L425.3 319.40 L425.9 314.34 L426.5 311.35 L427.1 309.65 L427.7 312.01 L428.3 313.14 L428.9 314.45 L429.5 312.47 L430.1 309.09 L430.7 310.52 L431.3 306.45 L431.9 314.84 L432.5 311.51 L433.1 305.30 L433.7 313.18 L434.3 310.87 L434.9 305.48 L435.5 312.83 L436.1 307.57 L436.7 306.92 L437.3 311.00 L437.9 299.97 L438.5 302.73 L439.1 311.58 L439.7 310.44 L440.3 310.74 L440.9 303.21 L441.5 312.73 L442.1 311.95 L442.7 311.35 L443.3 301.36 L443.9 309.84 L444.5 311.57 L445.1 306.42 L445.7 319.06 L446.3 310.08 L446.9 321.91 L447.5 321.25 L448.1 320.07 L448.7 323.91 L449.3 327.81 L449.9 325.70 L450.5 329.79 L451.1 327.82 L451.7 329.86 L452.3 332.50 L452.9 331.16 L453.5 332.50 L454.1 331.57 L454.7 330.14 L455.3 329.16 L455.9 329.65 L456.5 331.20 L457.1 330.00 L457.7 332.50 L458.3 330.20 L458.9 331.71 L459.5 332.44 L460.1 330.88 L460.7 329.34 L461.3 331.01 L461.9 329.38 L462.5 332.50 L463.1 332.50 L463.7 332.50 L464.3 332.02 L464.9 330.00 L465.5 332.23 L466.1 332.27 L466.7 332.30 L467.3 332.34 L467.9 332.37 L468.5 332.41 L469.1 332.45 L469.7 332.48 L470.3 332.50 L470.9 332.50 L471.5 332.50 L472.1 332.50 L472.7 332.50 L473.3 332.50 L473.9 332.50 L474.5 332.50 L475.1 332.50 L475.7 332.50 L476.3 332.50 L476.9 332.50 L477.5 329.50 L478.1 332.50 L478.7 332.50 L479.3 332.50 L479.9 332.50 L480.5 332.50 L481.1 332.50 L481.7 332.50 L482.3 332.50 L482.9 332.50 L483.5 332.50 L484.1 332.50 L484.7 332.50 L485.3 332.50 L485.9 332.50 L486.5 332.50 L487.1 332.50 L487.7 332.50 L488.3 332.50 L488.9 332.50 L489.5 332.50 L490.1 332.50 L490.7 332.50 L491.3 332.50 L491.9 332.50 L492.5 332.50 L493.1 332.50 L493.7 332.50 L494.3 332.50 L494.9 332.50 L495.5 332.50 L496.1 332.50 L496.7 332.50 L497.3 332.50 L497.9 332.50 L498.5 332.50 L499.1 332.50 L499.7 332.50 L500.3 332.50 L500.9 332.50 L501.5 332.50 L502.1 332.50 L502.7 332.50 L503.3 332.50 L503.9 332.50 L504.5 332.50 L505.1 332.50 L505.7 332.50 L506.3 332.50 L506.9 332.50 L507.5 332.50 L508.1 332.50 L508.7 332.50 L509.3 332.50 L509.9 332.50 L510.5 332.50 L511.1 332.50 L511.7 332.50 L512.3 332.50 L512.9 332.50 L513.5 332.50 L514.1 332.50 L514.7 332.50 L515.3 332.50 L515.9 332.50 L515.9 332.5 Z" fill="#9a9a9a" stroke="none"/><path d="M297.5 327.50 L298.1 329.34 L298.7 332.12 L299.3 330.93 L299.9 331.04 L300.5 332.31 L301.1 328.82 L301.7 332.32 L302.3 332.50 L302.9 332.32 L303.5 331.59 L304.1 328.08 L304.7 328.53 L305.3 330.52 L305.9 329.90 L306.5 328.25 L307.1 331.35 L307.7 326.99 L308.3 328.71 L308.9 328.10 L309.5 330.48 L310.1 327.51 L310.7 330.71 L311.3 329.41 L311.9 322.40 L312.5 323.96 L313.1 329.71 L313.7 329.21 L314.3 326.96 L314.9 326.18 L315.5 326.75 L316.1 325.68 L316.7 320.51 L317.3 318.91 L317.9 325.84 L318.5 328.58 L319.1 328.36 L319.7 326.90 L320.3 323.20 L320.9 328.55 L321.5 322.73 L322.1 315.84 L322.7 325.77 L323.3 330.27 L323.9 321.92 L324.5 322.80 L325.1 318.49 L325.7 326.00 L326.3 328.40 L326.9 314.80 L327.5 324.26 L328.1 325.28 L328.7 318.37 L329.3 326.87 L329.9 323.87 L330.5 328.11 L331.1 320.22 L331.7 322.95 L332.3 316.59 L332.9 320.66 L333.5 321.55 L334.1 325.65 L334.7 323.04 L335.3 325.27 L335.9 321.54 L336.5 323.23 L337.1 314.41 L337.7 319.21 L338.3 321.99 L338.9 319.04 L339.5 321.08 L340.1 320.07 L340.7 326.40 L341.3 319.52 L341.9 318.38 L342.5 318.95 L343.1 323.50 L343.7 328.61 L344.3 320.54 L344.9 325.19 L345.5 318.55 L346.1 322.66 L346.7 330.27 L347.3 319.21 L347.9 321.30 L348.5 320.79 L349.1 324.29 L349.7 325.20 L350.3 325.94 L350.9 322.81 L351.5 317.37 L352.1 322.58 L352.7 319.92 L353.3 324.28 L353.9 322.07 L354.5 323.99 L355.1 322.82 L355.7 322.74 L356.3 324.18 L356.9 321.09 L357.5 316.24 L358.1 324.17 L358.7 321.65 L359.3 319.32 L359.9 323.99 L360.5 320.63 L361.1 325.39 L361.7 326.59 L362.3 320.00 L362.9 324.23 L363.5 326.49 L364.1 325.84 L364.7 314.91 L365.3 321.92 L365.9 319.23 L366.5 324.51 L367.1 323.05 L367.7 324.26 L368.3 318.73 L368.9 321.38 L369.5 322.92 L370.1 322.88 L370.7 322.23 L371.3 319.30 L371.9 320.40 L372.5 321.03 L373.1 322.81 L373.7 322.16 L374.3 324.76 L374.9 319.83 L375.5 320.20 L376.1 325.63 L376.7 318.03 L377.3 318.33 L377.9 324.18 L378.5 314.12 L379.1 315.40 L379.7 321.41 L380.3 321.31 L380.9 319.17 L381.5 322.78 L382.1 321.56 L382.7 322.80 L383.3 323.79 L383.9 323.04 L384.5 323.59 L385.1 326.37 L385.7 325.54 L386.3 313.53 L386.9 320.94 L387.5 323.71 L388.1 320.54 L388.7 324.69 L389.3 322.80 L389.9 320.71 L390.5 321.29 L391.1 319.37 L391.7 320.23 L392.3 320.28 L392.9 323.06 L393.5 320.76 L394.1 322.42 L394.7 323.54 L395.3 314.44 L395.9 316.38 L396.5 319.63 L397.1 319.53 L397.7 321.65 L398.3 315.93 L398.9 316.37 L399.5 318.33 L400.1 320.12 L400.7 315.85 L401.3 322.73 L401.9 319.41 L402.5 320.84 L403.1 314.18 L403.7 317.76 L404.3 317.70 L404.9 322.97 L405.5 318.41 L406.1 318.14 L406.7 319.79 L407.3 322.31 L407.9 318.65 L408.5 318.52 L409.1 318.41 L409.7 320.78 L410.3 319.33 L410.9 322.06 L411.5 318.91 L412.1 317.91 L412.7 322.68 L413.3 319.55 L413.9 326.14 L414.5 323.42 L415.1 322.01 L415.7 322.67 L416.3 315.84 L416.9 321.86 L417.5 323.11 L418.1 318.20 L418.7 321.21 L419.3 317.38 L419.9 323.75 L420.5 318.11 L421.1 314.26 L421.7 321.43 L422.3 314.33 L422.9 313.66 L423.5 316.11 L424.1 319.28 L424.7 313.03 L425.3 319.40 L425.9 314.34 L426.5 311.35 L427.1 309.65 L427.7 312.01 L428.3 313.14 L428.9 314.45 L429.5 312.47 L430.1 309.09 L430.7 310.52 L431.3 306.45 L431.9 314.84 L432.5 311.51 L433.1 305.30 L433.7 313.18 L434.3 310.87 L434.9 305.48 L435.5 312.83 L436.1 307.57 L436.7 306.92 L437.3 311.00 L437.9 299.97 L438.5 302.73 L439.1 311.58 L439.7 310.44 L440.3 310.74 L440.9 303.21 L441.5 312.73 L442.1 311.95 L442.7 311.35 L443.3 301.36 L443.9 309.84 L444.5 311.57 L445.1 306.42 L445.7 319.06 L446.3 310.08 L446.9 321.91 L447.5 321.25 L448.1 320.07 L448.7 323.91 L449.3 327.81 L449.9 325.70 L450.5 329.79 L451.1 327.82 L451.7 329.86 L452.3 332.50 L452.9 331.16 L453.5 332.50 L454.1 331.57 L454.7 330.14 L455.3 329.16 L455.9 329.65 L456.5 331.20 L457.1 330.00 L457.7 332.50 L458.3 330.20 L458.9 331.71 L459.5 332.44 L460.1 330.88 L460.7 329.34 L461.3 331.01 L461.9 329.38 L462.5 332.50 L463.1 332.50 L463.7 332.50 L464.3 332.02 L464.9 330.00 L465.5 332.23 L466.1 332.27 L466.7 332.30 L467.3 332.34 L467.9 332.37 L468.5 332.41 L469.1 332.45 L469.7 332.48 L470.3 332.50 L470.9 332.50 L471.5 332.50 L472.1 332.50 L472.7 332.50 L473.3 332.50 L473.9 332.50 L474.5 332.50 L475.1 332.50 L475.7 332.50 L476.3 332.50 L476.9 332.50 L477.5 329.50 L478.1 332.50 L478.7 332.50 L479.3 332.50 L479.9 332.50 L480.5 332.50 L481.1 332.50 L481.7 332.50 L482.3 332.50 L482.9 332.50 L483.5 332.50 L484.1 332.50 L484.7 332.50 L485.3 332.50 L485.9 332.50 L486.5 332.50 L487.1 332.50 L487.7 332.50 L488.3 332.50 L488.9 332.50 L489.5 332.50 L490.1 332.50 L490.7 332.50 L491.3 332.50 L491.9 332.50 L492.5 332.50 L493.1 332.50 L493.7 332.50 L494.3 332.50 L494.9 332.50 L495.5 332.50 L496.1 332.50 L496.7 332.50 L497.3 332.50 L497.9 332.50 L498.5 332.50 L499.1 332.50 L499.7 332.50 L500.3 332.50 L500.9 332.50 L501.5 332.50 L502.1 332.50 L502.7 332.50 L503.3 332.50 L503.9 332.50 L504.5 332.50 L505.1 332.50 L505.7 332.50 L506.3 332.50 L506.9 332.50 L507.5 332.50 L508.1 332.50 L508.7 332.50 L509.3 332.50 L509.9 332.50 L510.5 332.50 L511.1 332.50 L511.7 332.50 L512.3 332.50 L512.9 332.50 L513.5 332.50 L514.1 332.50 L514.7 332.50 L515.3 332.50 L515.9 332.50" fill="none" stroke="#111" stroke-width="0.9" stroke-linejoin="round"/>
<line x1="297.5" y1="280.0" x2="297.5" y2="333.7" stroke="#151515" stroke-width="1.4"/><line x1="295.3" y1="332.50" x2="297.5" y2="332.50" stroke="#222" stroke-width="0.7"/><line x1="295.9" y1="330.40" x2="297.5" y2="330.40" stroke="#222" stroke-width="0.7"/><line x1="295.9" y1="328.30" x2="297.5" y2="328.30" stroke="#222" stroke-width="0.7"/><line x1="295.9" y1="326.20" x2="297.5" y2="326.20" stroke="#222" stroke-width="0.7"/><line x1="295.9" y1="324.10" x2="297.5" y2="324.10" stroke="#222" stroke-width="0.7"/><line x1="295.3" y1="322.00" x2="297.5" y2="322.00" stroke="#222" stroke-width="0.7"/><line x1="295.9" y1="319.90" x2="297.5" y2="319.90" stroke="#222" stroke-width="0.7"/><line x1="295.9" y1="317.80" x2="297.5" y2="317.80" stroke="#222" stroke-width="0.7"/><line x1="295.9" y1="315.70" x2="297.5" y2="315.70" stroke="#222" stroke-width="0.7"/><line x1="295.9" y1="313.60" x2="297.5" y2="313.60" stroke="#222" stroke-width="0.7"/><line x1="295.3" y1="311.50" x2="297.5" y2="311.50" stroke="#222" stroke-width="0.7"/><line x1="295.9" y1="309.40" x2="297.5" y2="309.40" stroke="#222" stroke-width="0.7"/><line x1="295.9" y1="307.30" x2="297.5" y2="307.30" stroke="#222" stroke-width="0.7"/><line x1="295.9" y1="305.20" x2="297.5" y2="305.20" stroke="#222" stroke-width="0.7"/><line x1="295.9" y1="303.10" x2="297.5" y2="303.10" stroke="#222" stroke-width="0.7"/><line x1="295.3" y1="301.00" x2="297.5" y2="301.00" stroke="#222" stroke-width="0.7"/><line x1="295.9" y1="298.90" x2="297.5" y2="298.90" stroke="#222" stroke-width="0.7"/><line x1="295.9" y1="296.80" x2="297.5" y2="296.80" stroke="#222" stroke-width="0.7"/><line x1="295.9" y1="294.70" x2="297.5" y2="294.70" stroke="#222" stroke-width="0.7"/><line x1="295.9" y1="292.60" x2="297.5" y2="292.60" stroke="#222" stroke-width="0.7"/><line x1="295.3" y1="290.50" x2="297.5" y2="290.50" stroke="#222" stroke-width="0.7"/><line x1="295.9" y1="288.40" x2="297.5" y2="288.40" stroke="#222" stroke-width="0.7"/><line x1="295.9" y1="286.30" x2="297.5" y2="286.30" stroke="#222" stroke-width="0.7"/><line x1="295.9" y1="284.20" x2="297.5" y2="284.20" stroke="#222" stroke-width="0.7"/><line x1="295.9" y1="282.10" x2="297.5" y2="282.10" stroke="#222" stroke-width="0.7"/><line x1="295.3" y1="280.00" x2="297.5" y2="280.00" stroke="#222" stroke-width="0.7"/>
<line x1="297.0" y1="332.7" x2="516.5" y2="332.7" stroke="#222" stroke-width="0.9"/><line x1="297.50" y1="332.5" x2="297.50" y2="334.9" stroke="#222" stroke-width="0.5"/><line x1="313.94" y1="332.5" x2="313.94" y2="333.8" stroke="#222" stroke-width="0.5"/><line x1="323.56" y1="332.5" x2="323.56" y2="333.8" stroke="#222" stroke-width="0.5"/><line x1="330.39" y1="332.5" x2="330.39" y2="333.8" stroke="#222" stroke-width="0.5"/><line x1="335.68" y1="332.5" x2="335.68" y2="333.8" stroke="#222" stroke-width="0.5"/><line x1="340.01" y1="332.5" x2="340.01" y2="333.8" stroke="#222" stroke-width="0.5"/><line x1="343.66" y1="332.5" x2="343.66" y2="333.8" stroke="#222" stroke-width="0.5"/><line x1="346.83" y1="332.5" x2="346.83" y2="333.8" stroke="#222" stroke-width="0.5"/><line x1="349.63" y1="332.5" x2="349.63" y2="333.8" stroke="#222" stroke-width="0.5"/><line x1="352.12" y1="332.5" x2="352.12" y2="334.9" stroke="#222" stroke-width="0.5"/><line x1="368.57" y1="332.5" x2="368.57" y2="333.8" stroke="#222" stroke-width="0.5"/><line x1="378.19" y1="332.5" x2="378.19" y2="333.8" stroke="#222" stroke-width="0.5"/><line x1="385.01" y1="332.5" x2="385.01" y2="333.8" stroke="#222" stroke-width="0.5"/><line x1="390.31" y1="332.5" x2="390.31" y2="333.8" stroke="#222" stroke-width="0.5"/><line x1="394.63" y1="332.5" x2="394.63" y2="333.8" stroke="#222" stroke-width="0.5"/><line x1="398.29" y1="332.5" x2="398.29" y2="333.8" stroke="#222" stroke-width="0.5"/><line x1="401.46" y1="332.5" x2="401.46" y2="333.8" stroke="#222" stroke-width="0.5"/><line x1="404.25" y1="332.5" x2="404.25" y2="333.8" stroke="#222" stroke-width="0.5"/><line x1="406.75" y1="332.5" x2="406.75" y2="334.9" stroke="#222" stroke-width="0.5"/><line x1="423.19" y1="332.5" x2="423.19" y2="333.8" stroke="#222" stroke-width="0.5"/><line x1="432.81" y1="332.5" x2="432.81" y2="333.8" stroke="#222" stroke-width="0.5"/><line x1="439.64" y1="332.5" x2="439.64" y2="333.8" stroke="#222" stroke-width="0.5"/><line x1="444.93" y1="332.5" x2="444.93" y2="333.8" stroke="#222" stroke-width="0.5"/><line x1="449.26" y1="332.5" x2="449.26" y2="333.8" stroke="#222" stroke-width="0.5"/><line x1="452.91" y1="332.5" x2="452.91" y2="333.8" stroke="#222" stroke-width="0.5"/><line x1="456.08" y1="332.5" x2="456.08" y2="333.8" stroke="#222" stroke-width="0.5"/><line x1="458.88" y1="332.5" x2="458.88" y2="333.8" stroke="#222" stroke-width="0.5"/><line x1="461.38" y1="332.5" x2="461.38" y2="334.9" stroke="#222" stroke-width="0.5"/><line x1="477.82" y1="332.5" x2="477.82" y2="333.8" stroke="#222" stroke-width="0.5"/><line x1="487.44" y1="332.5" x2="487.44" y2="333.8" stroke="#222" stroke-width="0.5"/><line x1="494.26" y1="332.5" x2="494.26" y2="333.8" stroke="#222" stroke-width="0.5"/><line x1="499.56" y1="332.5" x2="499.56" y2="333.8" stroke="#222" stroke-width="0.5"/><line x1="503.88" y1="332.5" x2="503.88" y2="333.8" stroke="#222" stroke-width="0.5"/><line x1="507.54" y1="332.5" x2="507.54" y2="333.8" stroke="#222" stroke-width="0.5"/><line x1="510.71" y1="332.5" x2="510.71" y2="333.8" stroke="#222" stroke-width="0.5"/><line x1="513.50" y1="332.5" x2="513.50" y2="333.8" stroke="#222" stroke-width="0.5"/><line x1="516.00" y1="332.5" x2="516.00" y2="334.9" stroke="#222" stroke-width="0.5"/><text class="sn" transform="translate(297.1,342.8) scale(0.82,1)" font-size="6.4" text-anchor="middle" fill="#222">10<tspan dy="-3.3" font-size="5.1">0</tspan></text><text class="sn" transform="translate(351.7,342.8) scale(0.82,1)" font-size="6.4" text-anchor="middle" fill="#222">10<tspan dy="-3.3" font-size="5.1">1</tspan></text><text class="sn" transform="translate(406.4,342.8) scale(0.82,1)" font-size="6.4" text-anchor="middle" fill="#222">10<tspan dy="-3.3" font-size="5.1">2</tspan></text><text class="sn" transform="translate(461.0,342.8) scale(0.82,1)" font-size="6.4" text-anchor="middle" fill="#222">10<tspan dy="-3.3" font-size="5.1">3</tspan></text><text class="sn" transform="translate(515.6,342.8) scale(0.82,1)" font-size="6.4" text-anchor="middle" fill="#222">10<tspan dy="-3.3" font-size="5.1">4</tspan></text>
<line x1="362.5" y1="291.5" x2="516.5" y2="291.5" stroke="#505050" stroke-width="1"/><line x1="362.5" y1="286.7" x2="362.5" y2="296.3" stroke="#222" stroke-width="1"/><line x1="516.5" y1="280.0" x2="516.5" y2="332.5" stroke="#222" stroke-width="1"/><text x="445.0" y="289.7" class="sf pc" font-size="19.4" text-anchor="middle" fill="#000">71.1%</text>
<path d="M297.5 402.5 L297.5 398.54 L298.1 400.72 L298.7 398.93 L299.3 399.51 L299.9 401.54 L300.5 398.95 L301.1 396.76 L301.7 397.49 L302.3 399.18 L302.9 394.93 L303.5 394.68 L304.1 399.21 L304.7 396.66 L305.3 399.98 L305.9 398.23 L306.5 399.85 L307.1 397.74 L307.7 395.43 L308.3 399.58 L308.9 395.37 L309.5 396.08 L310.1 395.56 L310.7 394.50 L311.3 396.32 L311.9 398.51 L312.5 395.58 L313.1 396.69 L313.7 396.13 L314.3 395.71 L314.9 395.07 L315.5 392.37 L316.1 391.68 L316.7 390.87 L317.3 390.52 L317.9 392.80 L318.5 392.64 L319.1 389.67 L319.7 393.43 L320.3 388.35 L320.9 391.80 L321.5 390.23 L322.1 391.78 L322.7 385.22 L323.3 391.21 L323.9 391.18 L324.5 392.02 L325.1 394.65 L325.7 392.88 L326.3 385.15 L326.9 384.89 L327.5 385.96 L328.1 390.46 L328.7 387.62 L329.3 388.09 L329.9 384.52 L330.5 393.61 L331.1 386.40 L331.7 384.80 L332.3 392.55 L332.9 387.11 L333.5 388.91 L334.1 390.16 L334.7 386.35 L335.3 386.13 L335.9 389.60 L336.5 384.25 L337.1 390.93 L337.7 386.72 L338.3 386.99 L338.9 391.01 L339.5 388.55 L340.1 386.50 L340.7 388.58 L341.3 384.61 L341.9 383.86 L342.5 390.90 L343.1 385.54 L343.7 388.56 L344.3 391.02 L344.9 389.49 L345.5 390.11 L346.1 385.16 L346.7 389.67 L347.3 386.94 L347.9 389.15 L348.5 388.90 L349.1 390.61 L349.7 386.55 L350.3 385.62 L350.9 388.62 L351.5 393.46 L352.1 384.05 L352.7 387.07 L353.3 388.42 L353.9 385.24 L354.5 392.38 L355.1 389.60 L355.7 389.60 L356.3 387.54 L356.9 391.37 L357.5 392.86 L358.1 389.72 L358.7 389.24 L359.3 394.02 L359.9 389.90 L360.5 389.81 L361.1 386.77 L361.7 390.12 L362.3 388.31 L362.9 389.88 L363.5 389.52 L364.1 392.41 L364.7 392.00 L365.3 387.47 L365.9 388.42 L366.5 392.08 L367.1 388.23 L367.7 391.58 L368.3 383.09 L368.9 385.87 L369.5 385.39 L370.1 384.87 L370.7 388.62 L371.3 388.66 L371.9 389.52 L372.5 385.79 L373.1 386.75 L373.7 389.49 L374.3 387.85 L374.9 384.75 L375.5 387.27 L376.1 383.19 L376.7 385.32 L377.3 389.92 L377.9 388.36 L378.5 384.63 L379.1 384.14 L379.7 385.78 L380.3 381.48 L380.9 390.90 L381.5 388.49 L382.1 385.19 L382.7 389.28 L383.3 379.22 L383.9 381.61 L384.5 383.05 L385.1 381.64 L385.7 382.99 L386.3 383.50 L386.9 382.67 L387.5 380.24 L388.1 384.88 L388.7 372.86 L389.3 383.96 L389.9 384.59 L390.5 376.68 L391.1 378.94 L391.7 380.42 L392.3 379.06 L392.9 381.85 L393.5 382.00 L394.1 383.03 L394.7 382.22 L395.3 381.25 L395.9 382.65 L396.5 382.13 L397.1 378.77 L397.7 377.86 L398.3 379.58 L398.9 378.77 L399.5 378.44 L400.1 378.87 L400.7 377.31 L401.3 380.05 L401.9 376.01 L402.5 379.10 L403.1 377.46 L403.7 374.39 L404.3 377.56 L404.9 378.83 L405.5 379.04 L406.1 377.54 L406.7 377.03 L407.3 370.75 L407.9 381.53 L408.5 379.62 L409.1 377.38 L409.7 368.44 L410.3 380.23 L410.9 378.16 L411.5 374.48 L412.1 380.52 L412.7 369.62 L413.3 377.67 L413.9 378.92 L414.5 381.76 L415.1 381.41 L415.7 380.27 L416.3 380.04 L416.9 385.23 L417.5 383.08 L418.1 380.17 L418.7 385.53 L419.3 382.07 L419.9 385.65 L420.5 386.49 L421.1 386.49 L421.7 386.00 L422.3 388.63 L422.9 388.71 L423.5 383.04 L424.1 379.79 L424.7 389.97 L425.3 389.67 L425.9 389.98 L426.5 390.52 L427.1 387.14 L427.7 382.14 L428.3 386.88 L428.9 391.10 L429.5 385.38 L430.1 385.16 L430.7 385.87 L431.3 386.14 L431.9 391.36 L432.5 387.00 L433.1 392.39 L433.7 391.26 L434.3 391.46 L434.9 390.03 L435.5 394.89 L436.1 391.59 L436.7 394.48 L437.3 390.04 L437.9 393.29 L438.5 396.61 L439.1 392.66 L439.7 393.72 L440.3 398.53 L440.9 399.49 L441.5 394.02 L442.1 397.30 L442.7 402.50 L443.3 397.29 L443.9 400.04 L444.5 397.79 L445.1 399.15 L445.7 396.69 L446.3 400.10 L446.9 400.19 L447.5 400.73 L448.1 399.87 L448.7 400.29 L449.3 400.59 L449.9 399.37 L450.5 402.50 L451.1 401.43 L451.7 402.00 L452.3 401.68 L452.9 402.24 L453.5 402.31 L454.1 402.39 L454.7 402.46 L455.3 402.50 L455.9 402.50 L456.5 402.50 L457.1 402.50 L457.7 402.50 L458.3 402.50 L458.9 402.50 L459.5 402.50 L460.1 402.50 L460.7 402.50 L461.3 402.50 L461.9 402.50 L462.5 402.50 L463.1 402.50 L463.7 402.50 L464.3 402.50 L464.9 402.50 L465.5 402.50 L466.1 402.50 L466.7 402.50 L467.3 402.50 L467.9 402.50 L468.5 402.50 L469.1 402.50 L469.7 402.50 L470.3 402.50 L470.9 402.50 L471.5 402.50 L472.1 402.50 L472.7 402.50 L473.3 402.50 L473.9 402.50 L474.5 402.50 L475.1 402.50 L475.7 402.50 L476.3 402.50 L476.9 402.50 L477.5 402.50 L478.1 402.50 L478.7 402.50 L479.3 402.50 L479.9 402.50 L480.5 402.50 L481.1 402.50 L481.7 402.50 L482.3 402.50 L482.9 402.50 L483.5 402.50 L484.1 402.50 L484.7 402.50 L485.3 402.50 L485.9 402.50 L486.5 402.50 L487.1 402.50 L487.7 402.50 L488.3 402.50 L488.9 402.50 L489.5 402.50 L490.1 402.50 L490.7 402.50 L491.3 402.50 L491.9 402.50 L492.5 402.50 L493.1 402.50 L493.7 402.50 L494.3 402.50 L494.9 402.50 L495.5 402.50 L496.1 402.50 L496.7 402.50 L497.3 402.50 L497.9 402.50 L498.5 402.50 L499.1 402.50 L499.7 402.50 L500.3 402.50 L500.9 402.50 L501.5 402.50 L502.1 402.50 L502.7 402.50 L503.3 402.50 L503.9 402.50 L504.5 402.50 L505.1 402.50 L505.7 402.50 L506.3 402.50 L506.9 402.50 L507.5 402.50 L508.1 402.50 L508.7 402.50 L509.3 402.50 L509.9 402.50 L510.5 402.50 L511.1 402.50 L511.7 402.50 L512.3 402.50 L512.9 402.50 L513.5 402.50 L514.1 402.50 L514.7 402.50 L515.3 402.50 L515.9 402.50 L515.9 402.5 Z" fill="#9a9a9a" stroke="none"/><path d="M297.5 398.54 L298.1 400.72 L298.7 398.93 L299.3 399.51 L299.9 401.54 L300.5 398.95 L301.1 396.76 L301.7 397.49 L302.3 399.18 L302.9 394.93 L303.5 394.68 L304.1 399.21 L304.7 396.66 L305.3 399.98 L305.9 398.23 L306.5 399.85 L307.1 397.74 L307.7 395.43 L308.3 399.58 L308.9 395.37 L309.5 396.08 L310.1 395.56 L310.7 394.50 L311.3 396.32 L311.9 398.51 L312.5 395.58 L313.1 396.69 L313.7 396.13 L314.3 395.71 L314.9 395.07 L315.5 392.37 L316.1 391.68 L316.7 390.87 L317.3 390.52 L317.9 392.80 L318.5 392.64 L319.1 389.67 L319.7 393.43 L320.3 388.35 L320.9 391.80 L321.5 390.23 L322.1 391.78 L322.7 385.22 L323.3 391.21 L323.9 391.18 L324.5 392.02 L325.1 394.65 L325.7 392.88 L326.3 385.15 L326.9 384.89 L327.5 385.96 L328.1 390.46 L328.7 387.62 L329.3 388.09 L329.9 384.52 L330.5 393.61 L331.1 386.40 L331.7 384.80 L332.3 392.55 L332.9 387.11 L333.5 388.91 L334.1 390.16 L334.7 386.35 L335.3 386.13 L335.9 389.60 L336.5 384.25 L337.1 390.93 L337.7 386.72 L338.3 386.99 L338.9 391.01 L339.5 388.55 L340.1 386.50 L340.7 388.58 L341.3 384.61 L341.9 383.86 L342.5 390.90 L343.1 385.54 L343.7 388.56 L344.3 391.02 L344.9 389.49 L345.5 390.11 L346.1 385.16 L346.7 389.67 L347.3 386.94 L347.9 389.15 L348.5 388.90 L349.1 390.61 L349.7 386.55 L350.3 385.62 L350.9 388.62 L351.5 393.46 L352.1 384.05 L352.7 387.07 L353.3 388.42 L353.9 385.24 L354.5 392.38 L355.1 389.60 L355.7 389.60 L356.3 387.54 L356.9 391.37 L357.5 392.86 L358.1 389.72 L358.7 389.24 L359.3 394.02 L359.9 389.90 L360.5 389.81 L361.1 386.77 L361.7 390.12 L362.3 388.31 L362.9 389.88 L363.5 389.52 L364.1 392.41 L364.7 392.00 L365.3 387.47 L365.9 388.42 L366.5 392.08 L367.1 388.23 L367.7 391.58 L368.3 383.09 L368.9 385.87 L369.5 385.39 L370.1 384.87 L370.7 388.62 L371.3 388.66 L371.9 389.52 L372.5 385.79 L373.1 386.75 L373.7 389.49 L374.3 387.85 L374.9 384.75 L375.5 387.27 L376.1 383.19 L376.7 385.32 L377.3 389.92 L377.9 388.36 L378.5 384.63 L379.1 384.14 L379.7 385.78 L380.3 381.48 L380.9 390.90 L381.5 388.49 L382.1 385.19 L382.7 389.28 L383.3 379.22 L383.9 381.61 L384.5 383.05 L385.1 381.64 L385.7 382.99 L386.3 383.50 L386.9 382.67 L387.5 380.24 L388.1 384.88 L388.7 372.86 L389.3 383.96 L389.9 384.59 L390.5 376.68 L391.1 378.94 L391.7 380.42 L392.3 379.06 L392.9 381.85 L393.5 382.00 L394.1 383.03 L394.7 382.22 L395.3 381.25 L395.9 382.65 L396.5 382.13 L397.1 378.77 L397.7 377.86 L398.3 379.58 L398.9 378.77 L399.5 378.44 L400.1 378.87 L400.7 377.31 L401.3 380.05 L401.9 376.01 L402.5 379.10 L403.1 377.46 L403.7 374.39 L404.3 377.56 L404.9 378.83 L405.5 379.04 L406.1 377.54 L406.7 377.03 L407.3 370.75 L407.9 381.53 L408.5 379.62 L409.1 377.38 L409.7 368.44 L410.3 380.23 L410.9 378.16 L411.5 374.48 L412.1 380.52 L412.7 369.62 L413.3 377.67 L413.9 378.92 L414.5 381.76 L415.1 381.41 L415.7 380.27 L416.3 380.04 L416.9 385.23 L417.5 383.08 L418.1 380.17 L418.7 385.53 L419.3 382.07 L419.9 385.65 L420.5 386.49 L421.1 386.49 L421.7 386.00 L422.3 388.63 L422.9 388.71 L423.5 383.04 L424.1 379.79 L424.7 389.97 L425.3 389.67 L425.9 389.98 L426.5 390.52 L427.1 387.14 L427.7 382.14 L428.3 386.88 L428.9 391.10 L429.5 385.38 L430.1 385.16 L430.7 385.87 L431.3 386.14 L431.9 391.36 L432.5 387.00 L433.1 392.39 L433.7 391.26 L434.3 391.46 L434.9 390.03 L435.5 394.89 L436.1 391.59 L436.7 394.48 L437.3 390.04 L437.9 393.29 L438.5 396.61 L439.1 392.66 L439.7 393.72 L440.3 398.53 L440.9 399.49 L441.5 394.02 L442.1 397.30 L442.7 402.50 L443.3 397.29 L443.9 400.04 L444.5 397.79 L445.1 399.15 L445.7 396.69 L446.3 400.10 L446.9 400.19 L447.5 400.73 L448.1 399.87 L448.7 400.29 L449.3 400.59 L449.9 399.37 L450.5 402.50 L451.1 401.43 L451.7 402.00 L452.3 401.68 L452.9 402.24 L453.5 402.31 L454.1 402.39 L454.7 402.46 L455.3 402.50 L455.9 402.50 L456.5 402.50 L457.1 402.50 L457.7 402.50 L458.3 402.50 L458.9 402.50 L459.5 402.50 L460.1 402.50 L460.7 402.50 L461.3 402.50 L461.9 402.50 L462.5 402.50 L463.1 402.50 L463.7 402.50 L464.3 402.50 L464.9 402.50 L465.5 402.50 L466.1 402.50 L466.7 402.50 L467.3 402.50 L467.9 402.50 L468.5 402.50 L469.1 402.50 L469.7 402.50 L470.3 402.50 L470.9 402.50 L471.5 402.50 L472.1 402.50 L472.7 402.50 L473.3 402.50 L473.9 402.50 L474.5 402.50 L475.1 402.50 L475.7 402.50 L476.3 402.50 L476.9 402.50 L477.5 402.50 L478.1 402.50 L478.7 402.50 L479.3 402.50 L479.9 402.50 L480.5 402.50 L481.1 402.50 L481.7 402.50 L482.3 402.50 L482.9 402.50 L483.5 402.50 L484.1 402.50 L484.7 402.50 L485.3 402.50 L485.9 402.50 L486.5 402.50 L487.1 402.50 L487.7 402.50 L488.3 402.50 L488.9 402.50 L489.5 402.50 L490.1 402.50 L490.7 402.50 L491.3 402.50 L491.9 402.50 L492.5 402.50 L493.1 402.50 L493.7 402.50 L494.3 402.50 L494.9 402.50 L495.5 402.50 L496.1 402.50 L496.7 402.50 L497.3 402.50 L497.9 402.50 L498.5 402.50 L499.1 402.50 L499.7 402.50 L500.3 402.50 L500.9 402.50 L501.5 402.50 L502.1 402.50 L502.7 402.50 L503.3 402.50 L503.9 402.50 L504.5 402.50 L505.1 402.50 L505.7 402.50 L506.3 402.50 L506.9 402.50 L507.5 402.50 L508.1 402.50 L508.7 402.50 L509.3 402.50 L509.9 402.50 L510.5 402.50 L511.1 402.50 L511.7 402.50 L512.3 402.50 L512.9 402.50 L513.5 402.50 L514.1 402.50 L514.7 402.50 L515.3 402.50 L515.9 402.50" fill="none" stroke="#111" stroke-width="0.9" stroke-linejoin="round"/>
<line x1="297.5" y1="351.0" x2="297.5" y2="403.7" stroke="#151515" stroke-width="1.4"/><line x1="295.3" y1="402.50" x2="297.5" y2="402.50" stroke="#222" stroke-width="0.7"/><line x1="295.9" y1="400.44" x2="297.5" y2="400.44" stroke="#222" stroke-width="0.7"/><line x1="295.9" y1="398.38" x2="297.5" y2="398.38" stroke="#222" stroke-width="0.7"/><line x1="295.9" y1="396.32" x2="297.5" y2="396.32" stroke="#222" stroke-width="0.7"/><line x1="295.9" y1="394.26" x2="297.5" y2="394.26" stroke="#222" stroke-width="0.7"/><line x1="295.3" y1="392.20" x2="297.5" y2="392.20" stroke="#222" stroke-width="0.7"/><line x1="295.9" y1="390.14" x2="297.5" y2="390.14" stroke="#222" stroke-width="0.7"/><line x1="295.9" y1="388.08" x2="297.5" y2="388.08" stroke="#222" stroke-width="0.7"/><line x1="295.9" y1="386.02" x2="297.5" y2="386.02" stroke="#222" stroke-width="0.7"/><line x1="295.9" y1="383.96" x2="297.5" y2="383.96" stroke="#222" stroke-width="0.7"/><line x1="295.3" y1="381.90" x2="297.5" y2="381.90" stroke="#222" stroke-width="0.7"/><line x1="295.9" y1="379.84" x2="297.5" y2="379.84" stroke="#222" stroke-width="0.7"/><line x1="295.9" y1="377.78" x2="297.5" y2="377.78" stroke="#222" stroke-width="0.7"/><line x1="295.9" y1="375.72" x2="297.5" y2="375.72" stroke="#222" stroke-width="0.7"/><line x1="295.9" y1="373.66" x2="297.5" y2="373.66" stroke="#222" stroke-width="0.7"/><line x1="295.3" y1="371.60" x2="297.5" y2="371.60" stroke="#222" stroke-width="0.7"/><line x1="295.9" y1="369.54" x2="297.5" y2="369.54" stroke="#222" stroke-width="0.7"/><line x1="295.9" y1="367.48" x2="297.5" y2="367.48" stroke="#222" stroke-width="0.7"/><line x1="295.9" y1="365.42" x2="297.5" y2="365.42" stroke="#222" stroke-width="0.7"/><line x1="295.9" y1="363.36" x2="297.5" y2="363.36" stroke="#222" stroke-width="0.7"/><line x1="295.3" y1="361.30" x2="297.5" y2="361.30" stroke="#222" stroke-width="0.7"/><line x1="295.9" y1="359.24" x2="297.5" y2="359.24" stroke="#222" stroke-width="0.7"/><line x1="295.9" y1="357.18" x2="297.5" y2="357.18" stroke="#222" stroke-width="0.7"/><line x1="295.9" y1="355.12" x2="297.5" y2="355.12" stroke="#222" stroke-width="0.7"/><line x1="295.9" y1="353.06" x2="297.5" y2="353.06" stroke="#222" stroke-width="0.7"/><line x1="295.3" y1="351.00" x2="297.5" y2="351.00" stroke="#222" stroke-width="0.7"/>
<line x1="297.0" y1="402.7" x2="516.5" y2="402.7" stroke="#222" stroke-width="0.9"/><line x1="297.50" y1="402.5" x2="297.50" y2="404.9" stroke="#222" stroke-width="0.5"/><line x1="313.94" y1="402.5" x2="313.94" y2="403.8" stroke="#222" stroke-width="0.5"/><line x1="323.56" y1="402.5" x2="323.56" y2="403.8" stroke="#222" stroke-width="0.5"/><line x1="330.39" y1="402.5" x2="330.39" y2="403.8" stroke="#222" stroke-width="0.5"/><line x1="335.68" y1="402.5" x2="335.68" y2="403.8" stroke="#222" stroke-width="0.5"/><line x1="340.01" y1="402.5" x2="340.01" y2="403.8" stroke="#222" stroke-width="0.5"/><line x1="343.66" y1="402.5" x2="343.66" y2="403.8" stroke="#222" stroke-width="0.5"/><line x1="346.83" y1="402.5" x2="346.83" y2="403.8" stroke="#222" stroke-width="0.5"/><line x1="349.63" y1="402.5" x2="349.63" y2="403.8" stroke="#222" stroke-width="0.5"/><line x1="352.12" y1="402.5" x2="352.12" y2="404.9" stroke="#222" stroke-width="0.5"/><line x1="368.57" y1="402.5" x2="368.57" y2="403.8" stroke="#222" stroke-width="0.5"/><line x1="378.19" y1="402.5" x2="378.19" y2="403.8" stroke="#222" stroke-width="0.5"/><line x1="385.01" y1="402.5" x2="385.01" y2="403.8" stroke="#222" stroke-width="0.5"/><line x1="390.31" y1="402.5" x2="390.31" y2="403.8" stroke="#222" stroke-width="0.5"/><line x1="394.63" y1="402.5" x2="394.63" y2="403.8" stroke="#222" stroke-width="0.5"/><line x1="398.29" y1="402.5" x2="398.29" y2="403.8" stroke="#222" stroke-width="0.5"/><line x1="401.46" y1="402.5" x2="401.46" y2="403.8" stroke="#222" stroke-width="0.5"/><line x1="404.25" y1="402.5" x2="404.25" y2="403.8" stroke="#222" stroke-width="0.5"/><line x1="406.75" y1="402.5" x2="406.75" y2="404.9" stroke="#222" stroke-width="0.5"/><line x1="423.19" y1="402.5" x2="423.19" y2="403.8" stroke="#222" stroke-width="0.5"/><line x1="432.81" y1="402.5" x2="432.81" y2="403.8" stroke="#222" stroke-width="0.5"/><line x1="439.64" y1="402.5" x2="439.64" y2="403.8" stroke="#222" stroke-width="0.5"/><line x1="444.93" y1="402.5" x2="444.93" y2="403.8" stroke="#222" stroke-width="0.5"/><line x1="449.26" y1="402.5" x2="449.26" y2="403.8" stroke="#222" stroke-width="0.5"/><line x1="452.91" y1="402.5" x2="452.91" y2="403.8" stroke="#222" stroke-width="0.5"/><line x1="456.08" y1="402.5" x2="456.08" y2="403.8" stroke="#222" stroke-width="0.5"/><line x1="458.88" y1="402.5" x2="458.88" y2="403.8" stroke="#222" stroke-width="0.5"/><line x1="461.38" y1="402.5" x2="461.38" y2="404.9" stroke="#222" stroke-width="0.5"/><line x1="477.82" y1="402.5" x2="477.82" y2="403.8" stroke="#222" stroke-width="0.5"/><line x1="487.44" y1="402.5" x2="487.44" y2="403.8" stroke="#222" stroke-width="0.5"/><line x1="494.26" y1="402.5" x2="494.26" y2="403.8" stroke="#222" stroke-width="0.5"/><line x1="499.56" y1="402.5" x2="499.56" y2="403.8" stroke="#222" stroke-width="0.5"/><line x1="503.88" y1="402.5" x2="503.88" y2="403.8" stroke="#222" stroke-width="0.5"/><line x1="507.54" y1="402.5" x2="507.54" y2="403.8" stroke="#222" stroke-width="0.5"/><line x1="510.71" y1="402.5" x2="510.71" y2="403.8" stroke="#222" stroke-width="0.5"/><line x1="513.50" y1="402.5" x2="513.50" y2="403.8" stroke="#222" stroke-width="0.5"/><line x1="516.00" y1="402.5" x2="516.00" y2="404.9" stroke="#222" stroke-width="0.5"/><text class="sn" transform="translate(297.1,412.8) scale(0.82,1)" font-size="6.4" text-anchor="middle" fill="#222">10<tspan dy="-3.3" font-size="5.1">0</tspan></text><text class="sn" transform="translate(351.7,412.8) scale(0.82,1)" font-size="6.4" text-anchor="middle" fill="#222">10<tspan dy="-3.3" font-size="5.1">1</tspan></text><text class="sn" transform="translate(406.4,412.8) scale(0.82,1)" font-size="6.4" text-anchor="middle" fill="#222">10<tspan dy="-3.3" font-size="5.1">2</tspan></text><text class="sn" transform="translate(461.0,412.8) scale(0.82,1)" font-size="6.4" text-anchor="middle" fill="#222">10<tspan dy="-3.3" font-size="5.1">3</tspan></text><text class="sn" transform="translate(515.6,412.8) scale(0.82,1)" font-size="6.4" text-anchor="middle" fill="#222">10<tspan dy="-3.3" font-size="5.1">4</tspan></text>
<line x1="361.5" y1="360.5" x2="516.5" y2="360.5" stroke="#505050" stroke-width="1"/><line x1="361.5" y1="355.7" x2="361.5" y2="365.3" stroke="#222" stroke-width="1"/><line x1="516.5" y1="351.0" x2="516.5" y2="402.5" stroke="#222" stroke-width="1"/><text x="445.0" y="358.7" class="sf pc" font-size="19.4" text-anchor="middle" fill="#000">65.3%</text>
<line x1="26.9" y1="66" x2="26.9" y2="427.2" stroke="#000" stroke-width="3"/>
<line x1="25.4" y1="425.7" x2="508" y2="425.7" stroke="#000" stroke-width="3"/>
<polygon points="27,55.5 19.4,69.4 34.4,69.4" fill="#000"/>
<polygon points="520.5,426.8 506.5,419.6 506.5,434.2" fill="#000"/>
<text x="37.9" y="93.3" class="sb" font-size="25.2" fill="#000" stroke="#000" stroke-width="0.45">A</text>
<text x="37.9" y="168.9" class="sb" font-size="25.2" fill="#000" stroke="#000" stroke-width="0.45">B</text>
<text x="37.9" y="245.8" class="sb" font-size="25.2" fill="#000" stroke="#000" stroke-width="0.45">C</text>
<text x="37.9" y="316.1" class="sb" font-size="25.2" fill="#000" stroke="#000" stroke-width="0.45">D</text>
<text x="37.9" y="387.0" class="sb" font-size="25.2" fill="#000" stroke="#000" stroke-width="0.45">E</text>
<text x="171.8" y="23.6" class="sf" font-size="23.3" text-anchor="middle" fill="#000">Whole Tissue</text>
<text x="403.6" y="14.8" class="sf" font-size="22.7" text-anchor="middle" fill="#000">Enriched Stem</text>
<text x="403.6" y="36" class="sf" font-size="22.9" text-anchor="middle" fill="#000">Cell Fraction</text>
<text x="448.7" y="449.1" class="sf" font-size="22.2" text-anchor="middle" fill="#000">JAM-A</text>
<text transform="translate(17.6,214.3) rotate(-90) scale(1,1.06)" class="sf" font-size="23.7" text-anchor="middle" fill="#000">Number of cells</text>
</g>
</svg>
</body></html>
